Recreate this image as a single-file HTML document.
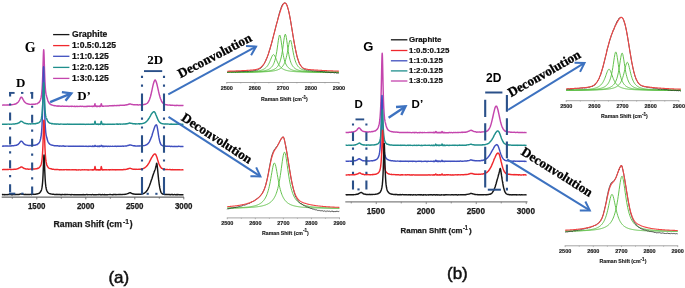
<!DOCTYPE html>
<html><head><meta charset="utf-8"><style>
html,body{margin:0;padding:0;background:#fff;}
body{width:685px;height:288px;overflow:hidden;font-family:"Liberation Sans",sans-serif;}
svg{display:block;will-change:transform;}
</style></head><body>
<svg width="685" height="288" viewBox="0 0 685 288">
<rect width="685" height="288" fill="#fff"/>
<path d="M2.00,105.10 2.50,105.15 3.00,105.08 3.50,105.06 4.00,105.00 4.50,105.05 5.00,105.14 5.50,105.08 6.00,105.11 6.50,105.03 7.00,105.03 7.50,104.99 8.00,104.82 8.50,105.00 9.00,104.94 9.50,104.91 10.00,104.71 10.50,104.67 11.00,104.69 11.50,104.68 12.00,104.69 12.50,104.60 13.00,104.57 13.50,104.39 14.00,104.37 14.50,104.26 15.00,104.03 15.50,104.05 16.00,103.75 16.50,103.54 17.00,103.08 17.50,102.68 18.00,102.22 18.50,101.62 19.00,100.92 19.50,99.99 20.00,98.94 20.50,97.95 21.00,97.31 21.50,97.27 22.00,97.50 22.50,98.38 23.00,99.37 23.50,100.18 24.00,101.13 24.50,101.92 25.00,102.21 25.50,102.78 26.00,103.14 26.50,103.36 27.00,103.68 27.50,103.81 28.00,103.84 28.50,104.14 29.00,104.21 29.50,104.31 30.00,104.40 30.50,104.35 31.00,104.36 31.50,104.27 32.00,104.43 32.50,104.33 33.00,104.32 33.50,104.24 34.00,104.22 34.50,104.21 35.00,104.29 35.50,103.94 36.00,103.89 36.50,103.90 37.00,103.83 37.50,103.56 38.00,103.09 38.50,102.70 39.00,102.47 39.50,101.77 40.00,100.87 40.50,99.79 40.70,99.14 40.80,98.70 40.90,98.29 41.00,97.86 41.10,97.47 41.20,96.85 41.30,96.25 41.40,95.60 41.50,94.71 41.60,94.14 41.70,93.23 41.80,92.21 41.90,90.91 42.00,89.79 42.10,88.53 42.20,86.78 42.30,85.20 42.40,83.37 42.50,81.04 42.60,78.90 42.70,76.19 42.80,73.26 42.90,70.19 43.00,66.93 43.10,63.50 43.20,60.19 43.30,56.84 43.40,54.03 43.50,51.90 43.60,50.37 43.70,49.79 43.80,50.41 43.90,51.86 44.00,53.91 44.10,56.62 44.20,59.89 44.30,63.23 44.40,66.57 44.50,69.94 44.60,72.80 44.70,75.80 44.80,78.16 44.90,80.51 45.00,82.70 45.10,84.58 45.20,86.19 45.30,87.59 45.40,88.85 45.50,89.97 45.60,90.99 45.70,91.80 45.80,92.59 45.90,93.27 46.00,93.81 46.10,94.38 46.20,94.81 46.30,95.33 46.40,95.57 46.50,95.85 46.60,96.19 46.70,96.55 46.80,96.96 46.90,97.20 47.00,97.61 47.10,98.09 47.20,98.10 47.30,98.58 47.40,99.05 47.50,99.42 47.60,99.76 47.70,100.03 47.80,100.44 47.90,100.70 48.00,100.92 48.10,101.42 48.20,101.50 48.30,101.66 48.40,101.91 48.50,102.10 48.60,102.30 48.70,102.26 48.80,102.60 48.90,102.88 49.00,102.85 49.10,103.07 49.20,103.28 49.30,103.39 49.40,103.56 49.50,103.41 49.60,103.62 49.70,103.71 49.80,103.88 50.00,104.09 50.50,104.14 51.00,104.73 51.50,104.76 52.00,105.13 52.50,105.12 53.00,105.39 53.50,105.59 54.00,105.58 54.50,105.69 55.00,105.81 55.50,105.83 56.00,105.86 56.50,106.04 57.00,106.05 57.50,105.98 58.00,106.25 58.50,105.97 59.00,106.16 59.50,106.09 60.00,106.14 60.50,106.21 61.00,106.18 61.50,106.23 62.00,106.07 62.50,106.09 63.00,106.27 63.50,106.15 64.00,106.16 64.50,106.13 65.00,106.36 65.50,106.32 66.00,106.39 66.50,106.20 67.00,106.28 67.50,106.20 68.00,106.36 68.50,106.43 69.00,106.23 69.50,106.43 70.00,106.39 70.50,106.30 71.00,106.16 71.50,106.44 72.00,106.32 72.50,106.28 73.00,106.36 73.50,106.37 74.00,106.46 74.50,106.26 75.00,106.43 75.50,106.46 76.00,106.46 76.50,106.33 77.00,106.29 77.50,106.43 78.00,106.36 78.50,106.36 79.00,106.47 79.50,106.33 80.00,106.17 80.50,106.33 81.00,106.21 81.50,106.42 82.00,106.38 82.50,106.31 83.00,106.36 83.50,106.43 84.00,106.37 84.50,106.47 85.00,106.36 85.50,106.44 86.00,106.48 86.50,106.49 87.00,106.30 87.50,106.43 88.00,106.21 88.50,106.27 89.00,106.20 89.50,106.44 90.00,106.25 90.50,106.35 91.00,106.33 91.50,106.34 92.00,106.29 92.10,106.36 92.20,106.48 92.30,106.34 92.40,106.38 92.50,106.42 92.60,106.32 92.70,106.23 92.80,106.29 92.90,106.42 93.00,106.20 93.10,106.28 93.20,106.41 93.30,106.39 93.40,106.33 93.50,106.39 93.60,106.34 93.70,106.23 93.80,106.20 93.90,106.27 94.00,106.39 94.10,106.25 94.20,106.18 94.30,106.10 94.40,105.87 94.50,105.70 94.60,105.21 94.70,104.85 94.80,104.14 94.90,103.98 95.00,103.76 95.10,103.80 95.20,104.38 95.30,104.79 95.40,105.12 95.50,105.63 95.60,106.01 95.70,106.12 95.80,106.30 95.90,106.34 96.00,106.35 96.10,106.33 96.20,106.41 96.30,106.35 96.40,106.34 96.50,106.13 96.60,106.37 96.70,106.40 96.80,106.27 96.90,106.26 97.00,106.45 97.10,106.15 97.20,106.33 97.30,106.48 97.40,106.21 97.50,106.34 97.60,106.43 97.70,106.27 97.80,106.33 97.90,106.35 98.00,106.21 98.30,106.27 98.40,106.29 98.50,106.34 98.60,106.26 98.70,106.25 98.80,106.18 98.90,106.23 99.00,106.33 99.10,106.27 99.20,106.19 99.30,106.19 99.40,106.47 99.50,106.34 99.60,106.30 99.70,106.04 99.80,106.29 99.90,106.28 100.00,106.38 100.10,106.27 100.20,106.23 100.30,106.27 100.40,106.05 100.50,106.25 100.60,106.10 100.70,105.84 100.80,105.72 100.90,105.35 101.00,104.60 101.10,104.17 101.20,103.87 101.30,103.73 101.40,103.81 101.50,104.13 101.60,104.87 101.70,105.27 101.80,105.50 101.90,105.76 102.00,106.17 102.10,106.20 102.20,106.31 102.30,106.24 102.40,106.11 102.50,106.20 102.60,106.00 102.70,106.11 102.80,106.17 102.90,106.21 103.00,106.11 103.10,106.15 103.20,106.20 103.30,106.19 103.40,106.20 103.50,106.17 103.60,106.12 103.70,106.21 103.80,106.14 103.90,106.07 104.00,106.08 104.10,106.13 104.20,106.12 104.30,106.14 104.50,106.12 105.00,106.11 105.50,106.07 106.00,105.96 106.50,106.07 107.00,106.10 107.50,106.03 108.00,105.96 108.50,105.99 109.00,105.85 109.50,105.75 110.00,105.88 110.50,105.78 111.00,105.89 111.50,105.72 112.00,105.57 112.50,105.67 113.00,105.85 113.50,105.67 114.00,105.56 114.50,105.58 115.00,105.66 115.50,105.63 116.00,105.58 116.50,105.66 117.00,105.57 117.50,105.49 118.00,105.51 118.50,105.58 119.00,105.50 119.50,105.48 120.00,105.28 120.50,105.33 121.00,105.38 121.50,105.27 122.00,105.35 122.50,105.29 123.00,105.28 123.50,105.16 124.00,105.34 124.50,105.20 125.00,105.03 125.50,105.00 126.00,105.14 126.50,104.82 127.00,104.82 127.50,104.71 128.00,104.49 128.50,104.24 129.00,104.19 129.50,104.07 130.00,104.08 130.50,104.08 131.00,104.13 131.50,104.34 132.00,104.46 132.50,104.55 133.00,104.64 133.50,104.69 134.00,104.82 134.50,104.72 135.00,104.79 135.50,104.86 136.00,104.76 136.50,104.85 137.00,104.73 137.50,104.83 138.00,104.93 138.50,104.92 139.00,104.86 139.50,104.84 140.00,104.73 140.50,104.97 141.00,104.84 141.50,104.86 142.00,104.67 142.50,104.69 143.00,104.51 143.50,104.67 144.00,104.62 144.50,104.31 145.00,104.35 145.50,104.26 146.00,103.88 146.50,103.63 147.00,103.35 147.50,102.94 148.00,102.29 148.50,101.64 149.00,100.70 149.50,99.54 150.00,98.11 150.50,96.50 151.00,94.55 151.50,92.23 152.00,90.04 152.50,87.68 153.00,85.43 153.50,83.47 154.00,81.80 154.50,80.68 155.00,80.02 155.50,80.26 156.00,81.23 156.50,82.65 157.00,84.49 157.50,86.63 158.00,88.82 158.50,91.20 159.00,93.33 159.50,95.31 160.00,97.06 160.50,98.67 161.00,99.80 161.50,101.05 162.00,102.03 162.50,102.62 163.00,103.31 163.50,103.73 164.00,103.93 164.50,104.27 165.00,104.46 165.50,104.66 166.00,104.79 166.50,104.83 167.00,104.83 167.50,104.95 168.00,105.01 168.50,105.12 169.00,105.12 169.50,105.08 170.00,105.06 170.50,105.17 171.00,105.16 171.50,105.16 172.00,105.26 172.50,105.25 173.00,105.32 173.50,105.37 174.00,105.31 174.50,105.54 175.00,105.34 175.50,105.47 176.00,105.40 176.50,105.50 177.00,105.23 177.50,105.37 178.00,105.46 178.50,105.49 179.00,105.64 179.50,105.49 180.00,105.57 180.50,105.54 181.00,105.56 181.50,105.53 182.00,105.48 182.50,105.54 183.00,105.42 183.50,105.60" fill="none" stroke="#c445ad" stroke-width="1.45" stroke-linejoin="round" />
<path d="M2.00,145.99 2.50,146.09 3.00,146.24 3.50,146.04 4.00,146.06 4.50,146.14 5.00,146.05 5.50,145.97 6.00,146.05 6.50,146.07 7.00,146.07 7.50,145.94 8.00,146.13 8.50,146.11 9.00,145.96 9.50,145.97 10.00,145.89 10.50,146.02 11.00,145.83 11.50,145.91 12.00,145.79 12.50,145.74 13.00,145.81 13.50,145.81 14.00,145.64 14.50,145.52 15.00,145.56 15.50,145.39 16.00,145.30 16.50,145.24 17.00,145.02 17.50,144.65 18.00,144.57 18.50,143.99 19.00,143.56 19.50,142.85 20.00,142.23 20.50,141.45 21.00,141.31 21.50,141.22 22.00,141.37 22.50,141.95 23.00,142.60 23.50,143.43 24.00,143.80 24.50,144.23 25.00,144.52 25.50,144.77 26.00,144.88 26.50,145.11 27.00,145.11 27.50,145.30 28.00,145.40 28.50,145.46 29.00,145.44 29.50,145.41 30.00,145.51 30.50,145.47 31.00,145.63 31.50,145.55 32.00,145.46 32.50,145.40 33.00,145.35 33.50,145.28 34.00,145.27 34.50,145.25 35.00,145.17 35.50,145.07 36.00,145.05 36.50,144.66 37.00,144.51 37.50,144.47 38.00,143.76 38.50,143.43 39.00,142.90 39.50,142.10 40.00,141.00 40.50,139.30 40.60,138.93 40.70,138.45 40.80,138.00 40.90,137.24 41.00,136.71 41.10,136.12 41.20,135.30 41.30,134.48 41.40,133.71 41.50,132.59 41.60,131.57 41.70,130.31 41.80,128.86 41.90,127.28 42.00,125.43 42.10,123.29 42.20,121.10 42.30,118.54 42.40,115.51 42.50,112.22 42.60,108.55 42.70,104.24 42.80,99.76 42.90,94.85 43.00,89.37 43.10,84.01 43.20,78.73 43.30,74.11 43.40,70.18 43.50,67.72 43.60,66.71 43.70,67.62 43.80,70.10 43.90,73.76 44.00,78.75 44.10,83.94 44.20,89.11 44.30,94.57 44.40,99.47 44.50,104.09 44.60,108.22 44.70,111.77 44.80,115.16 44.90,118.20 45.00,120.59 45.10,122.80 45.20,124.75 45.30,126.50 45.40,128.15 45.50,129.60 45.60,130.68 45.70,131.71 45.80,132.78 45.90,133.36 46.00,134.06 46.10,134.79 46.20,135.35 46.30,135.72 46.40,136.16 46.50,136.70 46.60,137.09 46.70,137.34 46.80,137.80 46.90,138.14 47.00,138.59 47.10,138.91 47.20,139.27 47.30,139.61 47.40,140.06 47.50,140.42 47.60,140.59 47.70,140.99 47.80,141.14 47.90,141.47 48.00,141.77 48.10,142.06 48.20,142.12 48.30,142.35 48.40,142.55 48.50,142.59 48.60,142.87 48.70,142.96 48.80,143.19 48.90,143.20 49.00,143.25 49.10,143.53 49.20,143.65 49.30,143.69 49.40,143.90 49.50,143.89 49.60,143.95 49.70,144.12 49.80,144.03 50.00,144.24 50.50,144.59 51.00,144.89 51.50,144.99 52.00,145.18 52.50,145.23 53.00,145.41 53.50,145.61 54.00,145.50 54.50,145.81 55.00,145.63 55.50,145.73 56.00,145.79 56.50,145.90 57.00,145.75 57.50,145.71 58.00,145.96 58.50,146.00 59.00,146.01 59.50,146.19 60.00,146.02 60.50,146.04 61.00,146.11 61.50,146.08 62.00,146.20 62.50,145.98 63.00,146.06 63.50,145.82 64.00,146.18 64.50,146.09 65.00,146.20 65.50,146.31 66.00,146.15 66.50,146.13 67.00,146.12 67.50,146.10 68.00,146.12 68.50,146.23 69.00,146.19 69.50,146.20 70.00,146.18 70.50,146.27 71.00,146.25 71.50,146.20 72.00,146.27 72.50,146.21 73.00,146.13 73.50,146.34 74.00,146.27 74.50,146.16 75.00,146.32 75.50,146.27 76.00,146.12 76.50,146.38 77.00,146.28 77.50,146.32 78.00,146.27 78.50,146.25 79.00,146.14 79.50,146.34 80.00,146.27 80.50,146.25 81.00,146.30 81.50,146.28 82.00,146.33 82.50,146.25 83.00,146.28 83.50,146.11 84.00,146.25 84.50,146.34 85.00,146.39 85.50,146.26 86.00,146.28 86.50,146.42 87.00,146.27 87.50,146.35 88.00,146.43 88.50,146.30 89.00,146.40 89.50,146.24 90.00,146.32 90.50,146.30 91.00,146.31 91.50,146.39 92.00,146.50 92.10,146.25 92.20,146.26 92.30,146.35 92.40,146.22 92.50,146.35 92.60,146.35 92.70,146.28 92.80,146.35 92.90,146.18 93.00,146.37 93.10,146.18 93.20,146.25 93.30,146.26 93.40,146.28 93.50,146.38 93.60,146.32 93.70,146.28 93.80,146.35 93.90,146.43 94.00,146.31 94.10,146.33 94.20,146.38 94.30,146.27 94.40,146.08 94.50,146.27 94.60,146.08 94.70,145.55 94.80,145.51 94.90,145.40 95.00,145.39 95.10,145.42 95.20,145.49 95.30,145.63 95.40,145.92 95.50,146.15 95.60,146.10 95.70,146.17 95.80,146.28 95.90,146.15 96.00,146.29 96.10,146.28 96.20,146.35 96.30,146.26 96.40,146.24 96.50,146.28 96.60,146.31 96.70,146.26 96.80,146.32 96.90,146.37 97.00,146.41 97.10,146.45 97.20,146.25 97.30,146.28 97.40,146.12 97.50,146.47 97.60,146.26 97.70,146.31 97.80,146.36 97.90,146.21 98.00,146.35 98.30,146.31 98.40,146.17 98.50,146.34 98.60,146.41 98.70,146.17 98.80,146.38 98.90,146.33 99.00,146.36 99.10,146.35 99.20,146.42 99.30,146.30 99.40,146.39 99.50,146.29 99.60,146.38 99.70,146.25 99.80,146.31 99.90,146.46 100.00,146.35 100.10,146.31 100.20,146.23 100.30,146.25 100.40,146.32 100.50,146.37 100.60,146.29 100.70,146.23 100.80,146.07 100.90,146.02 101.00,145.69 101.10,145.48 101.20,145.45 101.30,145.32 101.40,145.35 101.50,145.48 101.60,145.70 101.70,145.97 101.80,146.11 101.90,146.09 102.00,146.29 102.10,146.31 102.20,146.23 102.30,146.38 102.40,146.30 102.50,146.29 102.60,146.38 102.70,146.43 102.80,146.27 102.90,146.36 103.00,146.25 103.10,146.51 103.20,146.28 103.30,146.42 103.40,146.27 103.50,146.39 103.60,146.50 103.70,146.12 103.80,146.29 103.90,146.36 104.00,146.31 104.10,146.27 104.20,146.49 104.30,146.33 104.50,146.19 105.00,146.39 105.50,146.18 106.00,146.41 106.50,146.27 107.00,146.33 107.50,146.42 108.00,146.33 108.50,146.21 109.00,146.18 109.50,146.41 110.00,146.38 110.50,146.25 111.00,146.38 111.50,146.35 112.00,146.36 112.50,146.13 113.00,146.28 113.50,146.38 114.00,146.36 114.50,146.37 115.00,146.10 115.50,146.31 116.00,146.33 116.50,146.49 117.00,146.21 117.50,146.26 118.00,146.28 118.50,146.34 119.00,146.23 119.50,146.35 120.00,146.19 120.50,146.26 121.00,146.19 121.50,146.23 122.00,146.15 122.50,146.06 123.00,146.26 123.50,146.18 124.00,146.08 124.50,146.11 125.00,146.14 125.50,145.93 126.00,145.94 126.50,145.92 127.00,145.82 127.50,145.63 128.00,145.34 128.50,145.44 129.00,145.19 129.50,145.02 130.00,144.94 130.50,145.03 131.00,145.11 131.50,145.22 132.00,145.41 132.50,145.56 133.00,145.66 133.50,145.70 134.00,145.91 134.50,145.80 135.00,145.99 135.50,145.88 136.00,146.00 136.50,146.10 137.00,146.01 137.50,145.93 138.00,145.99 138.50,145.99 139.00,145.83 139.50,145.91 140.00,145.95 140.50,145.88 141.00,145.90 141.50,145.92 142.00,145.89 142.50,145.86 143.00,145.78 143.50,145.65 144.00,145.60 144.50,145.49 145.00,145.36 145.50,145.22 146.00,144.91 146.50,144.78 147.00,144.50 147.50,144.05 148.00,143.65 148.50,143.12 149.00,142.36 149.50,141.71 150.00,140.37 150.50,139.45 151.00,138.06 151.50,136.90 152.00,135.53 152.50,133.54 153.00,132.12 153.50,130.53 154.00,128.92 154.50,127.58 155.00,126.17 155.50,125.52 156.00,124.95 156.50,124.83 157.00,125.96 157.50,128.56 158.00,131.67 158.50,135.03 159.00,137.97 159.50,140.30 160.00,142.35 160.50,143.70 161.00,144.62 161.50,145.05 162.00,145.46 162.50,145.73 163.00,145.84 163.50,146.03 164.00,146.16 164.50,145.99 165.00,145.96 165.50,146.22 166.00,146.31 166.50,146.30 167.00,146.31 167.50,146.22 168.00,146.24 168.50,146.38 169.00,146.26 169.50,146.20 170.00,146.28 170.50,146.57 171.00,146.54 171.50,146.34 172.00,146.34 172.50,146.43 173.00,146.36 173.50,146.53 174.00,146.43 174.50,146.35 175.00,146.55 175.50,146.41 176.00,146.48 176.50,146.46 177.00,146.44 177.50,146.50 178.00,146.42 178.50,146.33 179.00,146.31 179.50,146.39 180.00,146.43 180.50,146.49 181.00,146.50 181.50,146.55 182.00,146.51 182.50,146.44 183.00,146.45 183.50,146.34" fill="none" stroke="#3f4fbf" stroke-width="1.45" stroke-linejoin="round" />
<path d="M2.00,124.21 2.50,124.26 3.00,124.26 3.50,124.21 4.00,124.20 4.50,124.29 5.00,124.21 5.50,124.26 6.00,124.24 6.50,124.21 7.00,124.29 7.50,124.13 8.00,124.14 8.50,124.10 9.00,124.09 9.50,124.27 10.00,124.27 10.50,124.12 11.00,124.15 11.50,124.18 12.00,124.13 12.50,124.14 13.00,123.92 13.50,123.94 14.00,123.99 14.50,124.03 15.00,123.88 15.50,123.74 16.00,123.71 16.50,123.59 17.00,123.46 17.50,123.50 18.00,123.15 18.50,122.96 19.00,122.84 19.50,122.40 20.00,121.93 20.50,121.47 21.00,121.30 21.50,121.37 22.00,121.50 22.50,121.91 23.00,122.21 23.50,122.61 24.00,122.85 24.50,123.14 25.00,123.40 25.50,123.32 26.00,123.54 26.50,123.66 27.00,123.66 27.50,123.73 28.00,123.86 28.50,123.99 29.00,123.90 29.50,123.89 30.00,123.75 30.50,124.04 31.00,123.89 31.50,123.87 32.00,123.78 32.50,123.85 33.00,123.75 33.50,123.82 34.00,123.82 34.50,123.75 35.00,123.72 35.50,123.58 36.00,123.69 36.50,123.44 37.00,123.24 37.50,123.24 38.00,123.02 38.50,122.79 39.00,122.55 39.50,122.21 40.00,121.54 40.50,120.83 40.70,120.53 40.80,120.23 40.90,119.90 41.00,119.64 41.10,119.30 41.20,118.96 41.30,118.63 41.40,118.14 41.50,117.48 41.60,117.14 41.70,116.48 41.80,115.94 41.90,115.10 42.00,114.32 42.10,113.54 42.20,112.22 42.30,111.01 42.40,109.63 42.50,108.00 42.60,106.30 42.70,104.53 42.80,102.26 42.90,99.75 43.00,97.17 43.10,94.57 43.20,91.63 43.30,88.90 43.40,86.47 43.50,84.55 43.60,83.28 43.70,82.75 43.80,83.12 43.90,84.41 44.00,86.52 44.10,88.96 44.20,91.55 44.30,94.42 44.40,97.15 44.50,99.72 44.60,102.06 44.70,104.15 44.80,106.13 44.90,107.76 45.00,109.49 45.10,110.75 45.20,111.77 45.30,113.00 45.40,113.85 45.50,114.40 45.60,115.38 45.70,115.89 45.80,116.51 45.90,116.70 46.00,117.23 46.10,117.57 46.20,117.86 46.30,118.12 46.40,118.44 46.50,118.46 46.60,118.69 46.70,118.89 46.80,119.17 46.90,119.37 47.00,119.67 47.10,119.88 47.20,120.08 47.30,120.24 47.40,120.47 47.50,120.79 47.60,120.97 47.70,121.10 47.80,121.25 47.90,121.56 48.00,121.54 48.10,121.79 48.20,121.96 48.30,121.97 48.40,122.17 48.50,122.12 48.60,122.39 48.70,122.41 48.80,122.36 48.90,122.62 49.00,122.56 49.10,122.81 49.20,122.72 49.30,122.82 49.40,122.91 49.50,122.91 49.60,123.01 49.70,122.99 49.80,123.14 50.00,123.17 50.50,123.35 51.00,123.25 51.50,123.67 52.00,123.66 52.50,123.59 53.00,123.80 53.50,123.88 54.00,123.97 54.50,123.83 55.00,124.08 55.50,123.97 56.00,124.20 56.50,124.01 57.00,124.10 57.50,124.03 58.00,123.99 58.50,124.18 59.00,124.18 59.50,124.24 60.00,124.19 60.50,124.09 61.00,124.01 61.50,124.10 62.00,124.10 62.50,124.10 63.00,124.22 63.50,124.20 64.00,124.16 64.50,124.20 65.00,124.18 65.50,124.21 66.00,124.26 66.50,124.28 67.00,124.15 67.50,124.09 68.00,124.33 68.50,124.22 69.00,124.30 69.50,124.09 70.00,124.19 70.50,124.23 71.00,124.11 71.50,124.19 72.00,124.29 72.50,124.32 73.00,124.36 73.50,124.16 74.00,124.12 74.50,124.28 75.00,124.31 75.50,124.25 76.00,124.14 76.50,124.30 77.00,124.31 77.50,124.29 78.00,124.20 78.50,124.27 79.00,124.31 79.50,124.20 80.00,124.10 80.50,124.27 81.00,124.29 81.50,124.25 82.00,124.32 82.50,124.20 83.00,124.24 83.50,124.23 84.00,124.30 84.50,124.38 85.00,124.23 85.50,124.42 86.00,124.37 86.50,124.32 87.00,124.30 87.50,124.39 88.00,124.24 88.50,124.24 89.00,124.17 89.50,124.29 90.00,124.36 90.50,124.30 91.00,124.29 91.50,124.24 92.00,124.27 92.10,124.14 92.20,124.34 92.30,124.22 92.40,124.16 92.50,124.19 92.60,124.19 92.70,124.32 92.80,124.34 92.90,124.14 93.00,124.33 93.10,124.32 93.20,124.21 93.30,124.13 93.40,124.19 93.50,124.20 93.60,124.28 93.70,124.22 93.80,124.09 93.90,124.27 94.00,124.12 94.10,124.29 94.20,124.08 94.30,124.01 94.40,123.79 94.50,123.48 94.60,123.14 94.70,122.52 94.80,121.91 94.90,121.44 95.00,121.13 95.10,121.38 95.20,121.82 95.30,122.37 95.40,123.08 95.50,123.46 95.60,123.80 95.70,123.98 95.80,124.01 95.90,124.27 96.00,124.35 96.10,124.26 96.20,124.17 96.30,124.03 96.40,124.27 96.50,124.35 96.60,124.28 96.70,124.33 96.80,124.37 96.90,124.34 97.00,124.22 97.10,124.34 97.20,124.31 97.30,124.13 97.40,124.22 97.50,124.14 97.60,124.24 97.70,124.30 97.80,124.17 97.90,124.09 98.00,124.35 98.30,124.28 98.40,124.37 98.50,124.14 98.60,124.33 98.70,124.42 98.80,124.41 98.90,124.23 99.00,124.27 99.10,124.24 99.20,124.33 99.30,124.33 99.40,124.26 99.50,124.14 99.60,124.31 99.70,124.21 99.80,124.30 99.90,124.27 100.00,124.38 100.10,124.34 100.20,124.21 100.30,124.27 100.40,124.36 100.50,124.12 100.60,124.10 100.70,123.95 100.80,123.62 100.90,123.08 101.00,122.34 101.10,121.75 101.20,121.43 101.30,121.28 101.40,121.62 101.50,121.79 101.60,122.54 101.70,123.10 101.80,123.38 101.90,123.79 102.00,124.07 102.10,124.13 102.20,124.20 102.30,124.27 102.40,124.18 102.50,124.28 102.60,124.19 102.70,124.20 102.80,124.29 102.90,124.20 103.00,124.27 103.10,124.37 103.20,124.25 103.30,124.23 103.40,124.30 103.50,124.22 103.60,124.33 103.70,124.14 103.80,124.29 103.90,124.20 104.00,124.18 104.10,124.38 104.20,124.18 104.30,124.38 104.50,124.30 105.00,124.36 105.50,124.16 106.00,124.34 106.50,124.36 107.00,124.23 107.50,124.23 108.00,124.43 108.50,124.25 109.00,124.20 109.50,124.18 110.00,124.27 110.50,124.25 111.00,124.24 111.50,124.36 112.00,124.20 112.50,124.26 113.00,124.34 113.50,124.14 114.00,124.30 114.50,124.36 115.00,124.10 115.50,124.12 116.00,124.12 116.50,124.05 117.00,124.23 117.50,124.04 118.00,124.23 118.50,124.30 119.00,124.05 119.50,124.14 120.00,124.01 120.50,124.22 121.00,124.09 121.50,124.12 122.00,124.13 122.50,124.16 123.00,124.07 123.50,124.08 124.00,124.02 124.50,124.04 125.00,123.91 125.50,123.97 126.00,123.77 126.50,123.82 127.00,123.94 127.50,123.70 128.00,123.48 128.50,123.47 129.00,123.23 129.50,123.06 130.00,123.09 130.50,123.24 131.00,123.31 131.50,123.40 132.00,123.46 132.50,123.55 133.00,123.82 133.50,123.80 134.00,123.75 134.50,123.69 135.00,123.77 135.50,124.09 136.00,123.81 136.50,123.90 137.00,123.93 137.50,123.89 138.00,123.87 138.50,123.77 139.00,123.78 139.50,123.98 140.00,123.76 140.50,123.85 141.00,123.61 141.50,123.67 142.00,123.64 142.50,123.62 143.00,123.34 143.50,123.34 144.00,123.15 144.50,122.86 145.00,122.70 145.50,122.28 146.00,121.92 146.50,121.55 147.00,120.83 147.50,120.46 148.00,119.74 148.50,118.98 149.00,118.28 149.50,117.53 150.00,116.57 150.50,115.81 151.00,114.74 151.50,113.90 152.00,113.37 152.50,112.63 153.00,112.18 153.50,111.73 154.00,111.75 154.50,111.95 155.00,112.65 155.50,113.62 156.00,114.94 156.50,116.11 157.00,117.40 157.50,118.60 158.00,119.92 158.50,120.72 159.00,121.48 159.50,122.12 160.00,122.65 160.50,122.95 161.00,123.29 161.50,123.46 162.00,123.61 162.50,123.68 163.00,123.83 163.50,123.85 164.00,123.94 164.50,123.99 165.00,124.02 165.50,123.84 166.00,124.00 166.50,124.00 167.00,124.14 167.50,123.97 168.00,124.05 168.50,124.09 169.00,124.10 169.50,124.22 170.00,124.11 170.50,124.23 171.00,124.05 171.50,124.03 172.00,124.28 172.50,124.22 173.00,124.23 173.50,124.20 174.00,124.24 174.50,124.11 175.00,124.28 175.50,124.17 176.00,124.29 176.50,124.23 177.00,124.06 177.50,124.12 178.00,124.32 178.50,124.22 179.00,124.20 179.50,124.26 180.00,124.20 180.50,124.20 181.00,124.25 181.50,124.26 182.00,124.37 182.50,124.25 183.00,124.40 183.50,124.40" fill="none" stroke="#1f8f8c" stroke-width="1.45" stroke-linejoin="round" />
<path d="M2.00,169.67 2.50,169.61 3.00,169.53 3.50,169.53 4.00,169.50 4.50,169.45 5.00,169.50 5.50,169.45 6.00,169.63 6.50,169.54 7.00,169.45 7.50,169.33 8.00,169.47 8.50,169.44 9.00,169.37 9.50,169.36 10.00,169.26 10.50,169.48 11.00,169.41 11.50,169.61 12.00,169.38 12.50,169.36 13.00,169.46 13.50,169.33 14.00,169.30 14.50,169.22 15.00,169.16 15.50,169.28 16.00,169.17 16.50,169.15 17.00,168.88 17.50,168.79 18.00,168.56 18.50,168.50 19.00,168.05 19.50,167.90 20.00,167.59 20.50,167.28 21.00,166.87 21.50,167.01 22.00,167.04 22.50,167.35 23.00,167.65 23.50,168.16 24.00,168.46 24.50,168.49 25.00,168.64 25.50,168.79 26.00,169.11 26.50,169.07 27.00,169.00 27.50,168.94 28.00,169.06 28.50,169.24 29.00,169.31 29.50,169.15 30.00,169.12 30.50,169.14 31.00,169.02 31.50,169.24 32.00,169.07 32.50,169.22 33.00,168.98 33.50,168.98 34.00,169.07 34.50,168.95 35.00,169.02 35.50,168.89 36.00,168.72 36.50,168.77 37.00,168.68 37.50,168.32 38.00,168.43 38.50,168.10 39.00,167.81 39.50,167.20 40.00,166.72 40.50,165.95 40.90,165.14 41.00,164.65 41.10,164.38 41.20,163.95 41.30,163.71 41.40,163.35 41.50,162.73 41.60,162.31 41.70,161.83 41.80,161.29 41.90,160.51 42.00,159.65 42.10,158.69 42.20,157.72 42.30,156.62 42.40,155.42 42.50,153.96 42.60,152.48 42.70,150.53 42.80,148.35 42.90,146.22 43.00,143.57 43.10,140.63 43.20,137.44 43.30,134.05 43.40,130.74 43.50,127.61 43.60,124.51 43.70,122.09 43.80,120.65 43.90,120.11 44.00,120.69 44.10,122.25 44.20,124.70 44.30,127.49 44.40,130.92 44.50,134.14 44.60,137.58 44.70,140.66 44.80,143.54 44.90,146.20 45.00,148.46 45.10,150.63 45.20,152.45 45.30,154.02 45.40,155.40 45.50,156.66 45.60,157.80 45.70,158.82 45.80,159.73 45.90,160.76 46.00,161.27 46.10,161.92 46.20,162.35 46.30,162.88 46.40,163.37 46.50,163.83 46.60,164.11 46.70,164.67 46.80,164.81 46.90,165.23 47.00,165.22 47.50,166.45 48.00,167.19 48.50,167.69 49.00,168.10 49.50,168.37 50.00,168.59 50.50,168.61 51.00,168.85 51.50,168.84 52.00,169.18 52.50,169.24 53.00,169.27 53.50,169.28 54.00,169.35 54.50,169.59 55.00,169.62 55.50,169.52 56.00,169.65 56.50,169.45 57.00,169.45 57.50,169.58 58.00,169.57 58.50,169.61 59.00,169.69 59.50,169.93 60.00,169.64 60.50,169.71 61.00,169.74 61.50,169.72 62.00,169.81 62.50,169.88 63.00,169.65 63.50,169.77 64.00,169.74 64.50,169.80 65.00,169.65 65.50,169.64 66.00,169.60 66.50,169.83 67.00,169.80 67.50,169.80 68.00,169.61 68.50,169.77 69.00,169.74 69.50,169.69 70.00,169.73 70.50,169.86 71.00,169.85 71.50,169.81 72.00,169.86 72.50,169.77 73.00,169.82 73.50,169.82 74.00,169.87 74.50,169.82 75.00,169.81 75.50,169.81 76.00,169.77 76.50,170.01 77.00,169.87 77.50,169.86 78.00,170.01 78.50,169.94 79.00,169.71 79.50,169.89 80.00,169.90 80.50,169.98 81.00,169.94 81.50,169.90 82.00,169.74 82.50,169.77 83.00,169.86 83.50,169.88 84.00,169.75 84.50,169.81 85.00,169.80 85.50,169.84 86.00,169.86 86.50,169.81 87.00,169.74 87.50,169.94 88.00,169.97 88.50,169.83 89.00,169.92 89.50,169.87 90.00,169.89 90.50,169.88 91.00,169.78 91.50,169.88 92.00,169.92 92.10,169.76 92.20,169.99 92.30,170.00 92.40,169.98 92.50,170.00 92.60,169.90 92.70,169.81 92.80,169.79 92.90,169.77 93.00,169.84 93.10,169.83 93.20,169.89 93.30,169.67 93.40,170.02 93.50,170.02 93.60,169.83 93.70,169.89 93.80,169.87 93.90,169.85 94.00,169.81 94.10,169.79 94.20,169.68 94.30,169.65 94.40,169.42 94.50,169.08 94.60,168.47 94.70,167.91 94.80,167.29 94.90,166.86 95.00,166.55 95.10,166.84 95.20,167.36 95.30,167.96 95.40,168.51 95.50,169.02 95.60,169.40 95.70,169.69 95.80,169.87 95.90,169.79 96.00,169.77 96.10,169.86 96.20,169.85 96.30,169.76 96.40,169.77 96.50,169.82 96.60,169.89 96.70,169.74 96.80,169.75 96.90,169.87 97.00,169.73 97.10,169.84 97.20,169.86 97.30,169.82 97.40,169.75 97.50,169.83 97.60,169.80 97.70,169.86 97.80,169.76 97.90,169.92 98.00,169.70 98.30,169.82 98.40,169.83 98.50,169.91 98.60,169.78 98.70,169.87 98.80,169.78 98.90,169.89 99.00,169.97 99.10,169.80 99.20,169.86 99.30,169.75 99.40,169.91 99.50,169.93 99.60,169.83 99.70,169.74 99.80,169.86 99.90,169.92 100.00,169.91 100.10,169.89 100.20,169.68 100.30,169.76 100.40,169.91 100.50,169.64 100.60,169.72 100.70,169.56 100.80,169.11 100.90,168.62 101.00,167.88 101.10,167.18 101.20,166.79 101.30,166.61 101.40,166.80 101.50,167.33 101.60,167.89 101.70,168.55 101.80,169.08 101.90,169.41 102.00,169.77 102.10,169.77 102.20,169.80 102.30,169.80 102.40,169.77 102.50,169.93 102.60,169.83 102.70,169.74 102.80,169.78 102.90,169.81 103.00,169.79 103.10,169.91 103.20,169.73 103.30,169.86 103.40,169.83 103.50,169.73 103.60,169.82 103.70,169.81 103.80,169.86 103.90,169.78 104.00,169.84 104.10,169.69 104.20,169.73 104.30,169.88 104.50,169.90 105.00,169.82 105.50,169.77 106.00,169.90 106.50,169.64 107.00,169.75 107.50,169.86 108.00,169.86 108.50,169.72 109.00,169.65 109.50,169.92 110.00,169.81 110.50,169.72 111.00,169.80 111.50,169.86 112.00,169.58 112.50,169.87 113.00,169.84 113.50,169.61 114.00,169.84 114.50,169.63 115.00,169.86 115.50,169.80 116.00,169.94 116.50,169.71 117.00,169.75 117.50,169.83 118.00,169.69 118.50,169.67 119.00,169.69 119.50,169.71 120.00,169.62 120.50,169.73 121.00,169.73 121.50,169.67 122.00,169.79 122.50,169.61 123.00,169.72 123.50,169.55 124.00,169.63 124.50,169.38 125.00,169.51 125.50,169.43 126.00,169.34 126.50,169.26 127.00,169.18 127.50,169.03 128.00,168.76 128.50,168.71 129.00,168.54 129.50,168.39 130.00,168.29 130.50,168.41 131.00,168.61 131.50,168.69 132.00,168.83 132.50,169.11 133.00,169.18 133.50,169.26 134.00,169.33 134.50,169.26 135.00,169.30 135.50,169.42 136.00,169.30 136.50,169.33 137.00,169.37 137.50,169.36 138.00,169.29 138.50,169.37 139.00,169.25 139.50,169.29 140.00,169.28 140.50,169.19 141.00,169.13 141.50,168.89 142.00,168.78 142.50,168.71 143.00,168.64 143.50,168.54 144.00,168.10 144.50,167.96 145.00,167.55 145.50,167.18 146.00,166.79 146.50,166.37 147.00,165.76 147.50,165.20 148.00,164.32 148.50,163.69 149.00,162.85 149.50,161.88 150.00,160.97 150.50,159.92 151.00,158.89 151.50,157.97 152.00,157.02 152.50,156.43 153.00,155.38 153.50,154.91 154.00,154.31 154.50,154.01 155.00,153.94 155.50,154.11 156.00,155.05 156.50,156.23 157.00,157.57 157.50,159.36 158.00,160.99 158.50,162.53 159.00,164.02 159.50,165.09 160.00,166.19 160.50,167.04 161.00,167.57 161.50,168.24 162.00,168.40 162.50,168.69 163.00,169.04 163.50,169.06 164.00,169.25 164.50,169.21 165.00,169.41 165.50,169.36 166.00,169.52 166.50,169.40 167.00,169.59 167.50,169.56 168.00,169.61 168.50,169.62 169.00,169.65 169.50,169.55 170.00,169.47 170.50,169.69 171.00,169.62 171.50,169.67 172.00,169.75 172.50,169.57 173.00,169.68 173.50,169.70 174.00,169.67 174.50,169.79 175.00,169.75 175.50,169.71 176.00,169.70 176.50,169.85 177.00,169.74 177.50,169.84 178.00,169.83 178.50,169.65 179.00,169.72 179.50,169.81 180.00,169.84 180.50,169.88 181.00,169.88 181.50,169.90 182.00,169.79 182.50,169.81 183.00,169.89 183.50,169.80" fill="none" stroke="#f0282d" stroke-width="1.45" stroke-linejoin="round" />
<path d="M2.00,194.75 2.50,194.54 3.00,194.72 3.50,194.65 4.00,194.51 4.50,194.74 5.00,194.69 5.50,194.66 6.00,194.57 6.50,194.62 7.00,194.78 7.50,194.59 8.00,194.38 8.50,194.58 9.00,194.55 9.50,194.64 10.00,194.61 10.50,194.57 11.00,194.57 11.50,194.72 12.00,194.52 12.50,194.79 13.00,194.58 13.50,194.53 14.00,194.68 14.50,194.65 15.00,194.51 15.50,194.65 16.00,194.43 16.50,194.48 17.00,194.63 17.50,194.49 18.00,194.38 18.50,194.48 19.00,194.45 19.50,194.30 20.00,194.07 20.50,194.08 21.00,194.07 21.50,194.09 22.00,194.23 22.50,194.16 23.00,194.23 23.50,194.33 24.00,194.49 24.50,194.36 25.00,194.56 25.50,194.26 26.00,194.56 26.50,194.45 27.00,194.54 27.50,194.56 28.00,194.41 28.50,194.50 29.00,194.52 29.50,194.54 30.00,194.41 30.50,194.39 31.00,194.31 31.50,194.65 32.00,194.41 32.50,194.39 33.00,194.26 33.50,194.43 34.00,194.28 34.50,194.40 35.00,194.31 35.50,194.20 36.00,194.19 36.50,193.97 37.00,193.94 37.50,193.81 38.00,193.62 38.50,193.54 39.00,193.30 39.50,193.11 40.00,192.31 40.50,191.92 41.00,191.01 41.10,190.82 41.20,190.64 41.30,190.37 41.40,190.04 41.50,189.66 41.60,189.38 41.70,188.96 41.80,188.33 41.90,187.95 42.00,187.30 42.10,186.69 42.20,186.09 42.30,185.29 42.40,184.40 42.50,183.31 42.60,182.22 42.70,180.86 42.80,179.50 42.90,177.87 43.00,176.09 43.10,173.97 43.20,171.51 43.30,169.05 43.40,166.38 43.50,163.78 43.60,161.29 43.70,158.83 43.80,156.69 43.90,155.52 44.00,155.08 44.10,155.66 44.20,156.86 44.30,158.79 44.40,161.28 44.50,163.69 44.60,166.38 44.70,169.24 44.80,171.60 44.90,173.81 45.00,175.79 45.10,177.69 45.20,179.27 45.30,180.94 45.40,182.24 45.50,183.46 45.60,184.38 45.70,185.23 45.80,186.02 45.90,186.94 46.00,187.27 46.10,187.99 46.20,188.48 46.30,188.98 46.40,189.30 46.50,189.74 46.60,190.10 46.70,190.32 46.80,190.57 46.90,190.84 47.00,191.01 47.50,191.96 48.00,192.55 48.50,193.02 49.00,193.42 49.50,193.65 50.00,193.69 50.50,193.91 51.00,194.00 51.50,194.12 52.00,194.14 52.50,194.22 53.00,194.21 53.50,194.23 54.00,194.40 54.50,194.47 55.00,194.45 55.50,194.45 56.00,194.46 56.50,194.42 57.00,194.33 57.50,194.55 58.00,194.52 58.50,194.47 59.00,194.45 59.50,194.64 60.00,194.40 60.50,194.70 61.00,194.61 61.50,194.76 62.00,194.52 62.50,194.58 63.00,194.55 63.50,194.60 64.00,194.58 64.50,194.54 65.00,194.69 65.50,194.55 66.00,194.57 66.50,194.66 67.00,194.57 67.50,194.59 68.00,194.65 68.50,194.60 69.00,194.53 69.50,194.62 70.00,194.61 70.50,194.77 71.00,194.55 71.50,194.71 72.00,194.58 72.50,194.61 73.00,194.61 73.50,194.66 74.00,194.71 74.50,194.78 75.00,194.59 75.50,194.75 76.00,194.73 76.50,194.71 77.00,194.59 77.50,194.72 78.00,194.64 78.50,194.68 79.00,194.63 79.50,194.71 80.00,194.74 80.50,194.74 81.00,194.64 81.50,194.73 82.00,194.77 82.50,194.58 83.00,194.77 83.50,194.55 84.00,194.70 84.50,194.70 85.00,194.77 85.50,194.68 86.00,194.62 86.50,194.59 87.00,194.56 87.50,194.72 88.00,194.64 88.50,194.60 89.00,194.70 89.50,194.60 90.00,194.62 90.50,194.62 91.00,194.79 91.50,194.77 92.00,194.64 92.50,194.53 93.00,194.68 93.50,194.66 94.00,194.68 94.50,194.70 95.00,194.63 95.50,194.73 96.00,194.72 96.50,194.67 97.00,194.62 97.50,194.61 98.00,194.71 98.50,194.56 99.00,194.64 99.50,194.59 100.00,194.54 100.50,194.70 101.00,194.65 101.50,194.65 102.00,194.72 102.50,194.53 103.00,194.64 103.50,194.67 104.00,194.71 104.50,194.55 105.00,194.70 105.50,194.66 106.00,194.75 106.50,194.73 107.00,194.68 107.50,194.81 108.00,194.63 108.50,194.60 109.00,194.60 109.50,194.55 110.00,194.62 110.50,194.47 111.00,194.61 111.50,194.65 112.00,194.70 112.50,194.59 113.00,194.72 113.50,194.56 114.00,194.59 114.50,194.45 115.00,194.54 115.50,194.53 116.00,194.70 116.50,194.62 117.00,194.49 117.50,194.61 118.00,194.60 118.50,194.54 119.00,194.55 119.50,194.52 120.00,194.49 120.50,194.38 121.00,194.50 121.50,194.59 122.00,194.58 122.50,194.43 123.00,194.37 123.50,194.38 124.00,194.43 124.50,194.35 125.00,194.22 125.50,194.23 126.00,194.11 126.50,194.06 127.00,193.86 127.50,193.61 128.00,193.53 128.50,193.35 129.00,192.96 129.50,192.84 130.00,192.84 130.50,192.81 131.00,192.98 131.50,193.42 132.00,193.56 132.50,193.76 133.00,193.77 133.50,194.09 134.00,193.92 134.50,194.08 135.00,194.23 135.50,194.32 136.00,194.17 136.50,194.22 137.00,194.30 137.50,194.14 138.00,194.34 138.50,194.33 139.00,194.24 139.50,194.29 140.00,194.28 140.50,194.21 141.00,194.17 141.50,194.18 142.00,193.93 142.50,193.86 143.00,193.66 143.50,193.60 144.00,193.26 144.50,193.04 145.00,192.67 145.50,192.25 146.00,191.88 146.50,191.16 147.00,190.60 147.50,189.77 148.00,188.92 148.50,187.81 149.00,186.79 149.50,185.57 150.00,184.16 150.50,182.84 151.00,181.35 151.50,179.85 152.00,178.43 152.50,176.74 153.00,175.17 153.50,173.70 153.80,172.96 153.90,172.66 154.00,172.44 154.10,172.20 154.20,172.02 154.30,171.64 154.40,171.38 154.50,171.02 154.60,170.84 154.70,170.63 154.80,170.35 154.90,169.82 155.00,169.75 155.10,169.51 155.20,169.15 155.30,168.66 155.40,168.42 155.50,168.14 155.60,167.77 155.70,167.29 155.80,166.87 155.90,166.58 156.00,165.94 156.10,165.68 156.20,165.08 156.30,164.63 156.40,164.05 156.50,163.71 156.60,163.54 156.70,163.27 156.80,163.64 156.90,163.67 157.00,164.18 157.10,164.94 157.20,165.76 157.30,166.68 157.40,167.55 157.50,168.57 157.60,169.59 157.70,170.59 157.80,171.46 157.90,172.75 158.00,173.70 158.10,174.68 158.20,175.59 158.30,176.61 158.40,177.52 158.50,178.43 158.60,179.41 158.70,180.06 158.80,181.05 158.90,181.77 159.00,182.62 159.10,183.52 159.20,184.05 159.30,184.83 159.40,185.47 159.50,186.23 159.60,186.69 159.70,187.21 159.80,187.93 160.00,188.87 160.50,190.87 161.00,192.33 161.50,193.05 162.00,193.63 162.50,193.98 163.00,194.18 163.50,194.22 164.00,194.41 164.50,194.55 165.00,194.39 165.50,194.59 166.00,194.31 166.50,194.60 167.00,194.48 167.50,194.54 168.00,194.51 168.50,194.50 169.00,194.47 169.50,194.54 170.00,194.68 170.50,194.68 171.00,194.57 171.50,194.56 172.00,194.55 172.50,194.52 173.00,194.76 173.50,194.67 174.00,194.64 174.50,194.59 175.00,194.56 175.50,194.74 176.00,194.70 176.50,194.57 177.00,194.72 177.50,194.56 178.00,194.70 178.50,194.58 179.00,194.62 179.50,194.69 180.00,194.69 180.50,194.74 181.00,194.60 181.50,194.78 182.00,194.77 182.50,194.66 183.00,194.70 183.50,194.61" fill="none" stroke="#161616" stroke-width="1.45" stroke-linejoin="round" />
<line x1="1.7" y1="197.1" x2="184.0" y2="197.1" stroke="#666" stroke-width="1.1" />
<line x1="12.3" y1="197.1" x2="12.3" y2="198.7" stroke="#666" stroke-width="0.9" />
<line x1="36.8" y1="197.1" x2="36.8" y2="199.4" stroke="#666" stroke-width="0.9" />
<line x1="61.3" y1="197.1" x2="61.3" y2="198.7" stroke="#666" stroke-width="0.9" />
<line x1="85.8" y1="197.1" x2="85.8" y2="199.4" stroke="#666" stroke-width="0.9" />
<line x1="110.3" y1="197.1" x2="110.3" y2="198.7" stroke="#666" stroke-width="0.9" />
<line x1="134.8" y1="197.1" x2="134.8" y2="199.4" stroke="#666" stroke-width="0.9" />
<line x1="159.3" y1="197.1" x2="159.3" y2="198.7" stroke="#666" stroke-width="0.9" />
<line x1="183.8" y1="197.1" x2="183.8" y2="199.4" stroke="#666" stroke-width="0.9" />
<text x="36.7" y="208.8" font-family="Liberation Sans" font-size="8.5" font-weight="bold" text-anchor="middle" fill="#1a1a1a" stroke="#1a1a1a" stroke-width="0.25" textLength="17.6" lengthAdjust="spacingAndGlyphs">1500</text>
<text x="85.7" y="208.8" font-family="Liberation Sans" font-size="8.5" font-weight="bold" text-anchor="middle" fill="#1a1a1a" stroke="#1a1a1a" stroke-width="0.25" textLength="17.6" lengthAdjust="spacingAndGlyphs">2000</text>
<text x="134.7" y="208.8" font-family="Liberation Sans" font-size="8.5" font-weight="bold" text-anchor="middle" fill="#1a1a1a" stroke="#1a1a1a" stroke-width="0.25" textLength="17.6" lengthAdjust="spacingAndGlyphs">2500</text>
<text x="183.7" y="208.8" font-family="Liberation Sans" font-size="8.5" font-weight="bold" text-anchor="middle" fill="#1a1a1a" stroke="#1a1a1a" stroke-width="0.25" textLength="17.6" lengthAdjust="spacingAndGlyphs">3000</text>
<text x="53.6" y="226.8" font-family="Liberation Sans" font-size="8.5" font-weight="bold" text-anchor="start" fill="#1a1a1a" stroke="#1a1a1a" stroke-width="0.25" textLength="68.3" lengthAdjust="spacingAndGlyphs">Raman Shift (cm</text>
<text x="122.9" y="223.6" font-family="Liberation Sans" font-size="7.8" font-weight="bold" text-anchor="start" fill="#1a1a1a" stroke="#1a1a1a" stroke-width="0.2" textLength="6.0" lengthAdjust="spacingAndGlyphs">-1</text>
<text x="129.8" y="226.8" font-family="Liberation Sans" font-size="8.5" font-weight="bold" text-anchor="start" fill="#1a1a1a" stroke="#1a1a1a" stroke-width="0.25" >)</text>
<line x1="53.1" y1="34.6" x2="69.4" y2="34.6" stroke="#161616" stroke-width="1.3" />
<text x="72" y="36.9" font-family="Liberation Sans" font-size="8.6" font-weight="bold" text-anchor="start" fill="#111" stroke="#111" stroke-width="0.2" >Graphite</text>
<line x1="53.1" y1="45.6" x2="69.4" y2="45.6" stroke="#f0282d" stroke-width="1.3" />
<text x="72" y="47.9" font-family="Liberation Sans" font-size="8.6" font-weight="bold" text-anchor="start" fill="#111" stroke="#111" stroke-width="0.2" >1:0.5:0.125</text>
<line x1="53.1" y1="56.3" x2="69.4" y2="56.3" stroke="#3f4fbf" stroke-width="1.3" />
<text x="72" y="58.599999999999994" font-family="Liberation Sans" font-size="8.6" font-weight="bold" text-anchor="start" fill="#111" stroke="#111" stroke-width="0.2" >1:1:0.125</text>
<line x1="53.1" y1="67.4" x2="69.4" y2="67.4" stroke="#1f8f8c" stroke-width="1.3" />
<text x="72" y="69.7" font-family="Liberation Sans" font-size="8.6" font-weight="bold" text-anchor="start" fill="#111" stroke="#111" stroke-width="0.2" >1:2:0.125</text>
<line x1="53.1" y1="78.4" x2="69.4" y2="78.4" stroke="#c445ad" stroke-width="1.3" />
<text x="72" y="80.7" font-family="Liberation Sans" font-size="8.6" font-weight="bold" text-anchor="start" fill="#111" stroke="#111" stroke-width="0.2" >1:3:0.125</text>
<text x="24.7" y="52.2" font-family="Liberation Serif" font-size="14" font-weight="bold" text-anchor="start" fill="#000" >G</text>
<text x="16.0" y="86.6" font-family="Liberation Serif" font-size="13" font-weight="bold" text-anchor="start" fill="#000" >D</text>
<text x="77.2" y="99.8" font-family="Liberation Serif" font-size="13" font-weight="bold" text-anchor="start" fill="#000" >D&#8217;</text>
<text x="147.2" y="64.4" font-family="Liberation Serif" font-size="13" font-weight="bold" text-anchor="start" fill="#000" >2D</text>
<path d="M345.60,132.47 346.10,132.37 346.60,132.46 347.10,132.45 347.60,132.52 348.10,132.47 348.60,132.44 349.10,132.32 349.60,132.30 350.10,132.26 350.60,132.27 351.10,132.06 351.60,132.21 352.10,131.97 352.60,131.97 353.10,131.92 353.60,131.77 354.10,131.80 354.60,131.49 355.10,131.40 355.60,131.09 356.10,130.61 356.60,130.24 357.10,129.76 357.60,129.01 358.10,128.42 358.60,127.92 359.10,127.84 359.60,128.07 360.10,128.63 360.60,129.32 361.10,129.94 361.60,130.33 362.10,130.73 362.60,131.08 363.10,131.23 363.60,131.35 364.10,131.65 364.60,131.60 365.10,131.83 365.60,131.75 366.10,132.01 366.60,131.82 367.10,131.99 367.60,132.05 368.10,131.86 368.60,132.05 369.10,131.86 369.60,131.77 370.10,131.93 370.60,131.89 371.10,131.78 371.60,131.55 372.10,131.67 372.60,131.57 373.10,131.47 373.60,131.36 374.10,131.11 374.60,131.03 375.10,131.00 375.60,130.73 376.10,130.26 376.60,129.82 377.10,129.38 377.60,128.73 378.10,127.75 378.60,126.27 379.10,124.43 379.20,123.93 379.30,123.49 379.40,122.89 379.50,122.20 379.60,121.55 379.70,120.65 379.80,119.95 379.90,118.87 380.00,117.90 380.10,116.79 380.20,115.38 380.30,113.98 380.40,112.32 380.50,110.70 380.60,108.72 380.70,106.49 380.80,104.09 380.90,101.13 381.00,98.22 381.10,94.82 381.20,91.02 381.30,86.98 381.40,82.60 381.50,77.72 381.60,72.81 381.70,67.98 381.80,63.44 381.90,59.41 382.00,56.10 382.10,54.17 382.20,53.29 382.30,54.13 382.40,56.14 382.50,59.32 382.60,63.48 382.70,67.87 382.80,72.70 382.90,77.59 383.00,82.30 383.10,86.54 383.20,90.75 383.30,94.40 383.40,97.88 383.50,100.97 383.60,103.57 383.70,105.97 383.80,108.14 383.90,109.81 384.00,111.79 384.10,113.28 384.20,114.59 384.30,115.74 384.40,116.77 384.50,117.75 384.60,118.70 384.70,119.34 384.80,120.12 384.90,120.42 385.00,121.13 385.10,121.69 385.20,122.13 385.30,122.44 385.40,122.93 385.50,123.48 385.60,123.68 385.70,124.10 385.80,124.47 385.90,124.89 386.00,125.35 386.10,125.71 386.20,125.85 386.30,126.45 386.40,126.61 386.50,126.91 386.60,127.36 386.70,127.49 386.80,127.65 386.90,127.92 387.00,128.13 387.10,128.31 387.20,128.55 387.30,128.82 387.40,128.95 387.50,128.97 387.60,129.44 387.70,129.28 387.80,129.50 387.90,129.61 388.00,129.78 388.10,129.81 388.20,129.97 388.30,130.19 388.40,130.13 388.50,130.12 388.60,130.31 389.10,130.58 389.60,130.89 390.10,131.15 390.60,131.35 391.10,131.45 391.60,131.67 392.10,131.69 392.60,131.70 393.10,131.95 393.60,131.92 394.10,132.10 394.60,132.01 395.10,132.15 395.60,132.17 396.10,131.98 396.60,132.11 397.10,132.17 397.60,132.39 398.10,132.16 398.60,132.40 399.10,132.43 399.60,132.40 400.10,132.43 400.60,132.36 401.10,132.41 401.60,132.44 402.10,132.47 402.60,132.50 403.10,132.44 403.60,132.42 404.10,132.44 404.60,132.52 405.10,132.37 405.60,132.41 406.10,132.48 406.60,132.47 407.10,132.50 407.60,132.32 408.10,132.51 408.60,132.52 409.10,132.60 409.60,132.40 410.10,132.53 410.60,132.59 411.10,132.60 411.60,132.66 412.10,132.65 412.60,132.49 413.10,132.62 413.60,132.55 414.10,132.52 414.60,132.70 415.10,132.54 415.60,132.52 416.10,132.56 416.60,132.53 417.10,132.67 417.60,132.62 418.10,132.70 418.60,132.63 419.10,132.55 419.60,132.68 420.10,132.55 420.60,132.57 421.10,132.59 421.60,132.61 422.10,132.70 422.60,132.56 423.10,132.64 423.60,132.61 424.10,132.51 424.60,132.53 425.10,132.60 425.60,132.65 426.10,132.64 426.60,132.65 427.10,132.62 427.60,132.58 428.10,132.65 428.60,132.54 429.10,132.51 429.60,132.59 430.10,132.51 430.60,132.58 431.10,132.56 431.60,132.58 432.10,132.62 432.60,132.56 432.80,132.59 432.90,132.49 433.00,132.63 433.10,132.55 433.20,132.65 433.30,132.40 433.40,132.56 433.50,132.64 433.60,132.43 433.70,132.59 433.80,132.63 433.90,132.63 434.00,132.50 434.10,132.64 434.20,132.63 434.30,132.54 434.40,132.68 434.50,132.62 434.60,132.62 434.70,132.58 434.80,132.66 434.90,132.62 435.00,132.68 435.10,132.59 435.20,132.44 435.30,132.36 435.40,132.29 435.50,131.99 435.60,131.85 435.70,131.71 435.80,131.60 435.90,131.49 436.00,131.83 436.10,132.03 436.20,132.22 436.30,132.32 436.40,132.58 436.50,132.55 436.60,132.54 436.70,132.55 436.80,132.64 436.90,132.53 437.00,132.54 437.10,132.77 437.20,132.72 437.30,132.70 437.40,132.72 437.50,132.66 437.60,132.49 437.70,132.71 437.80,132.71 437.90,132.66 438.00,132.47 438.10,132.71 438.20,132.72 438.30,132.58 438.40,132.63 438.50,132.68 438.60,132.61 438.70,132.70 438.80,132.62 439.00,132.67 439.10,132.62 439.20,132.50 439.30,132.54 439.40,132.86 439.50,132.64 439.60,132.72 439.70,132.70 439.80,132.75 439.90,132.66 440.00,132.57 440.10,132.62 440.20,132.47 440.30,132.60 440.40,132.68 440.50,132.45 440.60,132.63 440.70,132.68 440.80,132.72 440.90,132.54 441.00,132.56 441.10,132.46 441.20,132.51 441.30,132.59 441.40,132.64 441.50,132.28 441.60,132.32 441.70,132.04 441.80,131.78 441.90,131.84 442.00,131.42 442.10,131.66 442.20,131.83 442.30,132.18 442.40,132.35 442.50,132.54 442.60,132.49 442.70,132.62 442.80,132.69 442.90,132.64 443.00,132.63 443.10,132.59 443.20,132.58 443.30,132.51 443.40,132.76 443.50,132.57 443.60,132.45 443.70,132.63 443.80,132.61 443.90,132.62 444.00,132.75 444.10,132.60 444.20,132.59 444.30,132.55 444.40,132.61 444.50,132.57 444.60,132.62 444.70,132.85 444.80,132.64 444.90,132.54 445.00,132.76 445.10,132.67 445.60,132.67 446.10,132.66 446.60,132.66 447.10,132.65 447.60,132.71 448.10,132.67 448.60,132.70 449.10,132.55 449.60,132.59 450.10,132.53 450.60,132.66 451.10,132.65 451.60,132.54 452.10,132.62 452.60,132.78 453.10,132.66 453.60,132.48 454.10,132.55 454.60,132.61 455.10,132.55 455.60,132.58 456.10,132.63 456.60,132.56 457.10,132.44 457.60,132.58 458.10,132.51 458.60,132.51 459.10,132.45 459.60,132.38 460.10,132.37 460.60,132.43 461.10,132.36 461.60,132.22 462.10,132.50 462.60,132.29 463.10,132.30 463.60,132.37 464.10,132.11 464.60,132.36 465.10,132.14 465.60,132.19 466.10,132.03 466.60,132.00 467.10,131.88 467.60,131.73 468.10,131.41 468.60,131.23 469.10,131.09 469.60,130.92 470.10,130.50 470.60,130.40 471.10,130.31 471.60,130.44 472.10,130.69 472.60,130.76 473.10,131.16 473.60,131.34 474.10,131.51 474.60,131.61 475.10,131.73 475.60,131.80 476.10,131.86 476.60,132.19 477.10,132.16 477.60,132.06 478.10,132.13 478.60,132.01 479.10,131.87 479.60,131.94 480.10,132.09 480.60,132.18 481.10,132.05 481.60,131.95 482.10,131.99 482.60,131.90 483.10,131.83 483.60,131.87 484.10,131.80 484.60,131.70 485.10,131.60 485.60,131.49 486.10,131.43 486.60,131.33 487.10,130.95 487.60,130.81 488.10,130.08 488.60,129.66 489.10,128.83 489.60,128.01 490.10,126.93 490.60,125.63 491.10,124.11 491.60,122.18 492.10,120.12 492.60,118.02 493.10,115.78 493.60,113.40 494.10,111.32 494.60,109.40 495.10,107.54 495.60,106.58 496.10,106.16 496.60,106.15 497.10,107.22 497.60,108.68 498.10,110.52 498.60,112.95 499.10,115.21 499.60,117.51 500.10,119.85 500.60,121.96 501.10,123.86 501.60,125.49 502.10,126.87 502.60,127.90 503.10,128.89 503.60,129.68 504.10,130.03 504.60,130.86 505.10,131.00 505.60,131.21 506.10,131.35 506.60,131.66 507.10,131.76 507.60,131.80 508.10,131.89 508.60,131.92 509.10,131.98 509.60,132.08 510.10,132.08 510.60,132.22 511.10,132.19 511.60,132.24 512.10,132.29 512.60,132.38 513.10,132.35 513.60,132.34 514.10,132.33 514.60,132.30 515.10,132.35 515.60,132.44 516.10,132.42 516.60,132.39 517.10,132.33 517.60,132.32 518.10,132.48 518.60,132.54 519.10,132.50 519.60,132.38 520.10,132.47 520.60,132.52 521.10,132.44 521.60,132.54 522.10,132.50 522.60,132.46 523.10,132.44 523.60,132.60 524.10,132.57 524.60,132.48 525.10,132.47 525.60,132.63 526.10,132.61 526.60,132.54" fill="none" stroke="#c445ad" stroke-width="1.45" stroke-linejoin="round" />
<path d="M345.60,161.41 346.10,161.26 346.60,161.19 347.10,161.35 347.60,161.25 348.10,161.28 348.60,161.25 349.10,161.15 349.60,161.13 350.10,161.19 350.60,161.30 351.10,161.09 351.60,161.26 352.10,161.14 352.60,161.01 353.10,161.08 353.60,161.05 354.10,160.88 354.60,160.71 355.10,160.82 355.60,160.58 356.10,160.55 356.60,160.16 357.10,160.03 357.60,159.65 358.10,159.21 358.60,158.95 359.10,158.80 359.60,158.82 360.10,159.06 360.60,159.55 361.10,159.74 361.60,160.20 362.10,160.42 362.60,160.67 363.10,160.73 363.60,160.78 364.10,160.84 364.60,160.87 365.10,160.80 365.60,161.04 366.10,160.98 366.60,160.93 367.10,160.87 367.60,161.07 368.10,160.99 368.60,160.85 369.10,160.98 369.60,161.05 370.10,160.88 370.60,160.88 371.10,160.78 371.60,160.72 372.10,160.80 372.60,160.90 373.10,160.60 373.60,160.49 374.10,160.46 374.60,160.25 375.10,160.17 375.60,159.99 376.10,159.60 376.60,159.29 377.10,158.96 377.60,158.48 378.10,157.68 378.60,156.67 379.00,155.24 379.10,155.00 379.20,154.50 379.30,154.10 379.40,153.61 379.50,152.96 379.60,152.40 379.70,151.65 379.80,151.01 379.90,150.08 380.00,149.17 380.10,148.18 380.20,146.93 380.30,145.74 380.40,144.11 380.50,142.53 380.60,140.58 380.70,138.31 380.80,135.92 380.90,133.10 381.00,130.03 381.10,126.56 381.20,122.89 381.30,118.56 381.40,114.30 381.50,109.72 381.60,105.20 381.70,101.17 381.80,98.22 381.90,95.93 382.00,95.42 382.10,96.17 382.20,98.20 382.30,101.33 382.40,105.28 382.50,109.70 382.60,114.16 382.70,118.55 382.80,122.72 382.90,126.67 383.00,130.01 383.10,133.20 383.20,135.85 383.30,138.34 383.40,140.45 383.50,142.46 383.60,144.22 383.70,145.68 383.80,146.95 383.90,148.21 384.00,149.19 384.10,150.18 384.20,151.02 384.30,151.79 384.40,152.24 384.50,152.94 384.60,153.65 384.70,154.09 384.80,154.73 384.90,154.95 385.00,155.31 385.10,155.82 385.60,157.11 386.10,158.15 386.60,158.71 387.10,159.14 387.60,159.58 388.10,159.75 388.60,160.00 389.10,160.17 389.60,160.34 390.10,160.54 390.60,160.54 391.10,160.69 391.60,160.69 392.10,160.86 392.60,160.63 393.10,160.88 393.60,160.95 394.10,160.89 394.60,161.08 395.10,161.04 395.60,161.15 396.10,161.15 396.60,161.14 397.10,161.10 397.60,161.05 398.10,161.13 398.60,161.12 399.10,161.19 399.60,161.15 400.10,161.43 400.60,161.08 401.10,161.30 401.60,161.18 402.10,161.21 402.60,161.30 403.10,161.24 403.60,161.15 404.10,161.28 404.60,161.24 405.10,161.10 405.60,161.28 406.10,161.19 406.60,161.22 407.10,161.31 407.60,161.30 408.10,161.26 408.60,161.45 409.10,161.32 409.60,161.24 410.10,161.31 410.60,161.29 411.10,161.13 411.60,161.18 412.10,161.20 412.60,161.46 413.10,161.29 413.60,161.29 414.10,161.27 414.60,161.39 415.10,161.32 415.60,161.45 416.10,161.38 416.60,161.44 417.10,161.31 417.60,161.35 418.10,161.29 418.60,161.31 419.10,161.19 419.60,161.28 420.10,161.25 420.60,161.27 421.10,161.42 421.60,161.34 422.10,161.42 422.60,161.39 423.10,161.40 423.60,161.40 424.10,161.28 424.60,161.39 425.10,161.30 425.60,161.29 426.10,161.42 426.60,161.49 427.10,161.25 427.60,161.46 428.10,161.39 428.60,161.26 429.10,161.35 429.60,161.36 430.10,161.36 430.60,161.30 431.10,161.23 431.60,161.33 432.10,161.39 432.60,161.39 432.80,161.38 432.90,161.41 433.00,161.25 433.10,161.32 433.20,161.35 433.30,161.40 433.40,161.34 433.50,161.37 433.60,161.34 433.70,161.49 433.80,161.16 433.90,161.32 434.00,161.52 434.10,161.34 434.20,161.18 434.30,161.34 434.40,161.21 434.50,161.27 434.60,161.34 434.70,161.46 434.80,161.36 434.90,161.37 435.00,161.38 435.10,161.28 435.20,161.13 435.30,161.07 435.40,160.95 435.50,160.70 435.60,160.48 435.70,160.35 435.80,160.21 435.90,160.30 436.00,160.52 436.10,160.70 436.20,160.92 436.30,161.19 436.40,161.22 436.50,161.26 436.60,161.21 436.70,161.23 436.80,161.35 436.90,161.25 437.00,161.36 437.10,161.24 437.20,161.33 437.30,161.32 437.40,161.40 437.50,161.29 437.60,161.29 437.70,161.34 437.80,161.33 437.90,161.45 438.00,161.30 438.10,161.28 438.20,161.30 438.30,161.36 438.40,161.34 438.50,161.37 438.60,161.21 438.70,161.51 438.80,161.46 439.00,161.32 439.10,161.23 439.20,161.33 439.30,161.35 439.40,161.15 439.50,161.32 439.60,161.21 439.70,161.35 439.80,161.43 439.90,161.40 440.00,161.20 440.10,161.42 440.20,161.39 440.30,161.29 440.40,161.36 440.50,161.43 440.60,161.29 440.70,161.32 440.80,161.27 440.90,161.40 441.00,161.15 441.10,161.42 441.20,161.21 441.30,161.32 441.40,161.06 441.50,161.00 441.60,160.86 441.70,160.78 441.80,160.39 441.90,160.42 442.00,160.27 442.10,160.46 442.20,160.49 442.30,160.75 442.40,160.90 442.50,161.21 442.60,161.16 442.70,161.25 442.80,161.44 442.90,161.31 443.00,161.36 443.10,161.25 443.20,161.33 443.30,161.14 443.40,161.32 443.50,161.26 443.60,161.20 443.70,161.20 443.80,161.40 443.90,161.34 444.00,161.19 444.10,161.45 444.20,161.26 444.30,161.28 444.40,161.33 444.50,161.22 444.60,161.18 444.70,161.25 444.80,161.40 444.90,161.38 445.00,161.19 445.10,161.40 445.60,161.31 446.10,161.34 446.60,161.31 447.10,161.33 447.60,161.22 448.10,161.23 448.60,161.24 449.10,161.27 449.60,161.34 450.10,161.20 450.60,161.41 451.10,161.24 451.60,161.24 452.10,161.33 452.60,161.31 453.10,161.25 453.60,161.19 454.10,161.19 454.60,161.14 455.10,161.35 455.60,161.34 456.10,161.40 456.60,161.29 457.10,161.27 457.60,161.30 458.10,161.30 458.60,161.21 459.10,161.25 459.60,161.38 460.10,161.07 460.60,161.09 461.10,161.11 461.60,161.23 462.10,161.26 462.60,161.12 463.10,161.19 463.60,161.11 464.10,161.12 464.60,161.03 465.10,161.05 465.60,161.01 466.10,161.06 466.60,161.10 467.10,160.73 467.60,160.83 468.10,160.69 468.60,160.65 469.10,160.51 469.60,160.33 470.10,160.16 470.60,159.90 471.10,159.81 471.60,160.12 472.10,160.22 472.60,160.20 473.10,160.51 473.60,160.58 474.10,160.43 474.60,160.75 475.10,160.66 475.60,160.86 476.10,160.73 476.60,160.74 477.10,160.69 477.60,160.79 478.10,160.87 478.60,160.73 479.10,160.62 479.60,160.90 480.10,160.84 480.60,160.71 481.10,160.56 481.60,160.44 482.10,160.33 482.60,160.41 483.10,160.35 483.60,160.03 484.10,159.95 484.60,159.74 485.10,159.51 485.60,159.30 486.10,159.11 486.60,158.53 487.10,158.23 487.60,157.77 488.10,157.13 488.60,156.54 489.10,155.78 489.60,155.25 490.10,154.34 490.60,153.50 491.10,152.68 491.60,151.69 492.10,150.74 492.60,149.86 493.10,149.07 493.60,148.04 494.10,147.26 494.60,146.34 495.10,145.65 495.60,145.42 496.10,144.88 496.60,144.60 497.10,144.72 497.60,145.22 498.10,145.92 498.60,147.21 499.10,148.73 499.60,150.19 500.10,151.89 500.60,153.40 501.10,154.75 501.60,155.92 502.10,157.01 502.60,157.85 503.10,158.62 503.60,159.23 504.10,159.63 504.60,160.08 505.10,160.46 505.60,160.41 506.10,160.62 506.60,160.77 507.10,160.84 507.60,160.84 508.10,160.87 508.60,161.03 509.10,161.03 509.60,161.06 510.10,160.98 510.60,161.12 511.10,161.15 511.60,161.09 512.10,161.18 512.60,161.31 513.10,161.01 513.60,161.22 514.10,161.09 514.60,161.09 515.10,161.19 515.60,161.26 516.10,161.23 516.60,161.14 517.10,161.13 517.60,161.20 518.10,161.25 518.60,161.19 519.10,161.15 519.60,161.41 520.10,161.21 520.60,161.27 521.10,161.24 521.60,161.24 522.10,161.30 522.60,161.27 523.10,161.35 523.60,161.21 524.10,161.19 524.60,161.46 525.10,161.31 525.60,161.38 526.10,161.41 526.60,161.36" fill="none" stroke="#3f4fbf" stroke-width="1.45" stroke-linejoin="round" />
<path d="M345.60,145.32 346.10,145.19 346.60,145.19 347.10,145.38 347.60,145.35 348.10,145.34 348.60,145.15 349.10,145.11 349.60,145.18 350.10,145.16 350.60,145.25 351.10,145.14 351.60,145.33 352.10,145.13 352.60,145.11 353.10,145.19 353.60,145.11 354.10,144.97 354.60,145.04 355.10,145.04 355.60,144.70 356.10,144.64 356.60,144.39 357.10,144.09 357.60,144.00 358.10,143.67 358.60,143.38 359.10,143.17 359.60,143.05 360.10,143.47 360.60,143.75 361.10,144.02 361.60,144.28 362.10,144.62 362.60,144.68 363.10,144.96 363.60,144.93 364.10,144.81 364.60,145.07 365.10,145.13 365.60,145.07 366.10,144.99 366.60,145.24 367.10,145.01 367.60,145.11 368.10,144.97 368.60,145.02 369.10,144.98 369.60,145.19 370.10,145.19 370.60,145.06 371.10,144.97 371.60,145.05 372.10,145.06 372.60,144.88 373.10,144.88 373.60,144.92 374.10,144.93 374.60,144.83 375.10,144.78 375.60,144.56 376.10,144.35 376.60,144.43 377.10,144.15 377.60,143.96 378.10,143.61 378.60,143.21 379.10,142.44 379.30,142.25 379.40,141.94 379.50,141.75 379.60,141.52 379.70,141.28 379.80,140.93 379.90,140.44 380.00,140.16 380.10,139.95 380.20,139.39 380.30,138.90 380.40,138.33 380.50,137.61 380.60,136.89 380.70,136.09 380.80,135.33 380.90,134.24 381.00,133.19 381.10,131.77 381.20,130.40 381.30,128.61 381.40,126.62 381.50,124.80 381.60,122.45 381.70,120.16 381.80,117.67 381.90,115.28 382.00,113.20 382.10,111.39 382.20,110.27 382.30,109.90 382.40,110.32 382.50,111.37 382.60,113.17 382.70,115.33 382.80,117.81 382.90,120.21 383.00,122.43 383.10,124.73 383.20,126.70 383.30,128.61 383.40,130.25 383.50,131.69 383.60,133.06 383.70,134.10 383.80,135.27 383.90,136.12 384.00,136.87 384.10,137.63 384.20,138.34 384.30,138.80 384.40,139.40 384.50,139.86 384.60,140.34 384.70,140.49 384.80,140.90 384.90,141.25 385.00,141.59 385.10,141.74 385.20,142.00 385.30,142.03 385.60,142.62 386.10,143.42 386.60,143.71 387.10,144.21 387.60,144.22 388.10,144.43 388.60,144.47 389.10,144.75 389.60,144.81 390.10,145.02 390.60,144.93 391.10,144.95 391.60,144.90 392.10,145.04 392.60,145.16 393.10,145.17 393.60,145.23 394.10,145.22 394.60,145.17 395.10,145.23 395.60,145.21 396.10,145.11 396.60,145.36 397.10,145.26 397.60,145.16 398.10,145.28 398.60,145.28 399.10,145.35 399.60,145.39 400.10,145.04 400.60,145.33 401.10,145.41 401.60,145.22 402.10,145.15 402.60,145.33 403.10,145.33 403.60,145.34 404.10,145.23 404.60,145.28 405.10,145.33 405.60,145.38 406.10,145.50 406.60,145.35 407.10,145.28 407.60,145.14 408.10,145.42 408.60,145.32 409.10,145.33 409.60,145.26 410.10,145.40 410.60,145.20 411.10,145.35 411.60,145.35 412.10,145.37 412.60,145.45 413.10,145.34 413.60,145.35 414.10,145.41 414.60,145.22 415.10,145.33 415.60,145.35 416.10,145.43 416.60,145.29 417.10,145.41 417.60,145.38 418.10,145.23 418.60,145.23 419.10,145.24 419.60,145.36 420.10,145.37 420.60,145.41 421.10,145.42 421.60,145.31 422.10,145.44 422.60,145.42 423.10,145.39 423.60,145.39 424.10,145.25 424.60,145.38 425.10,145.27 425.60,145.26 426.10,145.33 426.60,145.37 427.10,145.35 427.60,145.33 428.10,145.28 428.60,145.37 429.10,145.30 429.60,145.24 430.10,145.36 430.60,145.47 431.10,145.32 431.60,145.27 432.10,145.46 432.60,145.49 432.80,145.33 432.90,145.34 433.00,145.37 433.10,145.59 433.20,145.36 433.30,145.43 433.40,145.39 433.50,145.21 433.60,145.27 433.70,145.26 433.80,145.39 433.90,145.36 434.00,145.50 434.10,145.33 434.20,145.38 434.30,145.36 434.40,145.36 434.50,145.54 434.60,145.38 434.70,145.47 434.80,145.45 434.90,145.29 435.00,145.37 435.10,145.24 435.20,145.19 435.30,145.05 435.40,144.83 435.50,144.53 435.60,144.44 435.70,144.10 435.80,144.11 435.90,144.26 436.00,144.37 436.10,144.65 436.20,144.94 436.30,145.12 436.40,145.32 436.50,145.16 436.60,145.47 436.70,145.34 436.80,145.21 436.90,145.30 437.00,145.24 437.10,145.35 437.20,145.23 437.30,145.27 437.40,145.37 437.50,145.36 437.60,145.29 437.70,145.33 437.80,145.34 437.90,145.36 438.00,145.35 438.10,145.33 438.20,145.42 438.30,145.22 438.40,145.31 438.50,145.36 438.60,145.32 438.70,145.31 438.80,145.31 439.00,145.37 439.10,145.45 439.20,145.33 439.30,145.33 439.40,145.38 439.50,145.33 439.60,145.19 439.70,145.37 439.80,145.32 439.90,145.30 440.00,145.40 440.10,145.35 440.20,145.30 440.30,145.17 440.40,145.21 440.50,145.35 440.60,145.34 440.70,145.38 440.80,145.36 440.90,145.31 441.00,145.24 441.10,145.25 441.20,145.30 441.30,145.17 441.40,145.24 441.50,144.92 441.60,144.68 441.70,144.55 441.80,144.17 441.90,144.25 442.00,143.97 442.10,144.11 442.20,144.29 442.30,144.50 442.40,144.68 442.50,144.88 442.60,145.24 442.70,145.34 442.80,145.48 442.90,145.21 443.00,145.38 443.10,145.34 443.20,145.41 443.30,145.30 443.40,145.40 443.50,145.41 443.60,145.39 443.70,145.46 443.80,145.33 443.90,145.47 444.00,145.29 444.10,145.48 444.20,145.12 444.30,145.34 444.40,145.28 444.50,145.34 444.60,145.42 444.70,145.40 444.80,145.35 444.90,145.48 445.00,145.22 445.10,145.28 445.60,145.46 446.10,145.36 446.60,145.17 447.10,145.36 447.60,145.24 448.10,145.45 448.60,145.42 449.10,145.29 449.60,145.43 450.10,145.26 450.60,145.40 451.10,145.37 451.60,145.31 452.10,145.21 452.60,145.30 453.10,145.13 453.60,145.27 454.10,145.16 454.60,145.41 455.10,145.23 455.60,145.11 456.10,145.35 456.60,145.33 457.10,145.25 457.60,145.46 458.10,145.35 458.60,145.29 459.10,145.23 459.60,145.04 460.10,145.31 460.60,145.34 461.10,145.21 461.60,145.13 462.10,145.23 462.60,145.09 463.10,145.22 463.60,145.26 464.10,145.31 464.60,145.19 465.10,145.16 465.60,145.18 466.10,145.20 466.60,145.02 467.10,144.90 467.60,144.87 468.10,144.76 468.60,144.69 469.10,144.63 469.60,144.53 470.10,144.38 470.60,144.28 471.10,144.21 471.60,144.32 472.10,144.47 472.60,144.59 473.10,144.77 473.60,144.72 474.10,144.80 474.60,145.02 475.10,144.94 475.60,144.99 476.10,144.95 476.60,145.07 477.10,144.97 477.60,144.93 478.10,145.01 478.60,144.97 479.10,145.07 479.60,144.97 480.10,145.00 480.60,144.95 481.10,144.98 481.60,144.88 482.10,145.00 482.60,144.77 483.10,144.81 483.60,144.74 484.10,144.80 484.60,144.68 485.10,144.64 485.60,144.47 486.10,144.32 486.60,144.14 487.10,144.02 487.60,143.78 488.10,143.58 488.60,143.27 489.10,142.94 489.60,142.41 490.10,141.85 490.60,141.24 491.10,140.68 491.60,139.98 492.10,139.32 492.60,138.33 493.10,137.55 493.60,136.63 494.10,135.46 494.60,134.70 495.10,133.80 495.60,132.99 496.10,132.16 496.60,131.65 497.10,131.12 497.60,130.92 498.10,130.93 498.60,131.48 499.10,132.12 499.60,133.33 500.10,134.56 500.60,135.89 501.10,137.35 501.60,138.71 502.10,139.81 502.60,140.98 503.10,141.78 503.60,142.52 504.10,143.21 504.60,143.64 505.10,143.94 505.60,144.16 506.10,144.50 506.60,144.67 507.10,144.72 507.60,144.86 508.10,144.78 508.60,144.99 509.10,145.03 509.60,145.05 510.10,145.01 510.60,145.09 511.10,145.12 511.60,145.21 512.10,145.17 512.60,145.18 513.10,145.12 513.60,145.26 514.10,145.29 514.60,145.17 515.10,145.27 515.60,145.26 516.10,145.24 516.60,145.14 517.10,145.40 517.60,145.11 518.10,145.29 518.60,145.24 519.10,145.37 519.60,145.25 520.10,145.29 520.60,145.34 521.10,145.34 521.60,145.26 522.10,145.36 522.60,145.34 523.10,145.39 523.60,145.28 524.10,145.32 524.60,145.29 525.10,145.26 525.60,145.35 526.10,145.36 526.60,145.45" fill="none" stroke="#1f8f8c" stroke-width="1.45" stroke-linejoin="round" />
<path d="M345.60,174.89 346.10,174.94 346.60,175.00 347.10,174.89 347.60,174.90 348.10,174.90 348.60,174.83 349.10,174.80 349.60,174.96 350.10,174.87 350.60,174.84 351.10,174.73 351.60,174.83 352.10,174.89 352.60,174.69 353.10,174.68 353.60,174.81 354.10,174.80 354.60,174.76 355.10,174.53 355.60,174.55 356.10,174.34 356.60,174.31 357.10,174.07 357.60,173.89 358.10,173.70 358.60,173.31 359.10,173.00 359.60,172.92 360.10,173.04 360.60,173.23 361.10,173.59 361.60,173.90 362.10,174.19 362.60,174.06 363.10,174.26 363.60,174.34 364.10,174.58 364.60,174.76 365.10,174.62 365.60,174.64 366.10,174.74 366.60,174.47 367.10,174.66 367.60,174.43 368.10,174.69 368.60,174.64 369.10,174.63 369.60,174.69 370.10,174.61 370.60,174.73 371.10,174.62 371.60,174.63 372.10,174.77 372.60,174.50 373.10,174.57 373.60,174.38 374.10,174.49 374.60,174.40 375.10,174.25 375.60,174.22 376.10,174.15 376.60,173.97 377.10,173.66 377.60,173.40 378.10,173.14 378.60,172.46 379.10,171.85 379.60,170.93 379.70,170.68 379.80,170.50 379.90,170.19 380.00,169.73 380.10,169.37 380.20,168.82 380.30,168.45 380.40,167.97 380.50,167.37 380.60,166.76 380.70,166.09 380.80,165.17 380.90,164.30 381.00,163.20 381.10,162.29 381.20,160.82 381.30,159.30 381.40,157.84 381.50,155.89 381.60,153.88 381.70,151.43 381.80,149.04 381.90,146.12 382.00,143.09 382.10,140.05 382.20,137.06 382.30,134.47 382.40,132.42 382.50,130.82 382.60,130.28 382.70,130.90 382.80,132.34 382.90,134.29 383.00,137.03 383.10,139.96 383.20,143.13 383.30,146.10 383.40,148.81 383.50,151.37 383.60,153.86 383.70,155.75 383.80,157.83 383.90,159.43 384.00,161.06 384.10,162.28 384.20,163.30 384.30,164.33 384.40,165.23 384.50,165.99 384.60,166.76 384.70,167.47 384.80,167.84 384.90,168.45 385.00,169.04 385.10,169.40 385.20,169.65 385.30,169.99 385.40,170.30 385.50,170.52 385.60,170.99 386.10,171.91 386.60,172.53 387.10,172.95 387.60,173.38 388.10,173.64 388.60,174.01 389.10,174.00 389.60,174.17 390.10,174.35 390.60,174.40 391.10,174.41 391.60,174.31 392.10,174.64 392.60,174.62 393.10,174.57 393.60,174.63 394.10,174.59 394.60,174.62 395.10,174.60 395.60,174.77 396.10,174.79 396.60,174.78 397.10,174.84 397.60,174.83 398.10,174.81 398.60,174.74 399.10,174.87 399.60,174.92 400.10,174.89 400.60,174.94 401.10,174.81 401.60,174.78 402.10,174.96 402.60,174.82 403.10,174.89 403.60,174.86 404.10,174.88 404.60,174.86 405.10,174.85 405.60,174.75 406.10,175.04 406.60,174.91 407.10,174.75 407.60,174.83 408.10,174.82 408.60,174.85 409.10,174.71 409.60,174.96 410.10,175.04 410.60,174.89 411.10,174.97 411.60,174.96 412.10,174.82 412.60,175.01 413.10,174.79 413.60,174.88 414.10,174.89 414.60,175.02 415.10,174.93 415.60,174.91 416.10,174.86 416.60,174.93 417.10,174.93 417.60,174.98 418.10,175.04 418.60,174.99 419.10,174.93 419.60,174.92 420.10,175.05 420.60,174.94 421.10,174.93 421.60,175.07 422.10,175.05 422.60,174.97 423.10,174.92 423.60,174.88 424.10,175.01 424.60,174.89 425.10,175.00 425.60,174.87 426.10,174.94 426.60,174.96 427.10,174.94 427.60,174.95 428.10,174.96 428.60,174.84 429.10,174.84 429.60,174.92 430.10,175.07 430.60,174.92 431.10,174.85 431.60,174.87 432.10,174.93 432.60,175.02 432.80,174.88 432.90,174.97 433.00,174.94 433.10,174.90 433.20,174.85 433.30,174.91 433.40,174.87 433.50,174.97 433.60,174.79 433.70,175.01 433.80,174.98 433.90,174.97 434.00,175.04 434.10,174.97 434.20,174.79 434.30,174.93 434.40,174.96 434.50,174.87 434.60,174.83 434.70,174.95 434.80,174.96 434.90,174.88 435.00,174.88 435.10,174.82 435.20,174.75 435.30,174.67 435.40,174.60 435.50,174.19 435.60,174.10 435.70,174.10 435.80,173.94 435.90,173.99 436.00,174.19 436.10,174.24 436.20,174.42 436.30,174.55 436.40,174.67 436.50,174.88 436.60,174.96 436.70,174.88 436.80,174.86 436.90,174.95 437.00,174.97 437.10,174.94 437.20,174.77 437.30,174.87 437.40,174.72 437.50,174.94 437.60,174.85 437.70,174.87 437.80,175.03 437.90,175.02 438.00,174.95 438.10,174.94 438.20,174.93 438.30,174.87 438.40,174.91 438.50,175.06 438.60,174.85 438.70,174.86 438.80,174.93 439.00,174.98 439.10,174.98 439.20,174.84 439.30,174.90 439.40,174.89 439.50,174.82 439.60,174.92 439.70,174.87 439.80,174.98 439.90,174.95 440.00,174.85 440.10,174.92 440.20,174.88 440.30,174.86 440.40,174.87 440.50,174.99 440.60,174.88 440.70,174.78 440.80,174.85 440.90,174.97 441.00,175.07 441.10,174.82 441.20,174.85 441.30,174.82 441.40,174.67 441.50,174.70 441.60,174.50 441.70,174.33 441.80,174.28 441.90,173.94 442.00,173.97 442.10,174.03 442.20,174.06 442.30,174.26 442.40,174.62 442.50,174.72 442.60,174.79 442.70,174.76 442.80,174.95 442.90,174.93 443.00,175.07 443.10,175.02 443.20,174.97 443.30,174.92 443.40,174.91 443.50,174.86 443.60,174.93 443.70,174.92 443.80,174.95 443.90,174.99 444.00,174.92 444.10,174.86 444.20,174.96 444.30,175.02 444.40,174.83 444.50,174.93 444.60,174.94 444.70,174.94 444.80,174.94 444.90,174.89 445.00,174.89 445.10,175.03 445.60,175.03 446.10,174.78 446.60,174.69 447.10,174.92 447.60,174.83 448.10,174.84 448.60,174.76 449.10,174.91 449.60,174.87 450.10,174.83 450.60,174.94 451.10,175.06 451.60,174.98 452.10,174.95 452.60,174.83 453.10,174.91 453.60,174.85 454.10,174.94 454.60,174.89 455.10,174.84 455.60,174.88 456.10,174.78 456.60,174.89 457.10,174.94 457.60,174.79 458.10,174.85 458.60,174.67 459.10,174.87 459.60,174.85 460.10,174.70 460.60,174.90 461.10,174.77 461.60,174.61 462.10,174.63 462.60,174.79 463.10,174.68 463.60,174.77 464.10,174.54 464.60,174.63 465.10,174.68 465.60,174.52 466.10,174.58 466.60,174.45 467.10,174.43 467.60,174.35 468.10,174.39 468.60,174.00 469.10,173.99 469.60,173.86 470.10,173.49 470.60,173.45 471.10,173.58 471.60,173.54 472.10,173.37 472.60,173.74 473.10,173.78 473.60,174.06 474.10,174.08 474.60,174.16 475.10,174.19 475.60,174.32 476.10,174.28 476.60,174.26 477.10,174.32 477.60,174.37 478.10,174.27 478.60,174.41 479.10,174.18 479.60,174.31 480.10,174.22 480.60,174.34 481.10,174.13 481.60,174.08 482.10,173.96 482.60,174.15 483.10,173.96 483.60,173.72 484.10,173.65 484.60,173.45 485.10,173.46 485.60,173.15 486.10,172.70 486.60,172.57 487.10,172.26 487.60,171.76 488.10,171.31 488.60,170.70 489.10,170.08 489.60,169.35 490.10,168.46 490.60,167.65 491.10,166.65 491.60,165.58 492.10,164.40 492.60,163.18 493.10,162.05 493.60,160.84 494.10,159.32 494.60,158.23 495.10,157.20 495.60,156.07 496.10,154.97 496.60,154.31 497.10,153.50 497.60,153.10 498.10,153.14 498.60,153.18 499.10,154.07 499.60,155.39 500.10,157.26 500.60,159.29 501.10,161.50 501.60,163.44 502.10,165.61 502.60,167.25 503.10,168.75 503.60,170.03 504.10,171.18 504.60,172.07 505.10,172.57 505.60,173.21 506.10,173.58 506.60,173.83 507.10,173.96 507.60,173.97 508.10,174.25 508.60,174.25 509.10,174.37 509.60,174.27 510.10,174.44 510.60,174.52 511.10,174.47 511.60,174.59 512.10,174.73 512.60,174.64 513.10,174.59 513.60,174.85 514.10,174.52 514.60,174.63 515.10,174.75 515.60,174.69 516.10,174.57 516.60,174.78 517.10,174.84 517.60,174.72 518.10,174.91 518.60,174.84 519.10,174.91 519.60,174.70 520.10,174.83 520.60,174.96 521.10,175.00 521.60,174.95 522.10,174.86 522.60,174.88 523.10,174.82 523.60,174.96 524.10,174.82 524.60,174.89 525.10,174.72 525.60,174.77 526.10,175.03 526.60,174.90" fill="none" stroke="#f0282d" stroke-width="1.45" stroke-linejoin="round" />
<path d="M345.60,194.84 346.10,194.65 346.60,194.81 347.10,194.97 347.60,194.69 348.10,194.61 348.60,194.78 349.10,194.74 349.60,194.76 350.10,194.67 350.60,194.65 351.10,194.65 351.60,194.78 352.10,194.72 352.60,194.77 353.10,194.60 353.60,194.71 354.10,194.60 354.60,194.61 355.10,194.63 355.60,194.52 356.10,194.43 356.60,194.25 357.10,194.28 357.60,194.21 358.10,193.94 358.60,193.77 359.10,193.37 359.60,193.08 360.10,192.88 360.60,192.69 361.10,192.49 361.60,192.53 362.10,192.93 362.60,193.17 363.10,193.57 363.60,193.98 364.10,194.04 364.60,194.14 365.10,194.34 365.60,194.31 366.10,194.42 366.60,194.46 367.10,194.51 367.60,194.38 368.10,194.57 368.60,194.60 369.10,194.36 369.60,194.33 370.10,194.47 370.60,194.65 371.10,194.53 371.60,194.56 372.10,194.54 372.60,194.54 373.10,194.40 373.60,194.37 374.10,194.41 374.60,194.39 375.10,194.33 375.60,194.25 376.10,194.11 376.60,194.15 377.10,193.99 377.60,193.90 378.10,193.44 378.60,193.50 379.10,192.95 379.60,192.78 380.10,192.19 380.60,191.53 381.10,190.42 381.20,190.16 381.30,189.90 381.40,189.59 381.50,189.14 381.60,188.62 381.70,188.32 381.80,187.95 381.90,187.31 382.00,186.83 382.10,186.11 382.20,185.33 382.30,184.68 382.40,183.80 382.50,182.63 382.60,181.47 382.70,180.23 382.80,178.56 382.90,176.91 383.00,175.16 383.10,172.99 383.20,170.45 383.30,167.72 383.40,164.83 383.50,161.45 383.60,158.09 383.70,154.61 383.80,151.02 383.90,148.18 384.00,145.72 384.10,144.12 384.20,143.36 384.30,143.94 384.40,145.59 384.50,148.03 384.60,151.38 384.70,154.55 384.80,158.11 384.90,161.58 385.00,164.84 385.10,167.90 385.20,170.41 385.30,172.99 385.40,175.09 385.50,176.89 385.60,178.68 385.70,180.05 385.80,181.61 385.90,182.59 386.00,183.76 386.10,184.70 386.20,185.37 386.30,186.08 386.40,186.81 386.50,187.30 386.60,187.99 386.70,188.41 386.80,188.76 386.90,189.16 387.00,189.63 387.10,189.78 387.20,190.33 387.60,191.10 388.10,191.99 388.60,192.52 389.10,193.15 389.60,193.40 390.10,193.69 390.60,193.83 391.10,193.93 391.60,194.18 392.10,194.20 392.60,194.27 393.10,194.35 393.60,194.42 394.10,194.44 394.60,194.45 395.10,194.37 395.60,194.69 396.10,194.46 396.60,194.41 397.10,194.55 397.60,194.78 398.10,194.74 398.60,194.62 399.10,194.70 399.60,194.69 400.10,194.55 400.60,194.69 401.10,194.75 401.60,194.83 402.10,194.65 402.60,194.57 403.10,194.63 403.60,194.79 404.10,194.78 404.60,194.79 405.10,194.79 405.60,194.76 406.10,194.68 406.60,194.83 407.10,194.83 407.60,194.85 408.10,194.91 408.60,194.71 409.10,194.63 409.60,194.67 410.10,194.99 410.60,194.75 411.10,194.86 411.60,194.82 412.10,194.89 412.60,195.09 413.10,194.79 413.60,194.82 414.10,194.79 414.60,194.86 415.10,194.88 415.60,194.76 416.10,194.95 416.60,194.93 417.10,194.88 417.60,194.84 418.10,194.83 418.60,194.72 419.10,194.90 419.60,194.77 420.10,194.81 420.60,194.93 421.10,194.78 421.60,194.81 422.10,194.92 422.60,195.00 423.10,194.80 423.60,194.94 424.10,194.80 424.60,194.89 425.10,194.90 425.60,194.77 426.10,194.94 426.60,195.00 427.10,194.86 427.60,194.88 428.10,194.77 428.60,195.00 429.10,194.87 429.60,194.76 430.10,194.92 430.60,194.75 431.10,194.81 431.60,194.69 432.10,194.97 432.60,195.04 433.10,194.81 433.60,194.81 434.10,194.82 434.60,194.82 435.10,194.91 435.60,194.98 436.10,194.78 436.60,194.90 437.10,194.72 437.60,194.99 438.10,194.86 438.60,194.81 439.10,194.99 439.60,194.85 440.10,194.97 440.60,194.95 441.10,194.99 441.60,194.80 442.10,194.87 442.60,194.89 443.10,194.85 443.60,194.98 444.10,194.80 444.60,194.94 445.10,194.97 445.60,194.70 446.10,194.78 446.60,194.79 447.10,194.81 447.60,194.89 448.10,194.84 448.60,194.86 449.10,194.82 449.60,194.85 450.10,194.89 450.60,194.91 451.10,194.79 451.60,194.84 452.10,194.79 452.60,194.83 453.10,194.73 453.60,194.92 454.10,194.89 454.60,194.83 455.10,194.78 455.60,194.80 456.10,194.78 456.60,194.70 457.10,194.95 457.60,195.08 458.10,194.72 458.60,194.72 459.10,194.85 459.60,194.85 460.10,194.67 460.60,194.63 461.10,194.82 461.60,194.61 462.10,194.87 462.60,194.71 463.10,194.74 463.60,194.72 464.10,194.65 464.60,194.66 465.10,194.62 465.60,194.71 466.10,194.56 466.60,194.51 467.10,194.40 467.60,194.30 468.10,194.18 468.60,194.10 469.10,194.07 469.60,193.82 470.10,193.55 470.60,193.52 471.10,193.43 471.60,193.45 472.10,193.59 472.60,193.71 473.10,194.01 473.60,194.12 474.10,194.14 474.60,194.27 475.10,194.60 475.60,194.52 476.10,194.59 476.60,194.60 477.10,194.58 477.60,194.67 478.10,194.74 478.60,194.65 479.10,194.72 479.60,194.77 480.10,194.66 480.60,194.71 481.10,194.64 481.60,194.75 482.10,194.67 482.60,194.79 483.10,194.64 483.60,194.83 484.10,194.67 484.60,194.62 485.10,194.60 485.60,194.72 486.10,194.58 486.60,194.78 487.10,194.71 487.60,194.62 488.10,194.42 488.60,194.48 489.10,194.34 489.60,194.15 490.10,194.18 490.60,194.12 491.10,193.63 491.60,193.38 492.10,192.96 492.60,192.19 493.10,191.50 493.60,190.66 494.10,189.61 494.60,188.23 495.10,186.93 495.60,185.33 496.10,183.72 496.60,181.74 497.10,179.99 497.30,179.27 497.40,178.92 497.50,178.63 497.60,178.16 497.70,178.07 497.80,177.44 497.90,177.20 498.00,176.86 498.10,176.50 498.20,176.05 498.30,175.64 498.40,175.33 498.50,175.05 498.60,174.64 498.70,174.32 498.80,173.95 498.90,173.46 499.00,173.07 499.10,172.86 499.20,172.30 499.30,171.79 499.40,171.63 499.50,170.96 499.60,170.49 499.70,170.19 499.80,169.57 499.90,169.18 500.00,168.97 500.10,168.55 500.20,168.66 500.30,168.47 500.40,168.83 500.50,168.93 500.60,169.35 500.70,169.83 500.80,170.47 500.90,171.10 501.00,171.82 501.10,172.58 501.20,173.12 501.30,173.84 501.40,174.43 501.50,175.39 501.60,175.94 501.70,176.60 501.80,177.25 501.90,177.98 502.00,178.56 502.10,179.23 502.20,179.77 502.30,180.38 502.40,180.99 502.50,181.44 502.60,182.26 502.70,182.62 502.80,183.23 502.90,183.92 503.00,184.41 503.10,184.99 503.20,185.58 503.30,186.09 503.60,187.45 504.10,189.32 504.60,191.09 505.10,192.06 505.60,192.98 506.10,193.66 506.60,193.96 507.10,194.23 507.60,194.37 508.10,194.61 508.60,194.38 509.10,194.72 509.60,194.74 510.10,194.67 510.60,194.74 511.10,194.64 511.60,194.82 512.10,194.99 512.60,194.68 513.10,194.88 513.60,194.77 514.10,194.75 514.60,194.75 515.10,194.78 515.60,194.70 516.10,194.70 516.60,194.95 517.10,194.82 517.60,194.87 518.10,194.85 518.60,194.87 519.10,194.71 519.60,194.76 520.10,194.89 520.60,194.92 521.10,194.75 521.60,194.80 522.10,194.76 522.60,194.90 523.10,194.88 523.60,194.86 524.10,194.80 524.60,194.89 525.10,194.86 525.60,194.80 526.10,194.89 526.60,194.81" fill="none" stroke="#161616" stroke-width="1.45" stroke-linejoin="round" />
<line x1="345.3" y1="201.8" x2="527.5" y2="201.8" stroke="#808080" stroke-width="1.3" />
<line x1="351.25" y1="201.8" x2="351.25" y2="203.4" stroke="#808080" stroke-width="0.9" />
<line x1="376.25" y1="201.8" x2="376.25" y2="204.10000000000002" stroke="#808080" stroke-width="0.9" />
<line x1="401.25" y1="201.8" x2="401.25" y2="203.4" stroke="#808080" stroke-width="0.9" />
<line x1="426.25" y1="201.8" x2="426.25" y2="204.10000000000002" stroke="#808080" stroke-width="0.9" />
<line x1="451.25" y1="201.8" x2="451.25" y2="203.4" stroke="#808080" stroke-width="0.9" />
<line x1="476.25" y1="201.8" x2="476.25" y2="204.10000000000002" stroke="#808080" stroke-width="0.9" />
<line x1="501.25" y1="201.8" x2="501.25" y2="203.4" stroke="#808080" stroke-width="0.9" />
<line x1="526.25" y1="201.8" x2="526.25" y2="204.10000000000002" stroke="#808080" stroke-width="0.9" />
<text x="375.85" y="213.9" font-family="Liberation Sans" font-size="8.5" font-weight="bold" text-anchor="middle" fill="#1a1a1a" stroke="#1a1a1a" stroke-width="0.25" textLength="18.2" lengthAdjust="spacingAndGlyphs">1500</text>
<text x="425.85" y="213.9" font-family="Liberation Sans" font-size="8.5" font-weight="bold" text-anchor="middle" fill="#1a1a1a" stroke="#1a1a1a" stroke-width="0.25" textLength="18.2" lengthAdjust="spacingAndGlyphs">2000</text>
<text x="475.85" y="213.9" font-family="Liberation Sans" font-size="8.5" font-weight="bold" text-anchor="middle" fill="#1a1a1a" stroke="#1a1a1a" stroke-width="0.25" textLength="18.2" lengthAdjust="spacingAndGlyphs">2500</text>
<text x="525.85" y="213.9" font-family="Liberation Sans" font-size="8.5" font-weight="bold" text-anchor="middle" fill="#1a1a1a" stroke="#1a1a1a" stroke-width="0.25" textLength="18.2" lengthAdjust="spacingAndGlyphs">3000</text>
<text x="400.6" y="232.7" font-family="Liberation Sans" font-size="8.1" font-weight="bold" text-anchor="start" fill="#1a1a1a" stroke="#1a1a1a" stroke-width="0.25" textLength="62.0" lengthAdjust="spacingAndGlyphs">Raman Shift (cm</text>
<text x="463.0" y="229.5" font-family="Liberation Sans" font-size="7.4" font-weight="bold" text-anchor="start" fill="#1a1a1a" stroke="#1a1a1a" stroke-width="0.2" textLength="5.0" lengthAdjust="spacingAndGlyphs">-1</text>
<text x="469.0" y="232.7" font-family="Liberation Sans" font-size="8.1" font-weight="bold" text-anchor="start" fill="#1a1a1a" stroke="#1a1a1a" stroke-width="0.25" >)</text>
<line x1="390.9" y1="39.8" x2="407.4" y2="39.8" stroke="#161616" stroke-width="1.3" />
<text x="409" y="42.0" font-family="Liberation Sans" font-size="7.9" font-weight="bold" text-anchor="start" fill="#111" stroke="#111" stroke-width="0.2" >Graphite</text>
<line x1="390.9" y1="50.5" x2="407.4" y2="50.5" stroke="#f0282d" stroke-width="1.3" />
<text x="409" y="52.7" font-family="Liberation Sans" font-size="7.9" font-weight="bold" text-anchor="start" fill="#111" stroke="#111" stroke-width="0.2" >1:0.5:0.125</text>
<line x1="390.9" y1="60.8" x2="407.4" y2="60.8" stroke="#3f4fbf" stroke-width="1.3" />
<text x="409" y="63.0" font-family="Liberation Sans" font-size="7.9" font-weight="bold" text-anchor="start" fill="#111" stroke="#111" stroke-width="0.2" >1:1:0.125</text>
<line x1="390.9" y1="70.9" x2="407.4" y2="70.9" stroke="#1f8f8c" stroke-width="1.3" />
<text x="409" y="73.10000000000001" font-family="Liberation Sans" font-size="7.9" font-weight="bold" text-anchor="start" fill="#111" stroke="#111" stroke-width="0.2" >1:2:0.125</text>
<line x1="390.9" y1="81.0" x2="407.4" y2="81.0" stroke="#c445ad" stroke-width="1.3" />
<text x="409" y="83.2" font-family="Liberation Sans" font-size="7.9" font-weight="bold" text-anchor="start" fill="#111" stroke="#111" stroke-width="0.2" >1:3:0.125</text>
<text x="363.3" y="51.2" font-family="Liberation Sans" font-size="13" font-weight="bold" text-anchor="start" fill="#000" >G</text>
<text x="354.6" y="107.8" font-family="Liberation Sans" font-size="11.5" font-weight="bold" text-anchor="start" fill="#000" >D</text>
<text x="411.6" y="107.8" font-family="Liberation Sans" font-size="11.5" font-weight="bold" text-anchor="start" fill="#000" >D&#8217;</text>
<text x="486.0" y="82.0" font-family="Liberation Sans" font-size="12" font-weight="bold" text-anchor="start" fill="#000" >2D</text>
<path d="M227.30,72.23 227.80,72.22 228.30,72.22 228.80,72.21 229.30,72.21 229.80,72.20 230.30,72.20 230.80,72.20 231.30,72.19 231.80,72.19 232.30,72.18 232.80,72.18 233.30,72.17 233.80,72.16 234.30,72.16 234.80,72.15 235.30,72.15 235.80,72.14 236.30,72.13 236.80,72.12 237.30,72.12 237.80,72.11 238.30,72.10 238.80,72.09 239.30,72.08 239.80,72.07 240.30,72.06 240.80,72.05 241.30,72.04 241.80,72.03 242.30,72.02 242.80,72.01 243.30,72.00 243.80,71.98 244.30,71.97 244.80,71.95 245.30,71.94 245.80,71.92 246.30,71.91 246.80,71.89 247.30,71.87 247.80,71.85 248.30,71.83 248.80,71.80 249.30,71.78 249.80,71.75 250.30,71.73 250.80,71.70 251.30,71.67 251.80,71.63 252.30,71.60 252.80,71.56 253.30,71.52 253.80,71.48 254.30,71.43 254.80,71.38 255.30,71.33 255.80,71.27 256.30,71.21 256.80,71.14 257.30,71.07 257.80,70.99 258.30,70.91 258.80,70.81 259.30,70.71 259.80,70.60 260.30,70.47 260.80,70.34 261.30,70.18 261.80,70.02 262.30,69.83 262.80,69.62 263.30,69.39 263.80,69.13 264.30,68.84 264.80,68.51 265.30,68.14 265.80,67.72 266.30,67.24 266.80,66.70 267.30,66.08 267.80,65.38 268.30,64.59 268.80,63.69 269.30,62.69 269.80,61.59 270.30,60.40 270.80,59.16 271.30,57.91 271.80,56.74 272.30,55.73 272.80,55.00 273.30,54.63 273.80,54.68 274.30,55.12 274.80,55.92 275.30,56.96 275.80,58.16 276.30,59.41 276.80,60.65 277.30,61.82 277.80,62.90 278.30,63.88 278.80,64.75 279.30,65.53 279.80,66.21 280.30,66.81 280.80,67.34 281.30,67.81 281.80,68.22 282.30,68.58 282.80,68.90 283.30,69.19 283.80,69.44 284.30,69.67 284.80,69.87 285.30,70.05 285.80,70.22 286.30,70.36 286.80,70.50 287.30,70.62 287.80,70.73 288.30,70.83 288.80,70.92 289.30,71.01 289.80,71.09 290.30,71.16 290.80,71.22 291.30,71.29 291.80,71.34 292.30,71.39 292.80,71.44 293.30,71.49 293.80,71.53 294.30,71.57 294.80,71.61 295.30,71.64 295.80,71.67 296.30,71.70 296.80,71.73 297.30,71.76 297.80,71.78 298.30,71.81 298.80,71.83 299.30,71.85 299.80,71.87 300.30,71.89 300.80,71.91 301.30,71.93 301.80,71.94 302.30,71.96 302.80,71.97 303.30,71.99 303.80,72.00 304.30,72.01 304.80,72.02 305.30,72.04 305.80,72.05 306.30,72.06 306.80,72.07 307.30,72.08 307.80,72.09 308.30,72.09 308.80,72.10 309.30,72.11 309.80,72.12 310.30,72.13 310.80,72.13 311.30,72.14 311.80,72.15 312.30,72.15 312.80,72.16 313.30,72.17 313.80,72.17 314.30,72.18 314.80,72.18 315.30,72.19 315.80,72.19 316.30,72.20 316.80,72.20 317.30,72.21 317.80,72.21 318.30,72.21 318.80,72.22 319.30,72.22 319.80,72.23 320.30,72.23 320.80,72.23 321.30,72.24 321.80,72.24 322.30,72.24 322.80,72.25 323.30,72.25 323.80,72.25 324.30,72.26 324.80,72.26 325.30,72.26 325.80,72.26 326.30,72.27 326.80,72.27 327.30,72.27 327.80,72.27 328.30,72.28 328.80,72.28 329.30,72.28 329.80,72.28 330.30,72.28 330.80,72.29 331.30,72.29 331.80,72.29 332.30,72.29 332.80,72.29 333.30,72.30 333.80,72.30 334.30,72.30 334.80,72.30 335.30,72.30 335.80,72.30 336.30,72.31 336.80,72.31 337.30,72.31 337.80,72.31 338.30,72.31 338.80,72.31" fill="none" stroke="#5cbf45" stroke-width="0.95" stroke-linejoin="round" />
<path d="M227.30,72.25 227.80,72.25 228.30,72.25 228.80,72.24 229.30,72.24 229.80,72.24 230.30,72.23 230.80,72.23 231.30,72.23 231.80,72.22 232.30,72.22 232.80,72.22 233.30,72.21 233.80,72.21 234.30,72.20 234.80,72.20 235.30,72.19 235.80,72.19 236.30,72.19 236.80,72.18 237.30,72.17 237.80,72.17 238.30,72.16 238.80,72.16 239.30,72.15 239.80,72.15 240.30,72.14 240.80,72.13 241.30,72.13 241.80,72.12 242.30,72.11 242.80,72.10 243.30,72.10 243.80,72.09 244.30,72.08 244.80,72.07 245.30,72.06 245.80,72.05 246.30,72.04 246.80,72.03 247.30,72.02 247.80,72.00 248.30,71.99 248.80,71.98 249.30,71.96 249.80,71.95 250.30,71.93 250.80,71.92 251.30,71.90 251.80,71.88 252.30,71.87 252.80,71.85 253.30,71.82 253.80,71.80 254.30,71.78 254.80,71.75 255.30,71.73 255.80,71.70 256.30,71.67 256.80,71.64 257.30,71.61 257.80,71.57 258.30,71.53 258.80,71.49 259.30,71.45 259.80,71.40 260.30,71.35 260.80,71.29 261.30,71.23 261.80,71.17 262.30,71.10 262.80,71.03 263.30,70.94 263.80,70.86 264.30,70.76 264.80,70.65 265.30,70.53 265.80,70.40 266.30,70.26 266.80,70.10 267.30,69.93 267.80,69.73 268.30,69.51 268.80,69.26 269.30,68.98 269.80,68.66 270.30,68.30 270.80,67.88 271.30,67.40 271.80,66.84 272.30,66.20 272.80,65.44 273.30,64.54 273.80,63.49 274.30,62.23 274.80,60.73 275.30,58.94 275.80,56.80 276.30,54.26 276.80,51.30 277.30,47.94 277.80,44.31 278.30,40.70 278.80,37.59 279.30,35.54 279.80,35.03 280.30,36.20 280.80,38.74 281.30,42.12 281.80,45.78 282.30,49.32 282.80,52.53 283.30,55.32 283.80,57.70 284.30,59.69 284.80,61.36 285.30,62.76 285.80,63.93 286.30,64.92 286.80,65.76 287.30,66.47 287.80,67.08 288.30,67.60 288.80,68.05 289.30,68.45 289.80,68.79 290.30,69.10 290.80,69.36 291.30,69.60 291.80,69.81 292.30,70.00 292.80,70.17 293.30,70.32 293.80,70.46 294.30,70.58 294.80,70.70 295.30,70.80 295.80,70.89 296.30,70.98 296.80,71.06 297.30,71.13 297.80,71.20 298.30,71.26 298.80,71.32 299.30,71.37 299.80,71.42 300.30,71.46 300.80,71.51 301.30,71.55 301.80,71.58 302.30,71.62 302.80,71.65 303.30,71.68 303.80,71.71 304.30,71.74 304.80,71.76 305.30,71.79 305.80,71.81 306.30,71.83 306.80,71.85 307.30,71.87 307.80,71.89 308.30,71.91 308.80,71.93 309.30,71.94 309.80,71.96 310.30,71.97 310.80,71.98 311.30,72.00 311.80,72.01 312.30,72.02 312.80,72.03 313.30,72.04 313.80,72.05 314.30,72.06 314.80,72.07 315.30,72.08 315.80,72.09 316.30,72.10 316.80,72.11 317.30,72.11 317.80,72.12 318.30,72.13 318.80,72.14 319.30,72.14 319.80,72.15 320.30,72.15 320.80,72.16 321.30,72.17 321.80,72.17 322.30,72.18 322.80,72.18 323.30,72.19 323.80,72.19 324.30,72.20 324.80,72.20 325.30,72.21 325.80,72.21 326.30,72.21 326.80,72.22 327.30,72.22 327.80,72.22 328.30,72.23 328.80,72.23 329.30,72.24 329.80,72.24 330.30,72.24 330.80,72.24 331.30,72.25 331.80,72.25 332.30,72.25 332.80,72.26 333.30,72.26 333.80,72.26 334.30,72.26 334.80,72.27 335.30,72.27 335.80,72.27 336.30,72.27 336.80,72.28 337.30,72.28 337.80,72.28 338.30,72.28 338.80,72.28" fill="none" stroke="#5cbf45" stroke-width="0.95" stroke-linejoin="round" />
<path d="M227.30,72.28 227.80,72.27 228.30,72.27 228.80,72.27 229.30,72.27 229.80,72.27 230.30,72.26 230.80,72.26 231.30,72.26 231.80,72.26 232.30,72.25 232.80,72.25 233.30,72.25 233.80,72.24 234.30,72.24 234.80,72.24 235.30,72.23 235.80,72.23 236.30,72.23 236.80,72.22 237.30,72.22 237.80,72.22 238.30,72.21 238.80,72.21 239.30,72.20 239.80,72.20 240.30,72.20 240.80,72.19 241.30,72.19 241.80,72.18 242.30,72.18 242.80,72.17 243.30,72.17 243.80,72.16 244.30,72.15 244.80,72.15 245.30,72.14 245.80,72.14 246.30,72.13 246.80,72.12 247.30,72.11 247.80,72.11 248.30,72.10 248.80,72.09 249.30,72.08 249.80,72.07 250.30,72.06 250.80,72.05 251.30,72.04 251.80,72.03 252.30,72.02 252.80,72.01 253.30,72.00 253.80,71.99 254.30,71.97 254.80,71.96 255.30,71.94 255.80,71.93 256.30,71.91 256.80,71.89 257.30,71.88 257.80,71.86 258.30,71.84 258.80,71.82 259.30,71.79 259.80,71.77 260.30,71.75 260.80,71.72 261.30,71.69 261.80,71.66 262.30,71.63 262.80,71.60 263.30,71.56 263.80,71.52 264.30,71.48 264.80,71.44 265.30,71.39 265.80,71.34 266.30,71.28 266.80,71.22 267.30,71.16 267.80,71.09 268.30,71.01 268.80,70.93 269.30,70.84 269.80,70.74 270.30,70.64 270.80,70.52 271.30,70.39 271.80,70.25 272.30,70.09 272.80,69.91 273.30,69.71 273.80,69.49 274.30,69.25 274.80,68.97 275.30,68.65 275.80,68.29 276.30,67.87 276.80,67.40 277.30,66.85 277.80,66.20 278.30,65.45 278.80,64.57 279.30,63.53 279.80,62.29 280.30,60.81 280.80,59.04 281.30,56.93 281.80,54.42 282.30,51.49 282.80,48.13 283.30,44.46 283.80,40.74 284.30,37.41 284.80,35.06 285.30,34.20 285.80,35.06 286.30,37.41 286.80,40.74 287.30,44.46 287.80,48.13 288.30,51.49 288.80,54.42 289.30,56.93 289.80,59.04 290.30,60.81 290.80,62.29 291.30,63.53 291.80,64.57 292.30,65.45 292.80,66.20 293.30,66.85 293.80,67.40 294.30,67.87 294.80,68.29 295.30,68.65 295.80,68.97 296.30,69.25 296.80,69.49 297.30,69.71 297.80,69.91 298.30,70.09 298.80,70.25 299.30,70.39 299.80,70.52 300.30,70.64 300.80,70.74 301.30,70.84 301.80,70.93 302.30,71.01 302.80,71.09 303.30,71.16 303.80,71.22 304.30,71.28 304.80,71.34 305.30,71.39 305.80,71.44 306.30,71.48 306.80,71.52 307.30,71.56 307.80,71.60 308.30,71.63 308.80,71.66 309.30,71.69 309.80,71.72 310.30,71.75 310.80,71.77 311.30,71.79 311.80,71.82 312.30,71.84 312.80,71.86 313.30,71.88 313.80,71.89 314.30,71.91 314.80,71.93 315.30,71.94 315.80,71.96 316.30,71.97 316.80,71.99 317.30,72.00 317.80,72.01 318.30,72.02 318.80,72.03 319.30,72.04 319.80,72.05 320.30,72.06 320.80,72.07 321.30,72.08 321.80,72.09 322.30,72.10 322.80,72.11 323.30,72.11 323.80,72.12 324.30,72.13 324.80,72.14 325.30,72.14 325.80,72.15 326.30,72.15 326.80,72.16 327.30,72.17 327.80,72.17 328.30,72.18 328.80,72.18 329.30,72.19 329.80,72.19 330.30,72.20 330.80,72.20 331.30,72.20 331.80,72.21 332.30,72.21 332.80,72.22 333.30,72.22 333.80,72.22 334.30,72.23 334.80,72.23 335.30,72.23 335.80,72.24 336.30,72.24 336.80,72.24 337.30,72.25 337.80,72.25 338.30,72.25 338.80,72.26" fill="none" stroke="#5cbf45" stroke-width="0.95" stroke-linejoin="round" />
<path d="M227.30,72.29 227.80,72.29 228.30,72.29 228.80,72.28 229.30,72.28 229.80,72.28 230.30,72.28 230.80,72.28 231.30,72.27 231.80,72.27 232.30,72.27 232.80,72.27 233.30,72.26 233.80,72.26 234.30,72.26 234.80,72.26 235.30,72.25 235.80,72.25 236.30,72.25 236.80,72.25 237.30,72.24 237.80,72.24 238.30,72.24 238.80,72.23 239.30,72.23 239.80,72.23 240.30,72.22 240.80,72.22 241.30,72.22 241.80,72.21 242.30,72.21 242.80,72.20 243.30,72.20 243.80,72.20 244.30,72.19 244.80,72.19 245.30,72.18 245.80,72.18 246.30,72.17 246.80,72.17 247.30,72.16 247.80,72.16 248.30,72.15 248.80,72.14 249.30,72.14 249.80,72.13 250.30,72.13 250.80,72.12 251.30,72.11 251.80,72.10 252.30,72.10 252.80,72.09 253.30,72.08 253.80,72.07 254.30,72.06 254.80,72.05 255.30,72.04 255.80,72.03 256.30,72.02 256.80,72.01 257.30,72.00 257.80,71.99 258.30,71.97 258.80,71.96 259.30,71.94 259.80,71.93 260.30,71.91 260.80,71.90 261.30,71.88 261.80,71.86 262.30,71.84 262.80,71.82 263.30,71.80 263.80,71.78 264.30,71.76 264.80,71.73 265.30,71.71 265.80,71.68 266.30,71.65 266.80,71.62 267.30,71.58 267.80,71.55 268.30,71.51 268.80,71.47 269.30,71.42 269.80,71.38 270.30,71.33 270.80,71.27 271.30,71.22 271.80,71.15 272.30,71.09 272.80,71.01 273.30,70.93 273.80,70.85 274.30,70.76 274.80,70.65 275.30,70.54 275.80,70.42 276.30,70.28 276.80,70.14 277.30,69.97 277.80,69.79 278.30,69.59 278.80,69.36 279.30,69.11 279.80,68.82 280.30,68.50 280.80,68.13 281.30,67.72 281.80,67.24 282.30,66.69 282.80,66.06 283.30,65.32 283.80,64.47 284.30,63.47 284.80,62.31 285.30,60.94 285.80,59.33 286.30,57.46 286.80,55.30 287.30,52.85 287.80,50.16 288.30,47.33 288.80,44.57 289.30,42.21 289.80,40.58 290.30,40.00 290.80,40.58 291.30,42.21 291.80,44.57 292.30,47.33 292.80,50.16 293.30,52.85 293.80,55.30 294.30,57.46 294.80,59.33 295.30,60.94 295.80,62.31 296.30,63.47 296.80,64.47 297.30,65.32 297.80,66.06 298.30,66.69 298.80,67.24 299.30,67.72 299.80,68.13 300.30,68.50 300.80,68.82 301.30,69.11 301.80,69.36 302.30,69.59 302.80,69.79 303.30,69.97 303.80,70.14 304.30,70.28 304.80,70.42 305.30,70.54 305.80,70.65 306.30,70.76 306.80,70.85 307.30,70.93 307.80,71.01 308.30,71.09 308.80,71.15 309.30,71.22 309.80,71.27 310.30,71.33 310.80,71.38 311.30,71.42 311.80,71.47 312.30,71.51 312.80,71.55 313.30,71.58 313.80,71.62 314.30,71.65 314.80,71.68 315.30,71.71 315.80,71.73 316.30,71.76 316.80,71.78 317.30,71.80 317.80,71.82 318.30,71.84 318.80,71.86 319.30,71.88 319.80,71.90 320.30,71.91 320.80,71.93 321.30,71.94 321.80,71.96 322.30,71.97 322.80,71.99 323.30,72.00 323.80,72.01 324.30,72.02 324.80,72.03 325.30,72.04 325.80,72.05 326.30,72.06 326.80,72.07 327.30,72.08 327.80,72.09 328.30,72.10 328.80,72.10 329.30,72.11 329.80,72.12 330.30,72.13 330.80,72.13 331.30,72.14 331.80,72.14 332.30,72.15 332.80,72.16 333.30,72.16 333.80,72.17 334.30,72.17 334.80,72.18 335.30,72.18 335.80,72.19 336.30,72.19 336.80,72.20 337.30,72.20 337.80,72.20 338.30,72.21 338.80,72.21" fill="none" stroke="#5cbf45" stroke-width="0.95" stroke-linejoin="round" />
<path d="M227.30,72.26 227.80,72.28 228.30,71.99 228.80,71.81 229.30,71.73 229.80,71.94 230.30,71.71 230.80,71.61 231.30,71.92 231.80,71.89 232.30,71.95 232.80,71.64 233.30,71.81 233.80,71.78 234.30,71.47 234.80,71.86 235.30,71.80 235.80,72.19 236.30,71.74 236.80,71.65 237.30,71.90 237.80,71.68 238.30,71.80 238.80,71.52 239.30,71.62 239.80,71.75 240.30,71.67 240.80,71.53 241.30,71.27 241.80,71.55 242.30,71.45 242.80,71.55 243.30,71.43 243.80,71.58 244.30,71.32 244.80,71.35 245.30,71.42 245.80,71.04 246.30,71.15 246.80,71.10 247.30,71.57 247.80,71.12 248.30,71.24 248.80,71.20 249.30,70.99 249.80,70.70 250.30,71.17 250.80,70.85 251.30,71.04 251.80,70.59 252.30,70.72 252.80,71.00 253.30,70.98 253.80,70.37 254.30,70.29 254.80,70.47 255.30,70.54 255.80,70.33 256.30,70.24 256.80,69.85 257.30,70.02 257.80,69.96 258.30,69.45 258.80,69.03 259.30,68.92 259.80,68.94 260.30,68.12 260.80,68.08 261.30,67.49 261.80,67.20 262.30,66.06 262.80,65.53 263.30,65.18 263.80,64.26 264.30,63.66 264.80,62.50 265.30,61.50 265.80,60.65 266.30,58.91 266.80,58.29 267.30,57.06 267.80,55.44 268.30,54.36 268.80,52.65 269.30,50.70 269.80,49.51 270.30,47.65 270.80,45.99 271.30,44.26 271.80,42.69 272.30,40.58 272.80,38.65 273.30,36.81 273.80,34.44 274.30,33.10 274.80,30.69 275.30,29.04 275.80,26.77 276.30,24.84 276.80,23.00 277.30,21.51 277.80,19.32 278.30,17.14 278.80,15.32 279.30,13.32 279.80,11.79 280.30,10.04 280.80,8.78 281.30,6.99 281.80,5.99 282.30,4.85 282.80,4.03 283.30,3.65 283.80,3.08 284.30,2.92 284.80,3.01 285.30,3.20 285.80,3.15 286.30,4.24 286.80,4.77 287.30,6.37 287.80,8.31 288.30,9.70 288.80,11.73 289.30,14.15 289.80,16.64 290.30,19.35 290.80,22.05 291.30,25.39 291.80,28.39 292.30,31.26 292.80,34.44 293.30,37.56 293.80,40.61 294.30,43.35 294.80,46.16 295.30,48.57 295.80,50.84 296.30,53.22 296.80,55.60 297.30,57.49 297.80,59.03 298.30,60.42 298.80,61.95 299.30,63.42 299.80,64.40 300.30,64.91 300.80,65.84 301.30,66.24 301.80,66.89 302.30,67.65 302.80,68.04 303.30,68.59 303.80,68.95 304.30,69.12 304.80,69.43 305.30,69.24 305.80,69.28 306.30,69.74 306.80,70.30 307.30,69.94 307.80,69.73 308.30,70.09 308.80,70.41 309.30,69.99 309.80,70.43 310.30,70.21 310.80,70.65 311.30,70.62 311.80,70.58 312.30,70.98 312.80,70.56 313.30,70.56 313.80,71.13 314.30,70.64 314.80,71.31 315.30,70.92 315.80,70.77 316.30,71.03 316.80,71.11 317.30,71.18 317.80,71.16 318.30,71.47 318.80,70.84 319.30,71.24 319.80,71.35 320.30,71.82 320.80,71.11 321.30,71.49 321.80,71.38 322.30,71.53 322.80,71.84 323.30,71.84 323.80,72.10 324.30,71.74 324.80,71.96 325.30,72.19 325.80,72.18 326.30,71.98 326.80,72.32 327.30,71.96 327.80,72.55 328.30,72.26 328.80,72.26 329.30,72.38 329.80,72.54 330.30,72.76 330.80,72.43 331.30,72.43 331.80,72.66 332.30,72.41 332.80,72.29 333.30,72.84 333.80,72.64 334.30,72.98 334.80,72.59 335.30,72.26 335.80,72.94 336.30,72.95 336.80,73.28 337.30,73.11 337.80,73.10 338.30,73.20 338.80,73.05" fill="none" stroke="#151515" stroke-width="0.75" stroke-linejoin="round" />
<path d="M227.30,71.21 227.80,71.19 228.30,71.18 228.80,71.16 229.30,71.14 229.80,71.13 230.30,71.11 230.80,71.10 231.30,71.08 231.80,71.06 232.30,71.05 232.80,71.03 233.30,71.01 233.80,70.99 234.30,70.97 234.80,70.95 235.30,70.94 235.80,70.92 236.30,70.90 236.80,70.88 237.30,70.86 237.80,70.84 238.30,70.81 238.80,70.79 239.30,70.77 239.80,70.75 240.30,70.73 240.80,70.70 241.30,70.68 241.80,70.66 242.30,70.63 242.80,70.61 243.30,70.59 243.80,70.56 244.30,70.54 244.80,70.51 245.30,70.48 245.80,70.46 246.30,70.43 246.80,70.40 247.30,70.37 247.80,70.34 248.30,70.31 248.80,70.28 249.30,70.25 249.80,70.21 250.30,70.17 250.80,70.14 251.30,70.10 251.80,70.05 252.30,70.00 252.80,69.95 253.30,69.89 253.80,69.83 254.30,69.76 254.80,69.68 255.30,69.59 255.80,69.49 256.30,69.38 256.80,69.25 257.30,69.10 257.80,68.93 258.30,68.74 258.80,68.52 259.30,68.27 259.80,67.99 260.30,67.66 260.80,67.30 261.30,66.89 261.80,66.42 262.30,65.91 262.80,65.33 263.30,64.68 263.80,63.97 264.30,63.19 264.80,62.33 265.30,61.40 265.80,60.38 266.30,59.28 266.80,58.10 267.30,56.83 267.80,55.49 268.30,54.06 268.80,52.56 269.30,50.99 269.80,49.35 270.30,47.65 270.80,45.89 271.30,44.09 271.80,42.24 272.30,40.37 272.80,38.46 273.30,36.55 273.80,34.62 274.30,32.69 274.80,30.76 275.30,28.84 275.80,26.94 276.30,25.05 276.80,23.19 277.30,21.35 277.80,19.55 278.30,17.78 278.80,16.05 279.30,14.38 279.80,12.76 280.30,11.21 280.80,9.73 281.30,8.36 281.80,7.09 282.30,5.95 282.80,4.97 283.30,4.15 283.80,3.54 284.30,3.13 284.80,2.97 285.30,3.06 285.80,3.42 286.30,4.07 286.80,5.01 287.30,6.23 287.80,7.75 288.30,9.55 288.80,11.61 289.30,13.92 289.80,16.44 290.30,19.14 290.80,22.00 291.30,24.97 291.80,28.02 292.30,31.10 292.80,34.18 293.30,37.22 293.80,40.20 294.30,43.07 294.80,45.82 295.30,48.42 295.80,50.86 296.30,53.12 296.80,55.20 297.30,57.09 297.80,58.80 298.30,60.33 298.80,61.69 299.30,62.88 299.80,63.93 300.30,64.83 300.80,65.61 301.30,66.27 301.80,66.83 302.30,67.31 302.80,67.71 303.30,68.04 303.80,68.32 304.30,68.55 304.80,68.74 305.30,68.90 305.80,69.04 306.30,69.15 306.80,69.25 307.30,69.33 307.80,69.40 308.30,69.46 308.80,69.52 309.30,69.57 309.80,69.62 310.30,69.66 310.80,69.70 311.30,69.74 311.80,69.78 312.30,69.81 312.80,69.85 313.30,69.88 313.80,69.92 314.30,69.95 314.80,69.99 315.30,70.02 315.80,70.05 316.30,70.08 316.80,70.11 317.30,70.14 317.80,70.17 318.30,70.20 318.80,70.23 319.30,70.26 319.80,70.29 320.30,70.32 320.80,70.35 321.30,70.38 321.80,70.40 322.30,70.43 322.80,70.46 323.30,70.48 323.80,70.51 324.30,70.54 324.80,70.56 325.30,70.59 325.80,70.61 326.30,70.63 326.80,70.66 327.30,70.68 327.80,70.70 328.30,70.73 328.80,70.75 329.30,70.77 329.80,70.79 330.30,70.81 330.80,70.84 331.30,70.86 331.80,70.88 332.30,70.90 332.80,70.92 333.30,70.94 333.80,70.95 334.30,70.97 334.80,70.99 335.30,71.01 335.80,71.03 336.30,71.05 336.80,71.06 337.30,71.08 337.80,71.10 338.30,71.11 338.80,71.13" fill="none" stroke="#f04646" stroke-width="1.1" stroke-linejoin="round" />
<line x1="226.25" y1="82.5" x2="339.49" y2="82.5" stroke="#9a9a9a" stroke-width="0.9" />
<line x1="226.75" y1="82.5" x2="226.75" y2="83.8" stroke="#8a8a8a" stroke-width="0.6" />
<line x1="240.78" y1="82.5" x2="240.78" y2="83.4" stroke="#8a8a8a" stroke-width="0.6" />
<line x1="254.81" y1="82.5" x2="254.81" y2="83.8" stroke="#8a8a8a" stroke-width="0.6" />
<line x1="268.84" y1="82.5" x2="268.84" y2="83.4" stroke="#8a8a8a" stroke-width="0.6" />
<line x1="282.87" y1="82.5" x2="282.87" y2="83.8" stroke="#8a8a8a" stroke-width="0.6" />
<line x1="296.9" y1="82.5" x2="296.9" y2="83.4" stroke="#8a8a8a" stroke-width="0.6" />
<line x1="310.93" y1="82.5" x2="310.93" y2="83.8" stroke="#8a8a8a" stroke-width="0.6" />
<line x1="324.96" y1="82.5" x2="324.96" y2="83.4" stroke="#8a8a8a" stroke-width="0.6" />
<line x1="338.99" y1="82.5" x2="338.99" y2="83.8" stroke="#8a8a8a" stroke-width="0.6" />
<text x="226.75" y="90.0" font-family="Liberation Sans" font-size="5.5" font-weight="bold" text-anchor="middle" fill="#1c1c1c" stroke="#1c1c1c" stroke-width="0.15" >2500</text>
<text x="254.81" y="90.0" font-family="Liberation Sans" font-size="5.5" font-weight="bold" text-anchor="middle" fill="#1c1c1c" stroke="#1c1c1c" stroke-width="0.15" >2600</text>
<text x="282.87" y="90.0" font-family="Liberation Sans" font-size="5.5" font-weight="bold" text-anchor="middle" fill="#1c1c1c" stroke="#1c1c1c" stroke-width="0.15" >2700</text>
<text x="310.93" y="90.0" font-family="Liberation Sans" font-size="5.5" font-weight="bold" text-anchor="middle" fill="#1c1c1c" stroke="#1c1c1c" stroke-width="0.15" >2800</text>
<text x="338.99" y="90.0" font-family="Liberation Sans" font-size="5.5" font-weight="bold" text-anchor="middle" fill="#1c1c1c" stroke="#1c1c1c" stroke-width="0.15" >2900</text>
<text x="261.0" y="100.6" font-family="Liberation Sans" font-size="5.2" font-weight="bold" text-anchor="start" fill="#1c1c1c" stroke="#1c1c1c" stroke-width="0.15" >Raman Shift (cm<tspan font-size="4.6" dy="-2.1">-1</tspan><tspan dy="2.1">)</tspan></text>
<path d="M227.30,208.09 227.80,208.08 228.30,208.07 228.80,208.06 229.30,208.05 229.80,208.03 230.30,208.02 230.80,208.01 231.30,207.99 231.80,207.98 232.30,207.97 232.80,207.95 233.30,207.93 233.80,207.92 234.30,207.90 234.80,207.88 235.30,207.87 235.80,207.85 236.30,207.83 236.80,207.81 237.30,207.79 237.80,207.76 238.30,207.74 238.80,207.72 239.30,207.69 239.80,207.67 240.30,207.64 240.80,207.61 241.30,207.58 241.80,207.55 242.30,207.52 242.80,207.49 243.30,207.45 243.80,207.41 244.30,207.38 244.80,207.33 245.30,207.29 245.80,207.25 246.30,207.20 246.80,207.15 247.30,207.10 247.80,207.04 248.30,206.99 248.80,206.92 249.30,206.86 249.80,206.79 250.30,206.72 250.80,206.64 251.30,206.56 251.80,206.47 252.30,206.38 252.80,206.28 253.30,206.18 253.80,206.06 254.30,205.94 254.80,205.81 255.30,205.68 255.80,205.53 256.30,205.37 256.80,205.19 257.30,205.01 257.80,204.81 258.30,204.59 258.80,204.35 259.30,204.09 259.80,203.81 260.30,203.51 260.80,203.17 261.30,202.80 261.80,202.40 262.30,201.95 262.80,201.46 263.30,200.91 263.80,200.30 264.30,199.62 264.80,198.87 265.30,198.03 265.80,197.08 266.30,196.02 266.80,194.83 267.30,193.48 267.80,191.97 268.30,190.27 268.80,188.37 269.30,186.25 269.80,183.90 270.30,181.33 270.80,178.57 271.30,175.66 271.80,172.71 272.30,169.84 272.80,167.24 273.30,165.11 273.80,163.65 274.30,163.02 274.80,163.29 275.30,164.43 275.80,166.32 276.30,168.75 276.80,171.54 277.30,174.48 277.80,177.42 278.30,180.25 278.80,182.90 279.30,185.34 279.80,187.55 280.30,189.54 280.80,191.32 281.30,192.90 281.80,194.31 282.30,195.56 282.80,196.67 283.30,197.66 283.80,198.54 284.30,199.33 284.80,200.04 285.30,200.67 285.80,201.24 286.30,201.76 286.80,202.22 287.30,202.64 287.80,203.03 288.30,203.38 288.80,203.69 289.30,203.98 289.80,204.25 290.30,204.50 290.80,204.72 291.30,204.93 291.80,205.12 292.30,205.30 292.80,205.46 293.30,205.62 293.80,205.76 294.30,205.89 294.80,206.02 295.30,206.13 295.80,206.24 296.30,206.34 296.80,206.44 297.30,206.53 297.80,206.61 298.30,206.69 298.80,206.76 299.30,206.83 299.80,206.90 300.30,206.96 300.80,207.02 301.30,207.08 301.80,207.13 302.30,207.18 302.80,207.23 303.30,207.27 303.80,207.32 304.30,207.36 304.80,207.40 305.30,207.44 305.80,207.47 306.30,207.51 306.80,207.54 307.30,207.57 307.80,207.60 308.30,207.63 308.80,207.66 309.30,207.68 309.80,207.71 310.30,207.73 310.80,207.76 311.30,207.78 311.80,207.80 312.30,207.82 312.80,207.84 313.30,207.86 313.80,207.88 314.30,207.89 314.80,207.91 315.30,207.93 315.80,207.94 316.30,207.96 316.80,207.97 317.30,207.99 317.80,208.00 318.30,208.02 318.80,208.03 319.30,208.04 319.80,208.05 320.30,208.07 320.80,208.08 321.30,208.09 321.80,208.10 322.30,208.11 322.80,208.12 323.30,208.13 323.80,208.14 324.30,208.15 324.80,208.16 325.30,208.16 325.80,208.17 326.30,208.18 326.80,208.19 327.30,208.20 327.80,208.20 328.30,208.21 328.80,208.22 329.30,208.22 329.80,208.23 330.30,208.24 330.80,208.24 331.30,208.25 331.80,208.26 332.30,208.26 332.80,208.27 333.30,208.27 333.80,208.28 334.30,208.28 334.80,208.29 335.30,208.29 335.80,208.30 336.30,208.30 336.80,208.31 337.30,208.31 337.80,208.32 338.30,208.32 338.80,208.33 339.30,208.33" fill="none" stroke="#5cbf45" stroke-width="0.95" stroke-linejoin="round" />
<path d="M227.30,208.17 227.80,208.16 228.30,208.16 228.80,208.15 229.30,208.14 229.80,208.13 230.30,208.12 230.80,208.12 231.30,208.11 231.80,208.10 232.30,208.09 232.80,208.08 233.30,208.07 233.80,208.06 234.30,208.05 234.80,208.03 235.30,208.02 235.80,208.01 236.30,208.00 236.80,207.99 237.30,207.97 237.80,207.96 238.30,207.95 238.80,207.93 239.30,207.92 239.80,207.90 240.30,207.89 240.80,207.87 241.30,207.85 241.80,207.84 242.30,207.82 242.80,207.80 243.30,207.78 243.80,207.76 244.30,207.74 244.80,207.72 245.30,207.70 245.80,207.67 246.30,207.65 246.80,207.63 247.30,207.60 247.80,207.57 248.30,207.54 248.80,207.51 249.30,207.48 249.80,207.45 250.30,207.42 250.80,207.39 251.30,207.35 251.80,207.31 252.30,207.27 252.80,207.23 253.30,207.19 253.80,207.14 254.30,207.10 254.80,207.05 255.30,206.99 255.80,206.94 256.30,206.88 256.80,206.82 257.30,206.76 257.80,206.69 258.30,206.62 258.80,206.54 259.30,206.46 259.80,206.38 260.30,206.29 260.80,206.20 261.30,206.10 261.80,205.99 262.30,205.88 262.80,205.76 263.30,205.63 263.80,205.49 264.30,205.34 264.80,205.19 265.30,205.02 265.80,204.84 266.30,204.64 266.80,204.43 267.30,204.21 267.80,203.96 268.30,203.69 268.80,203.41 269.30,203.09 269.80,202.75 270.30,202.38 270.80,201.97 271.30,201.52 271.80,201.03 272.30,200.49 272.80,199.89 273.30,199.23 273.80,198.49 274.30,197.67 274.80,196.76 275.30,195.74 275.80,194.60 276.30,193.31 276.80,191.87 277.30,190.25 277.80,188.43 278.30,186.37 278.80,184.07 279.30,181.51 279.80,178.66 280.30,175.53 280.80,172.16 281.30,168.59 281.80,164.93 282.30,161.35 282.80,158.04 283.30,155.27 283.80,153.28 284.30,152.29 284.80,152.40 285.30,153.61 285.80,155.77 286.30,158.67 286.80,162.05 287.30,165.66 287.80,169.31 288.30,172.85 288.80,176.18 289.30,179.25 289.80,182.04 290.30,184.55 290.80,186.80 291.30,188.81 291.80,190.59 292.30,192.17 292.80,193.58 293.30,194.84 293.80,195.95 294.30,196.95 294.80,197.84 295.30,198.65 295.80,199.37 296.30,200.02 296.80,200.60 297.30,201.13 297.80,201.62 298.30,202.06 298.80,202.46 299.30,202.82 299.80,203.16 300.30,203.47 300.80,203.75 301.30,204.01 301.80,204.25 302.30,204.48 302.80,204.68 303.30,204.87 303.80,205.05 304.30,205.22 304.80,205.37 305.30,205.52 305.80,205.65 306.30,205.78 306.80,205.90 307.30,206.01 307.80,206.12 308.30,206.22 308.80,206.31 309.30,206.40 309.80,206.48 310.30,206.56 310.80,206.63 311.30,206.70 311.80,206.77 312.30,206.83 312.80,206.89 313.30,206.95 313.80,207.00 314.30,207.06 314.80,207.10 315.30,207.15 315.80,207.20 316.30,207.24 316.80,207.28 317.30,207.32 317.80,207.36 318.30,207.39 318.80,207.43 319.30,207.46 319.80,207.49 320.30,207.52 320.80,207.55 321.30,207.58 321.80,207.60 322.30,207.63 322.80,207.65 323.30,207.68 323.80,207.70 324.30,207.72 324.80,207.74 325.30,207.77 325.80,207.79 326.30,207.80 326.80,207.82 327.30,207.84 327.80,207.86 328.30,207.87 328.80,207.89 329.30,207.91 329.80,207.92 330.30,207.94 330.80,207.95 331.30,207.96 331.80,207.98 332.30,207.99 332.80,208.00 333.30,208.01 333.80,208.03 334.30,208.04 334.80,208.05 335.30,208.06 335.80,208.07 336.30,208.08 336.80,208.09 337.30,208.10 337.80,208.11 338.30,208.12 338.80,208.13 339.30,208.13" fill="none" stroke="#5cbf45" stroke-width="0.95" stroke-linejoin="round" />
<path d="M227.30,209.38 227.80,208.70 228.30,208.83 228.80,208.70 229.30,208.76 229.80,208.22 230.30,208.34 230.80,208.18 231.30,208.03 231.80,207.98 232.30,207.96 232.80,207.91 233.30,207.69 233.80,207.86 234.30,207.57 234.80,206.94 235.30,207.71 235.80,207.29 236.30,207.11 236.80,207.21 237.30,207.09 237.80,206.94 238.30,206.64 238.80,206.73 239.30,206.27 239.80,206.74 240.30,206.07 240.80,206.15 241.30,206.06 241.80,205.97 242.30,205.73 242.80,205.73 243.30,204.76 243.80,205.29 244.30,205.12 244.80,204.90 245.30,205.13 245.80,204.47 246.30,204.48 246.80,203.92 247.30,204.20 247.80,203.64 248.30,203.46 248.80,204.05 249.30,203.51 249.80,203.15 250.30,202.96 250.80,202.41 251.30,202.25 251.80,202.29 252.30,201.52 252.80,201.73 253.30,201.04 253.80,201.12 254.30,200.56 254.80,200.82 255.30,200.33 255.80,199.67 256.30,199.02 256.80,198.85 257.30,198.59 257.80,197.98 258.30,197.80 258.80,197.50 259.30,196.82 259.80,196.24 260.30,195.95 260.80,195.16 261.30,194.76 261.80,193.84 262.30,193.48 262.80,192.26 263.30,191.17 263.80,190.35 264.30,189.02 264.80,187.61 265.30,186.26 265.80,184.74 266.30,182.25 266.80,180.59 267.30,178.28 267.80,175.83 268.30,173.44 268.80,170.33 269.30,168.02 269.80,165.15 270.30,162.62 270.80,160.09 271.30,157.82 271.80,155.76 272.30,154.20 272.80,153.07 273.30,151.63 273.80,150.59 274.30,149.72 274.80,148.83 275.30,148.45 275.80,148.17 276.30,146.89 276.80,146.67 277.30,145.98 277.80,145.01 278.30,144.23 278.80,143.40 279.30,142.59 279.80,141.44 280.30,140.59 280.70,139.65 280.80,139.59 280.90,139.30 281.00,139.18 281.10,138.88 281.20,138.97 281.30,138.99 281.40,138.53 281.50,138.49 281.60,138.45 281.70,138.21 281.80,138.28 281.90,138.04 282.00,137.64 282.10,137.57 282.20,137.83 282.30,137.72 282.40,137.73 282.50,137.48 282.60,137.39 282.70,136.96 282.80,137.49 282.90,136.97 283.00,137.33 283.10,136.86 283.20,136.96 283.30,137.15 283.40,137.09 283.50,137.12 283.60,137.58 283.70,137.71 283.80,137.87 283.90,137.99 284.00,138.19 284.10,138.60 284.20,138.96 284.30,139.46 284.40,140.04 284.50,140.29 284.60,140.61 284.70,141.11 284.80,141.96 284.90,142.21 285.00,142.70 285.10,143.20 285.20,143.75 285.30,144.15 285.40,144.86 285.50,145.29 285.60,145.07 285.70,146.12 285.80,147.26 285.90,146.94 286.00,147.75 286.10,148.49 286.20,148.82 286.30,149.65 286.40,149.69 286.50,150.26 286.60,151.05 286.70,151.52 286.80,152.03 287.30,155.36 287.80,158.40 288.30,161.52 288.80,164.63 289.30,167.94 289.80,170.98 290.30,173.89 290.80,177.05 291.30,179.79 291.80,182.34 292.30,184.88 292.80,186.76 293.30,189.00 293.80,190.78 294.30,192.82 294.80,194.16 295.30,195.85 295.80,196.97 296.30,197.68 296.80,198.51 297.30,199.69 297.80,200.30 298.30,201.02 298.80,201.45 299.30,202.34 299.80,202.76 300.30,203.24 300.80,203.61 301.30,203.73 301.80,203.79 302.30,204.50 302.80,204.72 303.30,205.02 303.80,205.58 304.30,205.62 304.80,206.18 305.30,206.15 305.80,206.47 306.30,206.65 306.80,206.92 307.30,206.71 307.80,207.38 308.30,207.37 308.80,207.34 309.30,207.84 309.80,207.97 310.30,208.33 310.80,208.39 311.30,208.48 311.80,208.24 312.30,209.06 312.80,209.18 313.30,209.19 313.80,209.28 314.30,209.57 314.80,209.30 315.30,209.76 315.80,209.76 316.30,209.69 316.80,210.10 317.30,210.23 317.80,210.63 318.30,210.60 318.80,210.22 319.30,210.27 319.80,210.77 320.30,210.81 320.80,210.70 321.30,210.63 321.80,210.92 322.30,210.76 322.80,210.88 323.30,211.22 323.80,211.12 324.30,210.95 324.80,210.90 325.30,211.11 325.80,211.52 326.30,211.09 326.80,211.56 327.30,211.08 327.80,211.21 328.30,211.41 328.80,211.13 329.30,211.31 329.80,211.05 330.30,211.47 330.80,211.58 331.30,211.23 331.80,211.41 332.30,211.30 332.80,210.96 333.30,211.95 333.80,211.54 334.30,211.59 334.80,211.51 335.30,211.47 335.80,211.92 336.30,211.09 336.80,211.40 337.30,211.38 337.80,211.43 338.30,211.61 338.80,211.33 339.30,211.22" fill="none" stroke="#151515" stroke-width="0.75" stroke-linejoin="round" />
<path d="M227.30,206.64 227.80,206.60 228.30,206.56 228.80,206.52 229.30,206.48 229.80,206.44 230.30,206.39 230.80,206.35 231.30,206.30 231.80,206.25 232.30,206.20 232.80,206.15 233.30,206.10 233.80,206.04 234.30,205.98 234.80,205.93 235.30,205.87 235.80,205.80 236.30,205.74 236.80,205.67 237.30,205.60 237.80,205.53 238.30,205.46 238.80,205.38 239.30,205.30 239.80,205.22 240.30,205.13 240.80,205.04 241.30,204.95 241.80,204.85 242.30,204.76 242.80,204.65 243.30,204.55 243.80,204.43 244.30,204.32 244.80,204.20 245.30,204.07 245.80,203.94 246.30,203.81 246.80,203.66 247.30,203.52 247.80,203.36 248.30,203.20 248.80,203.03 249.30,202.86 249.80,202.67 250.30,202.48 250.80,202.28 251.30,202.07 251.80,201.85 252.30,201.62 252.80,201.38 253.30,201.13 253.80,200.86 254.30,200.58 254.80,200.29 255.30,199.98 255.80,199.66 256.30,199.32 256.80,198.97 257.30,198.59 257.80,198.19 258.30,197.77 258.80,197.33 259.30,196.86 259.80,196.36 260.30,195.82 260.80,195.24 261.30,194.62 261.80,193.94 262.30,193.19 262.80,192.37 263.30,191.45 263.80,190.42 264.30,189.26 264.80,187.95 265.30,186.49 265.80,184.85 266.30,183.04 266.80,181.04 267.30,178.88 267.80,176.56 268.30,174.12 268.80,171.59 269.30,169.03 269.80,166.48 270.30,164.01 270.80,161.65 271.30,159.47 271.80,157.49 272.30,155.73 272.80,154.21 273.30,152.91 273.80,151.81 274.30,150.86 274.80,150.04 275.30,149.28 275.80,148.56 276.30,147.82 276.80,147.03 277.30,146.19 277.80,145.28 278.30,144.31 278.80,143.30 279.30,142.27 279.80,141.27 280.30,140.33 280.70,139.63 280.80,139.47 280.90,139.31 281.00,139.16 281.10,139.01 281.20,138.87 281.30,138.73 281.40,138.60 281.50,138.47 281.60,138.35 281.70,138.23 281.80,138.12 281.90,138.01 282.00,137.90 282.10,137.80 282.20,137.71 282.30,137.61 282.40,137.52 282.50,137.44 282.60,137.36 282.70,137.29 282.80,137.22 282.90,137.17 283.00,137.13 283.10,137.11 283.20,137.10 283.30,137.13 283.40,137.18 283.50,137.27 283.60,137.41 283.70,137.58 283.80,137.80 283.90,138.06 284.00,138.36 284.10,138.70 284.20,139.07 284.30,139.47 284.40,139.89 284.50,140.33 284.60,140.78 284.70,141.24 284.80,141.71 284.90,142.18 285.00,142.66 285.10,143.15 285.20,143.64 285.30,144.13 285.40,144.63 285.50,145.13 285.60,145.64 285.70,146.15 285.80,146.67 285.90,147.20 286.00,147.72 286.10,148.26 286.20,148.80 286.30,149.35 286.40,149.90 286.50,150.46 286.60,151.02 286.70,151.59 286.80,152.16 287.30,155.10 287.80,158.15 288.30,161.26 288.80,164.40 289.30,167.52 289.80,170.58 290.30,173.56 290.80,176.42 291.30,179.13 291.80,181.68 292.30,184.04 292.80,186.22 293.30,188.21 293.80,190.02 294.30,191.64 294.80,193.08 295.30,194.36 295.80,195.50 296.30,196.49 296.80,197.37 297.30,198.13 297.80,198.80 298.30,199.39 298.80,199.90 299.30,200.36 299.80,200.76 300.30,201.12 300.80,201.44 301.30,201.73 301.80,202.00 302.30,202.24 302.80,202.47 303.30,202.68 303.80,202.87 304.30,203.06 304.80,203.23 305.30,203.39 305.80,203.55 306.30,203.70 306.80,203.84 307.30,203.98 307.80,204.11 308.30,204.23 308.80,204.35 309.30,204.46 309.80,204.57 310.30,204.68 310.80,204.78 311.30,204.88 311.80,204.98 312.30,205.07 312.80,205.15 313.30,205.24 313.80,205.32 314.30,205.40 314.80,205.48 315.30,205.55 315.80,205.62 316.30,205.69 316.80,205.76 317.30,205.82 317.80,205.88 318.30,205.94 318.80,206.00 319.30,206.06 319.80,206.11 320.30,206.16 320.80,206.22 321.30,206.27 321.80,206.31 322.30,206.36 322.80,206.41 323.30,206.45 323.80,206.49 324.30,206.53 324.80,206.57 325.30,206.61 325.80,206.65 326.30,206.69 326.80,206.72 327.30,206.76 327.80,206.79 328.30,206.83 328.80,206.86 329.30,206.89 329.80,206.92 330.30,206.95 330.80,206.98 331.30,207.01 331.80,207.03 332.30,207.06 332.80,207.09 333.30,207.11 333.80,207.14 334.30,207.16 334.80,207.19 335.30,207.21 335.80,207.23 336.30,207.25 336.80,207.27 337.30,207.30 337.80,207.32 338.30,207.34 338.80,207.36 339.30,207.37" fill="none" stroke="#f04646" stroke-width="1.1" stroke-linejoin="round" />
<line x1="226.8" y1="217.9" x2="340.0" y2="217.9" stroke="#9a9a9a" stroke-width="0.9" />
<line x1="227.3" y1="217.9" x2="227.3" y2="219.20000000000002" stroke="#8a8a8a" stroke-width="0.6" />
<line x1="241.33" y1="217.9" x2="241.33" y2="218.8" stroke="#8a8a8a" stroke-width="0.6" />
<line x1="255.35" y1="217.9" x2="255.35" y2="219.20000000000002" stroke="#8a8a8a" stroke-width="0.6" />
<line x1="269.38" y1="217.9" x2="269.38" y2="218.8" stroke="#8a8a8a" stroke-width="0.6" />
<line x1="283.4" y1="217.9" x2="283.4" y2="219.20000000000002" stroke="#8a8a8a" stroke-width="0.6" />
<line x1="297.43" y1="217.9" x2="297.43" y2="218.8" stroke="#8a8a8a" stroke-width="0.6" />
<line x1="311.45" y1="217.9" x2="311.45" y2="219.20000000000002" stroke="#8a8a8a" stroke-width="0.6" />
<line x1="325.48" y1="217.9" x2="325.48" y2="218.8" stroke="#8a8a8a" stroke-width="0.6" />
<line x1="339.5" y1="217.9" x2="339.5" y2="219.20000000000002" stroke="#8a8a8a" stroke-width="0.6" />
<text x="227.3" y="224.6" font-family="Liberation Sans" font-size="5.5" font-weight="bold" text-anchor="middle" fill="#1c1c1c" stroke="#1c1c1c" stroke-width="0.15" >2500</text>
<text x="255.35" y="224.6" font-family="Liberation Sans" font-size="5.5" font-weight="bold" text-anchor="middle" fill="#1c1c1c" stroke="#1c1c1c" stroke-width="0.15" >2600</text>
<text x="283.4" y="224.6" font-family="Liberation Sans" font-size="5.5" font-weight="bold" text-anchor="middle" fill="#1c1c1c" stroke="#1c1c1c" stroke-width="0.15" >2700</text>
<text x="311.45" y="224.6" font-family="Liberation Sans" font-size="5.5" font-weight="bold" text-anchor="middle" fill="#1c1c1c" stroke="#1c1c1c" stroke-width="0.15" >2800</text>
<text x="339.5" y="224.6" font-family="Liberation Sans" font-size="5.5" font-weight="bold" text-anchor="middle" fill="#1c1c1c" stroke="#1c1c1c" stroke-width="0.15" >2900</text>
<text x="262.0" y="234.5" font-family="Liberation Sans" font-size="5.2" font-weight="bold" text-anchor="start" fill="#1c1c1c" stroke="#1c1c1c" stroke-width="0.15" >Raman Shift (cm<tspan font-size="4.6" dy="-2.1">-1</tspan><tspan dy="2.1">)</tspan></text>
<path d="M566.30,90.14 566.80,90.13 567.30,90.12 567.80,90.12 568.30,90.11 568.80,90.10 569.30,90.09 569.80,90.09 570.30,90.08 570.80,90.07 571.30,90.06 571.80,90.05 572.30,90.04 572.80,90.03 573.30,90.02 573.80,90.01 574.30,90.00 574.80,89.99 575.30,89.98 575.80,89.97 576.30,89.95 576.80,89.94 577.30,89.92 577.80,89.91 578.30,89.89 578.80,89.88 579.30,89.86 579.80,89.84 580.30,89.82 580.80,89.80 581.30,89.78 581.80,89.76 582.30,89.74 582.80,89.71 583.30,89.69 583.80,89.66 584.30,89.63 584.80,89.60 585.30,89.56 585.80,89.53 586.30,89.49 586.80,89.45 587.30,89.41 587.80,89.37 588.30,89.32 588.80,89.27 589.30,89.21 589.80,89.15 590.30,89.09 590.80,89.02 591.30,88.95 591.80,88.87 592.30,88.78 592.80,88.69 593.30,88.59 593.80,88.48 594.30,88.36 594.80,88.23 595.30,88.08 595.80,87.92 596.30,87.75 596.80,87.56 597.30,87.35 597.80,87.11 598.30,86.85 598.80,86.56 599.30,86.23 599.80,85.86 600.30,85.45 600.80,84.99 601.30,84.47 601.80,83.88 602.30,83.21 602.80,82.46 603.30,81.60 603.80,80.65 604.30,79.58 604.80,78.39 605.30,77.10 605.80,75.72 606.30,74.30 606.80,72.88 607.30,71.56 607.80,70.45 608.30,69.64 608.80,69.24 609.30,69.28 609.80,69.77 610.30,70.65 610.80,71.81 611.30,73.16 611.80,74.58 612.30,76.00 612.80,77.37 613.30,78.64 613.80,79.80 614.30,80.85 614.80,81.78 615.30,82.61 615.80,83.35 616.30,84.00 616.80,84.58 617.30,85.09 617.80,85.54 618.30,85.94 618.80,86.30 619.30,86.62 619.80,86.90 620.30,87.16 620.80,87.39 621.30,87.60 621.80,87.79 622.30,87.96 622.80,88.11 623.30,88.25 623.80,88.38 624.30,88.50 624.80,88.61 625.30,88.71 625.80,88.80 626.30,88.88 626.80,88.96 627.30,89.04 627.80,89.10 628.30,89.17 628.80,89.22 629.30,89.28 629.80,89.33 630.30,89.38 630.80,89.42 631.30,89.46 631.80,89.50 632.30,89.54 632.80,89.57 633.30,89.60 633.80,89.63 634.30,89.66 634.80,89.69 635.30,89.72 635.80,89.74 636.30,89.76 636.80,89.79 637.30,89.81 637.80,89.83 638.30,89.85 638.80,89.86 639.30,89.88 639.80,89.90 640.30,89.91 640.80,89.93 641.30,89.94 641.80,89.96 642.30,89.97 642.80,89.98 643.30,89.99 643.80,90.00 644.30,90.02 644.80,90.03 645.30,90.04 645.80,90.05 646.30,90.05 646.80,90.06 647.30,90.07 647.80,90.08 648.30,90.09 648.80,90.10 649.30,90.10 649.80,90.11 650.30,90.12 650.80,90.12 651.30,90.13 651.80,90.14 652.30,90.14 652.80,90.15 653.30,90.15 653.80,90.16 654.30,90.16 654.80,90.17 655.30,90.17 655.80,90.18 656.30,90.18 656.80,90.19 657.30,90.19 657.80,90.20 658.30,90.20 658.80,90.20 659.30,90.21 659.80,90.21 660.30,90.22 660.80,90.22 661.30,90.22 661.80,90.23 662.30,90.23 662.80,90.23 663.30,90.24 663.80,90.24 664.30,90.24 664.80,90.24 665.30,90.25 665.80,90.25 666.30,90.25 666.80,90.25 667.30,90.26 667.80,90.26 668.30,90.26 668.80,90.26 669.30,90.27 669.80,90.27 670.30,90.27 670.80,90.27 671.30,90.27 671.80,90.28 672.30,90.28 672.80,90.28 673.30,90.28 673.80,90.28 674.30,90.29 674.80,90.29 675.30,90.29 675.80,90.29 676.30,90.29 676.80,90.29 677.30,90.30 677.80,90.30 678.30,90.30 678.80,90.30 679.30,90.30 679.80,90.30 680.30,90.30 680.80,90.31" fill="none" stroke="#5cbf45" stroke-width="0.95" stroke-linejoin="round" />
<path d="M566.30,90.20 566.80,90.19 567.30,90.19 567.80,90.18 568.30,90.18 568.80,90.18 569.30,90.17 569.80,90.17 570.30,90.16 570.80,90.16 571.30,90.15 571.80,90.14 572.30,90.14 572.80,90.13 573.30,90.13 573.80,90.12 574.30,90.11 574.80,90.11 575.30,90.10 575.80,90.09 576.30,90.08 576.80,90.07 577.30,90.07 577.80,90.06 578.30,90.05 578.80,90.04 579.30,90.03 579.80,90.02 580.30,90.01 580.80,90.00 581.30,89.99 581.80,89.97 582.30,89.96 582.80,89.95 583.30,89.93 583.80,89.92 584.30,89.90 584.80,89.89 585.30,89.87 585.80,89.85 586.30,89.84 586.80,89.82 587.30,89.80 587.80,89.77 588.30,89.75 588.80,89.73 589.30,89.70 589.80,89.68 590.30,89.65 590.80,89.62 591.30,89.59 591.80,89.55 592.30,89.52 592.80,89.48 593.30,89.44 593.80,89.40 594.30,89.35 594.80,89.30 595.30,89.25 595.80,89.19 596.30,89.13 596.80,89.07 597.30,89.00 597.80,88.92 598.30,88.84 598.80,88.75 599.30,88.65 599.80,88.54 600.30,88.43 600.80,88.30 601.30,88.16 601.80,88.01 602.30,87.84 602.80,87.66 603.30,87.45 603.80,87.22 604.30,86.96 604.80,86.68 605.30,86.35 605.80,85.98 606.30,85.57 606.80,85.09 607.30,84.54 607.80,83.92 608.30,83.19 608.80,82.35 609.30,81.36 609.80,80.21 610.30,78.85 610.80,77.26 611.30,75.38 611.80,73.17 612.30,70.61 612.80,67.68 613.30,64.43 613.80,60.98 614.30,57.60 614.80,54.66 615.30,52.63 615.80,51.90 616.30,52.63 616.80,54.66 617.30,57.60 617.80,60.98 618.30,64.43 618.80,67.68 619.30,70.61 619.80,73.17 620.30,75.38 620.80,77.26 621.30,78.85 621.80,80.21 622.30,81.36 622.80,82.35 623.30,83.19 623.80,83.92 624.30,84.54 624.80,85.09 625.30,85.57 625.80,85.98 626.30,86.35 626.80,86.68 627.30,86.96 627.80,87.22 628.30,87.45 628.80,87.66 629.30,87.84 629.80,88.01 630.30,88.16 630.80,88.30 631.30,88.43 631.80,88.54 632.30,88.65 632.80,88.75 633.30,88.84 633.80,88.92 634.30,89.00 634.80,89.07 635.30,89.13 635.80,89.19 636.30,89.25 636.80,89.30 637.30,89.35 637.80,89.40 638.30,89.44 638.80,89.48 639.30,89.52 639.80,89.55 640.30,89.59 640.80,89.62 641.30,89.65 641.80,89.68 642.30,89.70 642.80,89.73 643.30,89.75 643.80,89.77 644.30,89.80 644.80,89.82 645.30,89.84 645.80,89.85 646.30,89.87 646.80,89.89 647.30,89.90 647.80,89.92 648.30,89.93 648.80,89.95 649.30,89.96 649.80,89.97 650.30,89.99 650.80,90.00 651.30,90.01 651.80,90.02 652.30,90.03 652.80,90.04 653.30,90.05 653.80,90.06 654.30,90.07 654.80,90.07 655.30,90.08 655.80,90.09 656.30,90.10 656.80,90.11 657.30,90.11 657.80,90.12 658.30,90.13 658.80,90.13 659.30,90.14 659.80,90.14 660.30,90.15 660.80,90.16 661.30,90.16 661.80,90.17 662.30,90.17 662.80,90.18 663.30,90.18 663.80,90.18 664.30,90.19 664.80,90.19 665.30,90.20 665.80,90.20 666.30,90.21 666.80,90.21 667.30,90.21 667.80,90.22 668.30,90.22 668.80,90.22 669.30,90.23 669.80,90.23 670.30,90.23 670.80,90.24 671.30,90.24 671.80,90.24 672.30,90.24 672.80,90.25 673.30,90.25 673.80,90.25 674.30,90.25 674.80,90.26 675.30,90.26 675.80,90.26 676.30,90.26 676.80,90.27 677.30,90.27 677.80,90.27 678.30,90.27 678.80,90.27 679.30,90.28 679.80,90.28 680.30,90.28 680.80,90.28" fill="none" stroke="#5cbf45" stroke-width="0.95" stroke-linejoin="round" />
<path d="M566.30,90.25 566.80,90.24 567.30,90.24 567.80,90.24 568.30,90.23 568.80,90.23 569.30,90.23 569.80,90.22 570.30,90.22 570.80,90.22 571.30,90.21 571.80,90.21 572.30,90.21 572.80,90.20 573.30,90.20 573.80,90.19 574.30,90.19 574.80,90.19 575.30,90.18 575.80,90.18 576.30,90.17 576.80,90.17 577.30,90.16 577.80,90.16 578.30,90.15 578.80,90.14 579.30,90.14 579.80,90.13 580.30,90.13 580.80,90.12 581.30,90.11 581.80,90.10 582.30,90.10 582.80,90.09 583.30,90.08 583.80,90.07 584.30,90.06 584.80,90.06 585.30,90.05 585.80,90.04 586.30,90.03 586.80,90.02 587.30,90.01 587.80,89.99 588.30,89.98 588.80,89.97 589.30,89.96 589.80,89.94 590.30,89.93 590.80,89.91 591.30,89.90 591.80,89.88 592.30,89.86 592.80,89.85 593.30,89.83 593.80,89.81 594.30,89.78 594.80,89.76 595.30,89.74 595.80,89.71 596.30,89.69 596.80,89.66 597.30,89.63 597.80,89.60 598.30,89.57 598.80,89.53 599.30,89.49 599.80,89.45 600.30,89.41 600.80,89.36 601.30,89.32 601.80,89.26 602.30,89.21 602.80,89.15 603.30,89.08 603.80,89.01 604.30,88.93 604.80,88.85 605.30,88.76 605.80,88.67 606.30,88.56 606.80,88.44 607.30,88.32 607.80,88.18 608.30,88.02 608.80,87.85 609.30,87.67 609.80,87.46 610.30,87.22 610.80,86.96 611.30,86.67 611.80,86.34 612.30,85.97 612.80,85.54 613.30,85.05 613.80,84.49 614.30,83.85 614.80,83.10 615.30,82.23 615.80,81.22 616.30,80.03 616.80,78.62 617.30,76.97 617.80,75.03 618.30,72.76 618.80,70.13 619.30,67.16 619.80,63.91 620.30,60.56 620.80,57.40 621.30,54.86 621.80,53.36 622.30,53.21 622.80,54.46 623.30,56.83 623.80,59.90 624.30,63.24 624.80,66.53 625.30,69.56 625.80,72.26 626.30,74.60 626.80,76.61 627.30,78.31 627.80,79.76 628.30,81.00 628.80,82.04 629.30,82.94 629.80,83.71 630.30,84.37 630.80,84.95 631.30,85.45 631.80,85.88 632.30,86.27 632.80,86.61 633.30,86.91 633.80,87.17 634.30,87.41 634.80,87.63 635.30,87.82 635.80,87.99 636.30,88.15 636.80,88.29 637.30,88.42 637.80,88.54 638.30,88.64 638.80,88.74 639.30,88.83 639.80,88.92 640.30,89.00 640.80,89.07 641.30,89.13 641.80,89.19 642.30,89.25 642.80,89.30 643.30,89.35 643.80,89.40 644.30,89.44 644.80,89.48 645.30,89.52 645.80,89.56 646.30,89.59 646.80,89.62 647.30,89.65 647.80,89.68 648.30,89.71 648.80,89.73 649.30,89.76 649.80,89.78 650.30,89.80 650.80,89.82 651.30,89.84 651.80,89.86 652.30,89.88 652.80,89.89 653.30,89.91 653.80,89.93 654.30,89.94 654.80,89.95 655.30,89.97 655.80,89.98 656.30,89.99 656.80,90.00 657.30,90.01 657.80,90.02 658.30,90.03 658.80,90.04 659.30,90.05 659.80,90.06 660.30,90.07 660.80,90.08 661.30,90.09 661.80,90.10 662.30,90.10 662.80,90.11 663.30,90.12 663.80,90.12 664.30,90.13 664.80,90.14 665.30,90.14 665.80,90.15 666.30,90.15 666.80,90.16 667.30,90.16 667.80,90.17 668.30,90.17 668.80,90.18 669.30,90.18 669.80,90.19 670.30,90.19 670.80,90.20 671.30,90.20 671.80,90.21 672.30,90.21 672.80,90.21 673.30,90.22 673.80,90.22 674.30,90.22 674.80,90.23 675.30,90.23 675.80,90.23 676.30,90.24 676.80,90.24 677.30,90.24 677.80,90.24 678.30,90.25 678.80,90.25 679.30,90.25 679.80,90.26 680.30,90.26 680.80,90.26" fill="none" stroke="#5cbf45" stroke-width="0.95" stroke-linejoin="round" />
<path d="M566.30,90.27 566.80,90.27 567.30,90.26 567.80,90.26 568.30,90.26 568.80,90.26 569.30,90.25 569.80,90.25 570.30,90.25 570.80,90.25 571.30,90.24 571.80,90.24 572.30,90.24 572.80,90.23 573.30,90.23 573.80,90.23 574.30,90.22 574.80,90.22 575.30,90.22 575.80,90.21 576.30,90.21 576.80,90.21 577.30,90.20 577.80,90.20 578.30,90.20 578.80,90.19 579.30,90.19 579.80,90.18 580.30,90.18 580.80,90.17 581.30,90.17 581.80,90.16 582.30,90.16 582.80,90.15 583.30,90.15 583.80,90.14 584.30,90.13 584.80,90.13 585.30,90.12 585.80,90.12 586.30,90.11 586.80,90.10 587.30,90.09 587.80,90.09 588.30,90.08 588.80,90.07 589.30,90.06 589.80,90.05 590.30,90.04 590.80,90.03 591.30,90.02 591.80,90.01 592.30,90.00 592.80,89.99 593.30,89.98 593.80,89.97 594.30,89.95 594.80,89.94 595.30,89.92 595.80,89.91 596.30,89.89 596.80,89.88 597.30,89.86 597.80,89.84 598.30,89.82 598.80,89.80 599.30,89.78 599.80,89.76 600.30,89.74 600.80,89.71 601.30,89.69 601.80,89.66 602.30,89.63 602.80,89.60 603.30,89.57 603.80,89.53 604.30,89.49 604.80,89.45 605.30,89.41 605.80,89.37 606.30,89.32 606.80,89.27 607.30,89.21 607.80,89.15 608.30,89.09 608.80,89.02 609.30,88.95 609.80,88.87 610.30,88.78 610.80,88.69 611.30,88.59 611.80,88.48 612.30,88.36 612.80,88.22 613.30,88.08 613.80,87.92 614.30,87.74 614.80,87.55 615.30,87.33 615.80,87.09 616.30,86.82 616.80,86.52 617.30,86.19 617.80,85.81 618.30,85.37 618.80,84.89 619.30,84.33 619.80,83.69 620.30,82.96 620.80,82.12 621.30,81.16 621.80,80.05 622.30,78.78 622.80,77.32 623.30,75.67 623.80,73.82 624.30,71.79 624.80,69.65 625.30,67.49 625.80,65.48 626.30,63.81 626.80,62.69 627.30,62.30 627.80,62.69 628.30,63.81 628.80,65.48 629.30,67.49 629.80,69.65 630.30,71.79 630.80,73.82 631.30,75.67 631.80,77.32 632.30,78.78 632.80,80.05 633.30,81.16 633.80,82.12 634.30,82.96 634.80,83.69 635.30,84.33 635.80,84.89 636.30,85.37 636.80,85.81 637.30,86.19 637.80,86.52 638.30,86.82 638.80,87.09 639.30,87.33 639.80,87.55 640.30,87.74 640.80,87.92 641.30,88.08 641.80,88.22 642.30,88.36 642.80,88.48 643.30,88.59 643.80,88.69 644.30,88.78 644.80,88.87 645.30,88.95 645.80,89.02 646.30,89.09 646.80,89.15 647.30,89.21 647.80,89.27 648.30,89.32 648.80,89.37 649.30,89.41 649.80,89.45 650.30,89.49 650.80,89.53 651.30,89.57 651.80,89.60 652.30,89.63 652.80,89.66 653.30,89.69 653.80,89.71 654.30,89.74 654.80,89.76 655.30,89.78 655.80,89.80 656.30,89.82 656.80,89.84 657.30,89.86 657.80,89.88 658.30,89.89 658.80,89.91 659.30,89.92 659.80,89.94 660.30,89.95 660.80,89.97 661.30,89.98 661.80,89.99 662.30,90.00 662.80,90.01 663.30,90.02 663.80,90.03 664.30,90.04 664.80,90.05 665.30,90.06 665.80,90.07 666.30,90.08 666.80,90.09 667.30,90.09 667.80,90.10 668.30,90.11 668.80,90.12 669.30,90.12 669.80,90.13 670.30,90.13 670.80,90.14 671.30,90.15 671.80,90.15 672.30,90.16 672.80,90.16 673.30,90.17 673.80,90.17 674.30,90.18 674.80,90.18 675.30,90.19 675.80,90.19 676.30,90.20 676.80,90.20 677.30,90.20 677.80,90.21 678.30,90.21 678.80,90.21 679.30,90.22 679.80,90.22 680.30,90.22 680.80,90.23" fill="none" stroke="#5cbf45" stroke-width="0.95" stroke-linejoin="round" />
<path d="M566.30,89.19 566.80,89.39 567.30,88.94 567.80,89.30 568.30,89.02 568.80,89.00 569.30,89.41 569.80,89.03 570.30,88.97 570.80,89.09 571.30,89.15 571.80,88.89 572.30,88.98 572.80,88.64 573.30,88.74 573.80,88.69 574.30,88.48 574.80,88.42 575.30,88.36 575.80,88.61 576.30,88.59 576.80,88.52 577.30,88.57 577.80,88.25 578.30,88.47 578.80,88.49 579.30,88.56 579.80,88.20 580.30,88.25 580.80,87.89 581.30,88.15 581.80,87.77 582.30,87.88 582.80,88.34 583.30,87.63 583.80,88.19 584.30,88.04 584.80,87.86 585.30,87.96 585.80,87.92 586.30,87.96 586.80,87.64 587.30,87.50 587.80,87.42 588.30,87.26 588.80,87.36 589.30,87.11 589.80,87.37 590.30,86.65 590.80,86.67 591.30,86.53 591.80,86.12 592.30,86.71 592.80,85.61 593.30,85.76 593.80,85.40 594.30,85.48 594.80,84.34 595.30,84.50 595.80,83.62 596.30,83.15 596.80,82.38 597.30,81.91 597.80,80.73 598.30,80.04 598.80,79.12 599.30,78.32 599.80,76.28 600.30,75.77 600.80,74.26 601.30,72.47 601.80,71.04 602.30,69.20 602.80,67.85 603.30,65.71 603.80,63.71 604.30,61.74 604.80,59.72 605.30,57.68 605.80,55.48 606.30,54.00 606.80,51.15 607.30,48.79 607.80,47.51 608.30,45.58 608.80,43.82 609.30,41.91 609.80,40.21 610.30,38.68 610.80,37.26 611.30,35.50 611.80,34.12 612.30,33.23 612.80,31.66 613.30,30.09 613.80,29.52 614.30,27.99 614.80,26.52 615.30,25.22 615.80,24.36 616.30,23.02 616.80,21.92 617.30,20.89 617.80,20.14 618.30,19.66 618.80,18.66 619.30,17.89 619.80,17.87 620.30,17.44 620.80,17.44 621.30,17.53 621.80,17.46 622.30,17.88 622.80,18.55 623.30,19.22 623.80,20.73 624.30,22.28 624.80,23.72 625.30,25.58 625.80,27.76 626.30,30.06 626.80,32.67 627.30,35.53 627.80,38.35 628.30,41.44 628.80,44.29 629.30,47.78 629.80,50.81 630.30,53.61 630.80,56.35 631.30,59.68 631.80,62.64 632.30,64.86 632.80,67.35 633.30,69.59 633.80,71.92 634.30,73.50 634.80,75.61 635.30,76.90 635.80,78.53 636.30,79.58 636.80,80.60 637.30,81.29 637.80,82.27 638.30,83.06 638.80,83.85 639.30,84.29 639.80,84.54 640.30,85.14 640.80,85.58 641.30,85.62 641.80,85.80 642.30,86.00 642.80,86.42 643.30,86.51 643.80,86.35 644.30,86.73 644.80,86.66 645.30,86.71 645.80,87.21 646.30,87.23 646.80,87.01 647.30,87.26 647.80,87.44 648.30,87.29 648.80,87.48 649.30,87.71 649.80,87.30 650.30,87.80 650.80,87.96 651.30,87.99 651.80,87.69 652.30,88.09 652.80,87.93 653.30,88.28 653.80,88.36 654.30,88.35 654.80,88.22 655.30,88.32 655.80,88.67 656.30,88.39 656.80,88.73 657.30,88.79 657.80,88.70 658.30,89.29 658.80,88.89 659.30,89.36 659.80,88.59 660.30,88.60 660.80,89.30 661.30,89.29 661.80,89.15 662.30,89.26 662.80,88.94 663.30,89.25 663.80,89.22 664.30,89.44 664.80,89.71 665.30,89.59 665.80,89.71 666.30,89.54 666.80,89.64 667.30,89.80 667.80,89.77 668.30,90.13 668.80,89.74 669.30,90.34 669.80,89.81 670.30,90.27 670.80,89.95 671.30,90.47 671.80,90.21 672.30,90.31 672.80,90.42 673.30,90.19 673.80,90.15 674.30,89.99 674.80,90.68 675.30,90.34 675.80,90.40 676.30,90.55 676.80,91.00 677.30,90.29 677.80,90.73 678.30,90.64 678.80,90.86 679.30,90.43 679.80,90.75 680.30,91.03 680.80,91.21" fill="none" stroke="#151515" stroke-width="0.75" stroke-linejoin="round" />
<path d="M566.30,88.87 566.80,88.84 567.30,88.82 567.80,88.80 568.30,88.77 568.80,88.75 569.30,88.73 569.80,88.70 570.30,88.67 570.80,88.65 571.30,88.62 571.80,88.59 572.30,88.57 572.80,88.54 573.30,88.51 573.80,88.48 574.30,88.45 574.80,88.42 575.30,88.39 575.80,88.35 576.30,88.32 576.80,88.29 577.30,88.25 577.80,88.22 578.30,88.18 578.80,88.15 579.30,88.11 579.80,88.07 580.30,88.03 580.80,87.99 581.30,87.95 581.80,87.91 582.30,87.86 582.80,87.82 583.30,87.77 583.80,87.73 584.30,87.68 584.80,87.62 585.30,87.57 585.80,87.51 586.30,87.45 586.80,87.39 587.30,87.32 587.80,87.24 588.30,87.16 588.80,87.07 589.30,86.97 589.80,86.85 590.30,86.73 590.80,86.58 591.30,86.42 591.80,86.24 592.30,86.03 592.80,85.79 593.30,85.51 593.80,85.20 594.30,84.85 594.80,84.44 595.30,83.98 595.80,83.46 596.30,82.88 596.80,82.22 597.30,81.48 597.80,80.66 598.30,79.75 598.80,78.75 599.30,77.66 599.80,76.46 600.30,75.16 600.80,73.77 601.30,72.27 601.80,70.68 602.30,68.99 602.80,67.22 603.30,65.37 603.80,63.45 604.30,61.48 604.80,59.46 605.30,57.42 605.80,55.35 606.30,53.29 606.80,51.24 607.30,49.21 607.80,47.23 608.30,45.31 608.80,43.45 609.30,41.66 609.80,39.95 610.30,38.33 610.80,36.80 611.30,35.35 611.80,33.98 612.30,32.69 612.80,31.46 613.30,30.30 613.80,29.18 614.30,28.10 614.80,27.06 615.30,26.03 615.80,25.03 616.30,24.05 616.80,23.08 617.30,22.14 617.80,21.23 618.30,20.38 618.80,19.58 619.30,18.87 619.80,18.28 620.30,17.81 620.80,17.51 621.30,17.39 621.80,17.48 622.30,17.81 622.80,18.39 623.30,19.23 623.80,20.35 624.30,21.74 624.80,23.41 625.30,25.34 625.80,27.52 626.30,29.92 626.80,32.53 627.30,35.31 627.80,38.22 628.30,41.23 628.80,44.31 629.30,47.41 629.80,50.50 630.30,53.54 630.80,56.51 631.30,59.38 631.80,62.12 632.30,64.71 632.80,67.14 633.30,69.40 633.80,71.49 634.30,73.39 634.80,75.11 635.30,76.66 635.80,78.04 636.30,79.27 636.80,80.35 637.30,81.29 637.80,82.10 638.30,82.81 638.80,83.42 639.30,83.94 639.80,84.38 640.30,84.76 640.80,85.08 641.30,85.35 641.80,85.58 642.30,85.78 642.80,85.96 643.30,86.10 643.80,86.23 644.30,86.35 644.80,86.45 645.30,86.55 645.80,86.63 646.30,86.71 646.80,86.79 647.30,86.86 647.80,86.92 648.30,86.99 648.80,87.05 649.30,87.11 649.80,87.17 650.30,87.22 650.80,87.28 651.30,87.33 651.80,87.39 652.30,87.44 652.80,87.49 653.30,87.54 653.80,87.59 654.30,87.63 654.80,87.68 655.30,87.73 655.80,87.77 656.30,87.81 656.80,87.86 657.30,87.90 657.80,87.94 658.30,87.98 658.80,88.02 659.30,88.06 659.80,88.10 660.30,88.14 660.80,88.17 661.30,88.21 661.80,88.24 662.30,88.28 662.80,88.31 663.30,88.34 663.80,88.38 664.30,88.41 664.80,88.44 665.30,88.47 665.80,88.50 666.30,88.53 666.80,88.56 667.30,88.59 667.80,88.61 668.30,88.64 668.80,88.67 669.30,88.69 669.80,88.72 670.30,88.74 670.80,88.77 671.30,88.79 671.80,88.82 672.30,88.84 672.80,88.86 673.30,88.88 673.80,88.90 674.30,88.93 674.80,88.95 675.30,88.97 675.80,88.99 676.30,89.01 676.80,89.03 677.30,89.05 677.80,89.06 678.30,89.08 678.80,89.10 679.30,89.12 679.80,89.14 680.30,89.15 680.80,89.17" fill="none" stroke="#f04646" stroke-width="1.1" stroke-linejoin="round" />
<line x1="565.75" y1="100.7" x2="679.35" y2="100.7" stroke="#9a9a9a" stroke-width="0.9" />
<line x1="566.25" y1="100.7" x2="566.25" y2="102.0" stroke="#8a8a8a" stroke-width="0.6" />
<line x1="580.33" y1="100.7" x2="580.33" y2="101.60000000000001" stroke="#8a8a8a" stroke-width="0.6" />
<line x1="594.4" y1="100.7" x2="594.4" y2="102.0" stroke="#8a8a8a" stroke-width="0.6" />
<line x1="608.48" y1="100.7" x2="608.48" y2="101.60000000000001" stroke="#8a8a8a" stroke-width="0.6" />
<line x1="622.55" y1="100.7" x2="622.55" y2="102.0" stroke="#8a8a8a" stroke-width="0.6" />
<line x1="636.62" y1="100.7" x2="636.62" y2="101.60000000000001" stroke="#8a8a8a" stroke-width="0.6" />
<line x1="650.7" y1="100.7" x2="650.7" y2="102.0" stroke="#8a8a8a" stroke-width="0.6" />
<line x1="664.77" y1="100.7" x2="664.77" y2="101.60000000000001" stroke="#8a8a8a" stroke-width="0.6" />
<line x1="678.85" y1="100.7" x2="678.85" y2="102.0" stroke="#8a8a8a" stroke-width="0.6" />
<text x="566.25" y="108.0" font-family="Liberation Sans" font-size="5.5" font-weight="bold" text-anchor="middle" fill="#1c1c1c" stroke="#1c1c1c" stroke-width="0.15" >2500</text>
<text x="594.4" y="108.0" font-family="Liberation Sans" font-size="5.5" font-weight="bold" text-anchor="middle" fill="#1c1c1c" stroke="#1c1c1c" stroke-width="0.15" >2600</text>
<text x="622.55" y="108.0" font-family="Liberation Sans" font-size="5.5" font-weight="bold" text-anchor="middle" fill="#1c1c1c" stroke="#1c1c1c" stroke-width="0.15" >2700</text>
<text x="650.7" y="108.0" font-family="Liberation Sans" font-size="5.5" font-weight="bold" text-anchor="middle" fill="#1c1c1c" stroke="#1c1c1c" stroke-width="0.15" >2800</text>
<text x="678.85" y="108.0" font-family="Liberation Sans" font-size="5.5" font-weight="bold" text-anchor="middle" fill="#1c1c1c" stroke="#1c1c1c" stroke-width="0.15" >2900</text>
<text x="601.0" y="118.3" font-family="Liberation Sans" font-size="5.2" font-weight="bold" text-anchor="start" fill="#1c1c1c" stroke="#1c1c1c" stroke-width="0.15" >Raman Shift (cm<tspan font-size="4.6" dy="-2.1">-1</tspan><tspan dy="2.1">)</tspan></text>
<path d="M565.20,231.18 565.70,231.17 566.20,231.16 566.70,231.15 567.20,231.14 567.70,231.13 568.20,231.12 568.70,231.11 569.20,231.10 569.70,231.09 570.20,231.08 570.70,231.06 571.20,231.05 571.70,231.04 572.20,231.02 572.70,231.01 573.20,230.99 573.70,230.98 574.20,230.96 574.70,230.94 575.20,230.93 575.70,230.91 576.20,230.89 576.70,230.87 577.20,230.85 577.70,230.83 578.20,230.80 578.70,230.78 579.20,230.76 579.70,230.73 580.20,230.70 580.70,230.67 581.20,230.64 581.70,230.61 582.20,230.58 582.70,230.55 583.20,230.51 583.70,230.47 584.20,230.43 584.70,230.39 585.20,230.35 585.70,230.30 586.20,230.25 586.70,230.20 587.20,230.15 587.70,230.09 588.20,230.03 588.70,229.96 589.20,229.89 589.70,229.82 590.20,229.74 590.70,229.66 591.20,229.57 591.70,229.47 592.20,229.37 592.70,229.26 593.20,229.14 593.70,229.02 594.20,228.88 594.70,228.73 595.20,228.57 595.70,228.40 596.20,228.21 596.70,228.01 597.20,227.79 597.70,227.55 598.20,227.28 598.70,226.99 599.20,226.68 599.70,226.32 600.20,225.94 600.70,225.51 601.20,225.03 601.70,224.51 602.20,223.92 602.70,223.26 603.20,222.52 603.70,221.69 604.20,220.77 604.70,219.72 605.20,218.55 605.70,217.22 606.20,215.74 606.70,214.08 607.20,212.24 607.70,210.22 608.20,208.02 608.70,205.69 609.20,203.28 609.70,200.90 610.20,198.67 610.70,196.76 611.20,195.33 611.70,194.53 612.20,194.46 612.70,195.12 613.20,196.43 613.70,198.25 614.20,200.43 614.70,202.80 615.20,205.21 615.70,207.56 616.20,209.79 616.70,211.85 617.20,213.73 617.70,215.42 618.20,216.94 618.70,218.29 619.20,219.50 619.70,220.57 620.20,221.52 620.70,222.36 621.20,223.12 621.70,223.79 622.20,224.39 622.70,224.93 623.20,225.42 623.70,225.86 624.20,226.25 624.70,226.61 625.20,226.93 625.70,227.23 626.20,227.50 626.70,227.74 627.20,227.97 627.70,228.17 628.20,228.36 628.70,228.54 629.20,228.70 629.70,228.85 630.20,228.99 630.70,229.12 631.20,229.24 631.70,229.35 632.20,229.45 632.70,229.55 633.20,229.64 633.70,229.72 634.20,229.80 634.70,229.88 635.20,229.95 635.70,230.01 636.20,230.08 636.70,230.14 637.20,230.19 637.70,230.24 638.20,230.29 638.70,230.34 639.20,230.38 639.70,230.43 640.20,230.47 640.70,230.50 641.20,230.54 641.70,230.57 642.20,230.61 642.70,230.64 643.20,230.67 643.70,230.70 644.20,230.72 644.70,230.75 645.20,230.77 645.70,230.80 646.20,230.82 646.70,230.84 647.20,230.86 647.70,230.88 648.20,230.90 648.70,230.92 649.20,230.94 649.70,230.96 650.20,230.97 650.70,230.99 651.20,231.00 651.70,231.02 652.20,231.03 652.70,231.05 653.20,231.06 653.70,231.07 654.20,231.09 654.70,231.10 655.20,231.11 655.70,231.12 656.20,231.13 656.70,231.14 657.20,231.15 657.70,231.16 658.20,231.17 658.70,231.18 659.20,231.19 659.70,231.20 660.20,231.20 660.70,231.21 661.20,231.22 661.70,231.23 662.20,231.23 662.70,231.24 663.20,231.25 663.70,231.26 664.20,231.26 664.70,231.27 665.20,231.27 665.70,231.28 666.20,231.29 666.70,231.29 667.20,231.30 667.70,231.30 668.20,231.31 668.70,231.31 669.20,231.32 669.70,231.32 670.20,231.33 670.70,231.33 671.20,231.34 671.70,231.34 672.20,231.35 672.70,231.35 673.20,231.35 673.70,231.36 674.20,231.36 674.70,231.36 675.20,231.37 675.70,231.37 676.20,231.38 676.70,231.38 677.20,231.38 677.70,231.39" fill="none" stroke="#5cbf45" stroke-width="0.95" stroke-linejoin="round" />
<path d="M565.20,231.17 565.70,231.17 566.20,231.16 566.70,231.15 567.20,231.14 567.70,231.13 568.20,231.13 568.70,231.12 569.20,231.11 569.70,231.10 570.20,231.09 570.70,231.08 571.20,231.07 571.70,231.06 572.20,231.05 572.70,231.04 573.20,231.02 573.70,231.01 574.20,231.00 574.70,230.99 575.20,230.98 575.70,230.96 576.20,230.95 576.70,230.93 577.20,230.92 577.70,230.90 578.20,230.89 578.70,230.87 579.20,230.85 579.70,230.84 580.20,230.82 580.70,230.80 581.20,230.78 581.70,230.76 582.20,230.74 582.70,230.72 583.20,230.70 583.70,230.67 584.20,230.65 584.70,230.62 585.20,230.60 585.70,230.57 586.20,230.54 586.70,230.51 587.20,230.48 587.70,230.45 588.20,230.41 588.70,230.38 589.20,230.34 589.70,230.30 590.20,230.26 590.70,230.22 591.20,230.18 591.70,230.13 592.20,230.08 592.70,230.03 593.20,229.98 593.70,229.92 594.20,229.87 594.70,229.80 595.20,229.74 595.70,229.67 596.20,229.60 596.70,229.52 597.20,229.44 597.70,229.35 598.20,229.26 598.70,229.16 599.20,229.06 599.70,228.95 600.20,228.83 600.70,228.71 601.20,228.58 601.70,228.43 602.20,228.28 602.70,228.12 603.20,227.94 603.70,227.76 604.20,227.55 604.70,227.33 605.20,227.10 605.70,226.84 606.20,226.56 606.70,226.26 607.20,225.93 607.70,225.57 608.20,225.18 608.70,224.75 609.20,224.27 609.70,223.75 610.20,223.17 610.70,222.54 611.20,221.83 611.70,221.04 612.20,220.17 612.70,219.19 613.20,218.09 613.70,216.86 614.20,215.48 614.70,213.93 615.20,212.18 615.70,210.21 616.20,208.00 616.70,205.54 617.20,202.80 617.70,199.78 618.20,196.52 618.70,193.04 619.20,189.46 619.70,185.92 620.20,182.60 620.70,179.75 621.20,177.63 621.70,176.45 622.20,176.34 622.70,177.31 623.20,179.26 623.70,181.99 624.20,185.23 624.70,188.75 625.20,192.33 625.70,195.83 626.20,199.15 626.70,202.21 627.20,205.01 627.70,207.53 628.20,209.79 628.70,211.80 629.20,213.59 629.70,215.18 630.20,216.60 630.70,217.86 631.20,218.98 631.70,219.98 632.20,220.88 632.70,221.68 633.20,222.40 633.70,223.05 634.20,223.64 634.70,224.17 635.20,224.65 635.70,225.09 636.20,225.49 636.70,225.86 637.20,226.20 637.70,226.50 638.20,226.79 638.70,227.05 639.20,227.29 639.70,227.51 640.20,227.72 640.70,227.91 641.20,228.08 641.70,228.25 642.20,228.40 642.70,228.55 643.20,228.68 643.70,228.81 644.20,228.93 644.70,229.04 645.20,229.14 645.70,229.24 646.20,229.33 646.70,229.42 647.20,229.50 647.70,229.58 648.20,229.66 648.70,229.72 649.20,229.79 649.70,229.85 650.20,229.91 650.70,229.97 651.20,230.02 651.70,230.07 652.20,230.12 652.70,230.17 653.20,230.21 653.70,230.26 654.20,230.30 654.70,230.34 655.20,230.37 655.70,230.41 656.20,230.44 656.70,230.47 657.20,230.51 657.70,230.54 658.20,230.56 658.70,230.59 659.20,230.62 659.70,230.64 660.20,230.67 660.70,230.69 661.20,230.71 661.70,230.74 662.20,230.76 662.70,230.78 663.20,230.80 663.70,230.82 664.20,230.83 664.70,230.85 665.20,230.87 665.70,230.88 666.20,230.90 666.70,230.92 667.20,230.93 667.70,230.95 668.20,230.96 668.70,230.97 669.20,230.99 669.70,231.00 670.20,231.01 670.70,231.02 671.20,231.03 671.70,231.05 672.20,231.06 672.70,231.07 673.20,231.08 673.70,231.09 674.20,231.10 674.70,231.11 675.20,231.12 675.70,231.12 676.20,231.13 676.70,231.14 677.20,231.15 677.70,231.16" fill="none" stroke="#5cbf45" stroke-width="0.95" stroke-linejoin="round" />
<path d="M565.20,232.09 565.70,232.12 566.20,231.87 566.70,231.97 567.20,232.02 567.70,231.85 568.20,232.02 568.70,231.47 569.20,231.59 569.70,231.37 570.20,231.28 570.70,231.33 571.20,231.34 571.70,231.31 572.20,231.26 572.70,231.53 573.20,231.18 573.70,230.61 574.20,230.89 574.70,230.65 575.20,230.59 575.70,230.87 576.20,230.48 576.70,230.05 577.20,230.42 577.70,230.21 578.20,229.94 578.70,229.90 579.20,229.86 579.70,229.89 580.20,229.71 580.70,229.71 581.20,229.96 581.70,229.32 582.20,229.21 582.70,229.21 583.20,229.37 583.70,228.89 584.20,229.20 584.70,228.53 585.20,228.46 585.70,228.54 586.20,228.26 586.70,228.18 587.20,228.27 587.70,228.19 588.20,227.93 588.70,227.71 589.20,227.89 589.70,227.54 590.20,227.26 590.70,227.38 591.20,226.78 591.70,226.82 592.20,226.73 592.70,226.40 593.20,226.08 593.70,226.05 594.20,225.64 594.70,225.40 595.20,225.06 595.70,225.26 596.20,224.61 596.70,224.64 597.20,224.16 597.70,223.66 598.20,223.46 598.70,222.95 599.20,222.43 599.70,221.57 600.20,221.21 600.70,220.62 601.20,219.66 601.70,218.74 602.20,217.67 602.70,216.10 603.20,214.87 603.70,212.43 604.20,210.76 604.70,208.19 605.20,206.59 605.70,204.05 606.20,201.88 606.70,198.96 607.20,196.14 607.70,194.40 608.20,191.61 608.70,189.56 609.20,187.94 609.70,186.52 610.20,184.99 610.70,184.07 611.20,182.84 611.70,182.94 612.20,182.09 612.70,181.72 613.20,181.43 613.70,180.93 614.20,180.42 614.70,179.55 615.20,178.92 615.70,178.08 616.20,177.09 616.70,175.62 617.20,174.32 617.70,172.99 618.20,171.65 618.70,170.25 618.80,169.91 618.90,169.61 619.00,169.69 619.10,169.28 619.20,168.99 619.30,169.45 619.40,168.71 619.50,168.48 619.60,168.13 619.70,167.69 619.80,167.92 619.90,167.48 620.00,167.31 620.10,167.32 620.20,167.14 620.30,166.81 620.40,166.60 620.50,166.85 620.60,166.39 620.70,165.93 620.80,166.15 620.90,165.90 621.00,165.77 621.10,165.81 621.20,165.65 621.30,165.97 621.40,165.61 621.50,165.66 621.60,165.92 621.70,165.70 621.80,166.18 621.90,166.19 622.00,166.69 622.10,166.59 622.20,167.17 622.30,167.13 622.40,167.75 622.50,168.25 622.60,168.77 622.70,169.50 622.80,169.92 622.90,169.74 623.00,170.31 623.10,171.19 623.20,171.50 623.30,171.62 623.40,172.48 623.50,172.65 623.60,173.21 623.70,173.64 623.80,174.35 623.90,175.38 624.00,175.53 624.10,175.98 624.20,177.06 624.30,177.03 624.40,177.66 624.50,178.21 624.60,178.93 624.70,179.37 625.20,182.74 625.70,185.51 626.20,188.86 626.70,191.97 627.20,194.89 627.70,197.92 628.20,201.03 628.70,203.34 629.20,206.38 629.70,208.78 630.20,210.97 630.70,212.90 631.20,214.76 631.70,216.20 632.20,217.83 632.70,218.67 633.20,220.32 633.70,220.99 634.20,222.16 634.70,222.78 635.20,223.51 635.70,224.09 636.20,225.10 636.70,225.16 637.20,225.63 637.70,226.38 638.20,226.82 638.70,227.19 639.20,227.38 639.70,227.81 640.20,228.43 640.70,228.28 641.20,228.83 641.70,229.06 642.20,229.15 642.70,229.07 643.20,229.87 643.70,229.69 644.20,229.88 644.70,229.92 645.20,229.96 645.70,230.25 646.20,230.48 646.70,230.41 647.20,230.73 647.70,231.07 648.20,231.05 648.70,231.06 649.20,231.40 649.70,231.48 650.20,231.59 650.70,231.35 651.20,231.25 651.70,231.86 652.20,231.81 652.70,231.81 653.20,232.07 653.70,231.97 654.20,232.01 654.70,232.58 655.20,231.98 655.70,232.53 656.20,232.64 656.70,232.86 657.20,232.63 657.70,232.75 658.20,232.53 658.70,232.78 659.20,232.41 659.70,232.78 660.20,232.94 660.70,232.96 661.20,232.92 661.70,233.29 662.20,232.77 662.70,233.15 663.20,233.08 663.70,233.19 664.20,233.23 664.70,233.63 665.20,233.06 665.70,233.57 666.20,233.61 666.70,233.33 667.20,233.25 667.70,233.15 668.20,233.25 668.70,233.85 669.20,233.03 669.70,233.58 670.20,233.37 670.70,233.90 671.20,233.61 671.70,233.29 672.20,233.47 672.70,233.63 673.20,233.64 673.70,233.44 674.20,233.58 674.70,233.56 675.20,233.77 675.70,233.74 676.20,233.74 676.70,233.59 677.20,233.88 677.70,233.62" fill="none" stroke="#151515" stroke-width="0.75" stroke-linejoin="round" />
<path d="M565.20,230.20 565.70,230.17 566.20,230.15 566.70,230.12 567.20,230.09 567.70,230.06 568.20,230.03 568.70,230.00 569.20,229.97 569.70,229.94 570.20,229.90 570.70,229.87 571.20,229.83 571.70,229.80 572.20,229.76 572.70,229.72 573.20,229.68 573.70,229.64 574.20,229.60 574.70,229.55 575.20,229.51 575.70,229.46 576.20,229.41 576.70,229.36 577.20,229.31 577.70,229.26 578.20,229.20 578.70,229.14 579.20,229.08 579.70,229.02 580.20,228.96 580.70,228.89 581.20,228.82 581.70,228.75 582.20,228.68 582.70,228.60 583.20,228.52 583.70,228.44 584.20,228.36 584.70,228.27 585.20,228.17 585.70,228.08 586.20,227.98 586.70,227.87 587.20,227.76 587.70,227.65 588.20,227.53 588.70,227.41 589.20,227.28 589.70,227.14 590.20,227.00 590.70,226.86 591.20,226.70 591.70,226.54 592.20,226.37 592.70,226.19 593.20,226.01 593.70,225.81 594.20,225.61 594.70,225.39 595.20,225.16 595.70,224.91 596.20,224.65 596.70,224.36 597.20,224.05 597.70,223.71 598.20,223.33 598.70,222.90 599.20,222.42 599.70,221.86 600.20,221.23 600.70,220.49 601.20,219.64 601.70,218.66 602.20,217.53 602.70,216.24 603.20,214.78 603.70,213.13 604.20,211.32 604.70,209.34 605.20,207.21 605.70,204.96 606.20,202.63 606.70,200.27 607.20,197.91 607.70,195.61 608.20,193.43 608.70,191.40 609.20,189.57 609.70,187.96 610.20,186.58 610.70,185.42 611.20,184.48 611.70,183.71 612.20,183.07 612.70,182.51 613.20,181.98 613.70,181.43 614.20,180.80 614.70,180.06 615.20,179.19 615.70,178.17 616.20,177.01 616.70,175.73 617.20,174.36 617.70,172.96 618.20,171.56 618.70,170.23 618.80,169.97 618.90,169.72 619.00,169.47 619.10,169.23 619.20,169.00 619.30,168.77 619.40,168.54 619.50,168.32 619.60,168.11 619.70,167.90 619.80,167.70 619.90,167.50 620.00,167.31 620.10,167.12 620.20,166.94 620.30,166.77 620.40,166.60 620.50,166.44 620.60,166.28 620.70,166.13 620.80,166.00 620.90,165.87 621.00,165.76 621.10,165.67 621.20,165.61 621.30,165.57 621.40,165.57 621.50,165.61 621.60,165.68 621.70,165.81 621.80,165.98 621.90,166.20 622.00,166.46 622.10,166.76 622.20,167.09 622.30,167.45 622.40,167.84 622.50,168.25 622.60,168.67 622.70,169.10 622.80,169.55 622.90,170.00 623.00,170.47 623.10,170.94 623.20,171.41 623.30,171.89 623.40,172.38 623.50,172.88 623.60,173.38 623.70,173.89 623.80,174.40 623.90,174.93 624.00,175.45 624.10,175.99 624.20,176.53 624.30,177.08 624.40,177.64 624.50,178.20 624.60,178.77 624.70,179.34 625.20,182.30 625.70,185.36 626.20,188.47 626.70,191.59 627.20,194.66 627.70,197.65 628.20,200.51 628.70,203.21 629.20,205.73 629.70,208.05 630.20,210.17 630.70,212.08 631.20,213.79 631.70,215.31 632.20,216.65 632.70,217.83 633.20,218.86 633.70,219.76 634.20,220.54 634.70,221.23 635.20,221.83 635.70,222.37 636.20,222.84 636.70,223.26 637.20,223.64 637.70,223.98 638.20,224.30 638.70,224.59 639.20,224.86 639.70,225.11 640.20,225.35 640.70,225.57 641.20,225.78 641.70,225.98 642.20,226.16 642.70,226.34 643.20,226.51 643.70,226.68 644.20,226.83 644.70,226.98 645.20,227.12 645.70,227.26 646.20,227.39 646.70,227.51 647.20,227.63 647.70,227.75 648.20,227.86 648.70,227.96 649.20,228.06 649.70,228.16 650.20,228.25 650.70,228.34 651.20,228.43 651.70,228.51 652.20,228.59 652.70,228.67 653.20,228.74 653.70,228.81 654.20,228.88 654.70,228.95 655.20,229.01 655.70,229.07 656.20,229.13 656.70,229.19 657.20,229.25 657.70,229.30 658.20,229.35 658.70,229.40 659.20,229.45 659.70,229.50 660.20,229.55 660.70,229.59 661.20,229.63 661.70,229.67 662.20,229.71 662.70,229.75 663.20,229.79 663.70,229.83 664.20,229.86 664.70,229.90 665.20,229.93 665.70,229.96 666.20,230.00 666.70,230.03 667.20,230.06 667.70,230.09 668.20,230.11 668.70,230.14 669.20,230.17 669.70,230.20 670.20,230.22 670.70,230.25 671.20,230.27 671.70,230.29 672.20,230.32 672.70,230.34 673.20,230.36 673.70,230.38 674.20,230.40 674.70,230.42 675.20,230.44 675.70,230.46 676.20,230.48 676.70,230.50 677.20,230.51 677.70,230.53" fill="none" stroke="#f04646" stroke-width="1.1" stroke-linejoin="round" />
<line x1="564.7" y1="245.8" x2="678.1800000000001" y2="245.8" stroke="#9a9a9a" stroke-width="0.9" />
<line x1="565.2" y1="245.8" x2="565.2" y2="247.10000000000002" stroke="#8a8a8a" stroke-width="0.6" />
<line x1="579.26" y1="245.8" x2="579.26" y2="246.70000000000002" stroke="#8a8a8a" stroke-width="0.6" />
<line x1="593.32" y1="245.8" x2="593.32" y2="247.10000000000002" stroke="#8a8a8a" stroke-width="0.6" />
<line x1="607.38" y1="245.8" x2="607.38" y2="246.70000000000002" stroke="#8a8a8a" stroke-width="0.6" />
<line x1="621.44" y1="245.8" x2="621.44" y2="247.10000000000002" stroke="#8a8a8a" stroke-width="0.6" />
<line x1="635.5" y1="245.8" x2="635.5" y2="246.70000000000002" stroke="#8a8a8a" stroke-width="0.6" />
<line x1="649.56" y1="245.8" x2="649.56" y2="247.10000000000002" stroke="#8a8a8a" stroke-width="0.6" />
<line x1="663.62" y1="245.8" x2="663.62" y2="246.70000000000002" stroke="#8a8a8a" stroke-width="0.6" />
<line x1="677.68" y1="245.8" x2="677.68" y2="247.10000000000002" stroke="#8a8a8a" stroke-width="0.6" />
<text x="565.2" y="252.6" font-family="Liberation Sans" font-size="5.5" font-weight="bold" text-anchor="middle" fill="#1c1c1c" stroke="#1c1c1c" stroke-width="0.15" >2500</text>
<text x="593.32" y="252.6" font-family="Liberation Sans" font-size="5.5" font-weight="bold" text-anchor="middle" fill="#1c1c1c" stroke="#1c1c1c" stroke-width="0.15" >2600</text>
<text x="621.44" y="252.6" font-family="Liberation Sans" font-size="5.5" font-weight="bold" text-anchor="middle" fill="#1c1c1c" stroke="#1c1c1c" stroke-width="0.15" >2700</text>
<text x="649.56" y="252.6" font-family="Liberation Sans" font-size="5.5" font-weight="bold" text-anchor="middle" fill="#1c1c1c" stroke="#1c1c1c" stroke-width="0.15" >2800</text>
<text x="677.68" y="252.6" font-family="Liberation Sans" font-size="5.5" font-weight="bold" text-anchor="middle" fill="#1c1c1c" stroke="#1c1c1c" stroke-width="0.15" >2900</text>
<text x="599.6" y="263.0" font-family="Liberation Sans" font-size="5.2" font-weight="bold" text-anchor="start" fill="#1c1c1c" stroke="#1c1c1c" stroke-width="0.15" >Raman Shift (cm<tspan font-size="4.6" dy="-2.1">-1</tspan><tspan dy="2.1">)</tspan></text>
<line x1="10.1" y1="92.0" x2="10.1" y2="194.5" stroke="#2a5089" stroke-width="2.1" stroke-dasharray="8 6.8 2.2 6.9" stroke-dashoffset="3.4000000000000057"/>
<line x1="32.15" y1="92.0" x2="32.15" y2="194.5" stroke="#2a5089" stroke-width="2.1" stroke-dasharray="8 6.8 2.2 6.9" stroke-dashoffset="1.1500000000000057"/>
<line x1="9.0" y1="92.9" x2="14.6" y2="92.9" stroke="#2a5089" stroke-width="1.9"/>
<line x1="21.0" y1="92.9" x2="23.4" y2="92.9" stroke="#2a5089" stroke-width="1.9"/>
<line x1="30.3" y1="92.9" x2="33.1" y2="92.9" stroke="#2a5089" stroke-width="1.9"/>
<line x1="9.0" y1="193.6" x2="15.3" y2="193.6" stroke="#2a5089" stroke-width="1.9"/>
<line x1="21.3" y1="193.6" x2="23.5" y2="193.6" stroke="#2a5089" stroke-width="1.9"/>
<line x1="142.0" y1="71.0" x2="142.0" y2="194.6" stroke="#2a5089" stroke-width="2.1" stroke-dasharray="17.6 6.6 2.2 6.6 2.2 6.6" stroke-dashoffset="19.4"/>
<line x1="164.0" y1="71.0" x2="164.0" y2="194.6" stroke="#2a5089" stroke-width="2.1" stroke-dasharray="17.6 6.6 2.2 6.6 2.2 6.6" stroke-dashoffset="19.4"/>
<line x1="144.0" y1="71.1" x2="162.2" y2="71.1" stroke="#2a5089" stroke-width="1.9"/>
<line x1="146.6" y1="193.8" x2="148.79999999999998" y2="193.8" stroke="#2a5089" stroke-width="2.0"/>
<line x1="155.3" y1="193.8" x2="157.5" y2="193.8" stroke="#2a5089" stroke-width="2.0"/>
<line x1="353.0" y1="119.4" x2="353.0" y2="190.2" stroke="#2a5089" stroke-width="2.1" stroke-dasharray="8.8 6.6 2.2 6.6" stroke-dashoffset="11.4"/>
<line x1="366.4" y1="119.4" x2="366.4" y2="190.2" stroke="#2a5089" stroke-width="2.1" stroke-dasharray="8.8 6.6 2.2 6.6" stroke-dashoffset="11.4"/>
<line x1="355.5" y1="119.4" x2="364.2" y2="119.4" stroke="#2a5089" stroke-width="1.9"/>
<line x1="357.4" y1="189.4" x2="359.6" y2="189.4" stroke="#2a5089" stroke-width="2.0"/>
<line x1="485.2" y1="92.5" x2="502.4" y2="92.5" stroke="#2a5089" stroke-width="2.0"/>
<line x1="506.9" y1="95.0" x2="506.9" y2="190.4" stroke="#2a5089" stroke-width="2.1" stroke-dasharray="16.8 6.4" stroke-dashoffset="0"/>
<line x1="485.2" y1="99.8" x2="485.2" y2="190.4" stroke="#2a5089" stroke-width="2.1" stroke-dasharray="17.1 6.4" stroke-dashoffset="0"/>
<line x1="487.8" y1="189.7" x2="500.9" y2="189.7" stroke="#2a5089" stroke-width="2.0"/>
<line x1="168.3" y1="94.3" x2="256.0" y2="46.6" stroke="#3d72c0" stroke-width="2.0" stroke-linecap="butt"/>
<path d="M246.02,46.00 L256.0,46.6 L251.08,55.31" fill="none" stroke="#3d72c0" stroke-width="2.0" stroke-linecap="butt" stroke-linejoin="miter"/>
<line x1="168.5" y1="116.8" x2="260.4" y2="176.4" stroke="#3d72c0" stroke-width="2.0" stroke-linecap="butt"/>
<path d="M256.17,167.34 L260.4,176.4 L250.40,176.23" fill="none" stroke="#3d72c0" stroke-width="2.0" stroke-linecap="butt" stroke-linejoin="miter"/>
<line x1="508.0" y1="110.0" x2="584.5" y2="62.9" stroke="#3d72c0" stroke-width="2.0" stroke-linecap="butt"/>
<path d="M574.50,62.83 L584.5,62.9 L580.06,71.86" fill="none" stroke="#3d72c0" stroke-width="2.0" stroke-linecap="butt" stroke-linejoin="miter"/>
<line x1="507.1" y1="159.4" x2="589.8" y2="210.4" stroke="#3d72c0" stroke-width="2.0" stroke-linecap="butt"/>
<path d="M585.36,201.44 L589.8,210.4 L579.80,210.46" fill="none" stroke="#3d72c0" stroke-width="2.0" stroke-linecap="butt" stroke-linejoin="miter"/>
<line x1="50.1" y1="102.1" x2="71.3" y2="93.3" stroke="#3d72c0" stroke-width="2.4" stroke-linecap="butt"/>
<path d="M61.88,92.07 L71.3,93.3 L65.52,100.84" fill="none" stroke="#3d72c0" stroke-width="2.4" stroke-linecap="butt" stroke-linejoin="miter"/>
<line x1="388.6" y1="117.7" x2="405.5" y2="106.4" stroke="#3d72c0" stroke-width="2.4" stroke-linecap="butt"/>
<path d="M396.02,107.02 L405.5,106.4 L401.30,114.92" fill="none" stroke="#3d72c0" stroke-width="2.4" stroke-linecap="butt" stroke-linejoin="miter"/>
<text x="180.5" y="78.2" font-family="Liberation Serif" font-size="13.2" font-weight="bold" text-anchor="start" fill="#000" stroke="#000" stroke-width="0.3" transform="rotate(-27.5 180.5 78.2)" >Deconvolution</text>
<text x="180.4" y="119.8" font-family="Liberation Serif" font-size="13.2" font-weight="bold" text-anchor="start" fill="#000" stroke="#000" stroke-width="0.3" transform="rotate(33.0 180.4 119.8)" >Deconvolution</text>
<text x="511.0" y="97.3" font-family="Liberation Serif" font-size="13.2" font-weight="bold" text-anchor="start" fill="#000" stroke="#000" stroke-width="0.3" transform="rotate(-29.6 511.0 97.3)" >Deconvolution</text>
<text x="520.3" y="154.0" font-family="Liberation Serif" font-size="13.2" font-weight="bold" text-anchor="start" fill="#000" stroke="#000" stroke-width="0.3" transform="rotate(32.0 520.3 154.0)" >Deconvolution</text>
<text x="108.4" y="282.9" font-family="Liberation Sans" font-size="17" font-weight="normal" text-anchor="start" fill="#111" stroke="#111" stroke-width="0.5" >(a)</text>
<text x="447.0" y="279.3" font-family="Liberation Sans" font-size="17" font-weight="normal" text-anchor="start" fill="#111" stroke="#111" stroke-width="0.5" >(b)</text>
</svg>
</body></html>
